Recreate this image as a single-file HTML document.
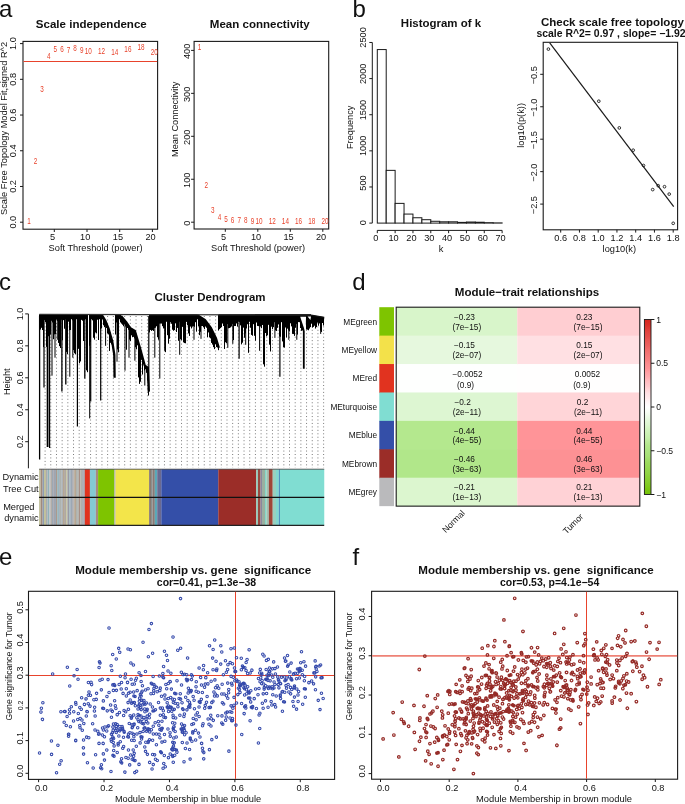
<!DOCTYPE html>
<html><head><meta charset="utf-8"><style>
html,body{margin:0;padding:0;background:#fff;width:685px;height:804px;overflow:hidden;}
svg{display:block;font-family:"Liberation Sans", sans-serif;will-change:transform;}
</style></head><body>
<svg width="685" height="804" viewBox="0 0 685 804" font-family='"Liberation Sans", sans-serif'>
<text x="-0.9" y="17.3" font-size="24" text-anchor="start" fill="#111">a</text>
<text x="352.6" y="17.3" font-size="24" text-anchor="start" fill="#111">b</text>
<text x="-1" y="290.4" font-size="24" text-anchor="start" fill="#111">c</text>
<text x="352.3" y="290.4" font-size="24" text-anchor="start" fill="#111">d</text>
<text x="-0.9" y="565" font-size="24" text-anchor="start" fill="#111">e</text>
<text x="352.4" y="565" font-size="24" text-anchor="start" fill="#111">f</text>
<text x="91.3" y="27.6" font-size="11.5" text-anchor="middle" fill="#111" font-weight="bold" textLength="110.9" lengthAdjust="spacingAndGlyphs">Scale independence</text>
<rect x="23" y="41.4" width="134.6" height="187.8" fill="none" stroke="#1a1a1a" stroke-width="1.1" />
<line x1="20" y1="222.2" x2="23" y2="222.2" stroke="#1a1a1a" stroke-width="1" />
<text transform="translate(16.4 222.2) rotate(-90)" font-size="9.2" text-anchor="middle" fill="#111">0.0</text>
<line x1="20" y1="186.48" x2="23" y2="186.48" stroke="#1a1a1a" stroke-width="1" />
<text transform="translate(16.4 186.48) rotate(-90)" font-size="9.2" text-anchor="middle" fill="#111">0.2</text>
<line x1="20" y1="150.76" x2="23" y2="150.76" stroke="#1a1a1a" stroke-width="1" />
<text transform="translate(16.4 150.76) rotate(-90)" font-size="9.2" text-anchor="middle" fill="#111">0.4</text>
<line x1="20" y1="115.04" x2="23" y2="115.04" stroke="#1a1a1a" stroke-width="1" />
<text transform="translate(16.4 115.04) rotate(-90)" font-size="9.2" text-anchor="middle" fill="#111">0.6</text>
<line x1="20" y1="79.32" x2="23" y2="79.32" stroke="#1a1a1a" stroke-width="1" />
<text transform="translate(16.4 79.32) rotate(-90)" font-size="9.2" text-anchor="middle" fill="#111">0.8</text>
<line x1="20" y1="43.6" x2="23" y2="43.6" stroke="#1a1a1a" stroke-width="1" />
<text transform="translate(16.4 43.6) rotate(-90)" font-size="9.2" text-anchor="middle" fill="#111">1.0</text>
<line x1="54.3" y1="229.2" x2="54.3" y2="232" stroke="#1a1a1a" stroke-width="1" />
<text x="52.5" y="239.6" font-size="9.2" text-anchor="middle" fill="#111">5</text>
<line x1="87" y1="229.2" x2="87" y2="232" stroke="#1a1a1a" stroke-width="1" />
<text x="85.2" y="239.6" font-size="9.2" text-anchor="middle" fill="#111">10</text>
<line x1="119.7" y1="229.2" x2="119.7" y2="232" stroke="#1a1a1a" stroke-width="1" />
<text x="117.9" y="239.6" font-size="9.2" text-anchor="middle" fill="#111">15</text>
<line x1="152.4" y1="229.2" x2="152.4" y2="232" stroke="#1a1a1a" stroke-width="1" />
<text x="150.6" y="239.6" font-size="9.2" text-anchor="middle" fill="#111">20</text>
<text x="95.6" y="251.4" font-size="9.25" text-anchor="middle" fill="#111" textLength="94" lengthAdjust="spacingAndGlyphs">Soft Threshold (power)</text>
<text transform="translate(7.3 128.4) rotate(-90)" font-size="9.25" text-anchor="middle" fill="#111" textLength="173" lengthAdjust="spacingAndGlyphs">Scale Free Topology Model Fit,signed R^2</text>
<line x1="23.5" y1="61.5" x2="157.1" y2="61.5" stroke="#e8432c" stroke-width="1.1" />
<text transform="translate(28.9 223.9) scale(0.74 1)" font-size="8.6" text-anchor="middle" fill="#e8432c">1</text>
<text transform="translate(35.5 163.7) scale(0.74 1)" font-size="8.6" text-anchor="middle" fill="#e8432c">2</text>
<text transform="translate(42.1 92.4) scale(0.74 1)" font-size="8.6" text-anchor="middle" fill="#e8432c">3</text>
<text transform="translate(48.7 58.9) scale(0.74 1)" font-size="8.6" text-anchor="middle" fill="#e8432c">4</text>
<text transform="translate(55.3 52.3) scale(0.74 1)" font-size="8.6" text-anchor="middle" fill="#e8432c">5</text>
<text transform="translate(61.9 52.3) scale(0.74 1)" font-size="8.6" text-anchor="middle" fill="#e8432c">6</text>
<text transform="translate(68.5 53.2) scale(0.74 1)" font-size="8.6" text-anchor="middle" fill="#e8432c">7</text>
<text transform="translate(75.1 51.4) scale(0.74 1)" font-size="8.6" text-anchor="middle" fill="#e8432c">8</text>
<text transform="translate(81.7 53.2) scale(0.74 1)" font-size="8.6" text-anchor="middle" fill="#e8432c">9</text>
<text transform="translate(88.3 54) scale(0.74 1)" font-size="8.6" text-anchor="middle" fill="#e8432c">10</text>
<text transform="translate(101.5 53.5) scale(0.74 1)" font-size="8.6" text-anchor="middle" fill="#e8432c">12</text>
<text transform="translate(114.7 55) scale(0.74 1)" font-size="8.6" text-anchor="middle" fill="#e8432c">14</text>
<text transform="translate(127.9 52.1) scale(0.74 1)" font-size="8.6" text-anchor="middle" fill="#e8432c">16</text>
<text transform="translate(141.1 50.1) scale(0.74 1)" font-size="8.6" text-anchor="middle" fill="#e8432c">18</text>
<text transform="translate(154.3 54.6) scale(0.74 1)" font-size="8.6" text-anchor="middle" fill="#e8432c">20</text>
<text x="259.8" y="27.6" font-size="11.5" text-anchor="middle" fill="#111" font-weight="bold" textLength="99.9" lengthAdjust="spacingAndGlyphs">Mean connectivity</text>
<rect x="194.1" y="41.4" width="134.6" height="187.6" fill="none" stroke="#1a1a1a" stroke-width="1.1" />
<line x1="191.1" y1="222.2" x2="194.1" y2="222.2" stroke="#1a1a1a" stroke-width="1" />
<text transform="translate(189.5 223.2) rotate(-90)" font-size="9.2" text-anchor="middle" fill="#111">0</text>
<line x1="191.1" y1="179.25" x2="194.1" y2="179.25" stroke="#1a1a1a" stroke-width="1" />
<text transform="translate(189.5 180.25) rotate(-90)" font-size="9.2" text-anchor="middle" fill="#111">100</text>
<line x1="191.1" y1="136.3" x2="194.1" y2="136.3" stroke="#1a1a1a" stroke-width="1" />
<text transform="translate(189.5 137.3) rotate(-90)" font-size="9.2" text-anchor="middle" fill="#111">200</text>
<line x1="191.1" y1="93.35" x2="194.1" y2="93.35" stroke="#1a1a1a" stroke-width="1" />
<text transform="translate(189.5 94.35) rotate(-90)" font-size="9.2" text-anchor="middle" fill="#111">300</text>
<line x1="191.1" y1="50.4" x2="194.1" y2="50.4" stroke="#1a1a1a" stroke-width="1" />
<text transform="translate(189.5 51.4) rotate(-90)" font-size="9.2" text-anchor="middle" fill="#111">400</text>
<line x1="225.3" y1="229" x2="225.3" y2="231.8" stroke="#1a1a1a" stroke-width="1" />
<text x="223.5" y="239.6" font-size="9.2" text-anchor="middle" fill="#111">5</text>
<line x1="257.8" y1="229" x2="257.8" y2="231.8" stroke="#1a1a1a" stroke-width="1" />
<text x="256" y="239.6" font-size="9.2" text-anchor="middle" fill="#111">10</text>
<line x1="290.3" y1="229" x2="290.3" y2="231.8" stroke="#1a1a1a" stroke-width="1" />
<text x="288.5" y="239.6" font-size="9.2" text-anchor="middle" fill="#111">15</text>
<line x1="322.8" y1="229" x2="322.8" y2="231.8" stroke="#1a1a1a" stroke-width="1" />
<text x="321" y="239.6" font-size="9.2" text-anchor="middle" fill="#111">20</text>
<text x="258.1" y="251.4" font-size="9.25" text-anchor="middle" fill="#111" textLength="94" lengthAdjust="spacingAndGlyphs">Soft Threshold (power)</text>
<text transform="translate(178.3 119.3) rotate(-90)" font-size="9.25" text-anchor="middle" fill="#111" textLength="75.4" lengthAdjust="spacingAndGlyphs">Mean Connectivity</text>
<text transform="translate(199.6 50) scale(0.74 1)" font-size="8.6" text-anchor="middle" fill="#e8432c">1</text>
<text transform="translate(206.2 187.5) scale(0.74 1)" font-size="8.6" text-anchor="middle" fill="#e8432c">2</text>
<text transform="translate(212.8 212.6) scale(0.74 1)" font-size="8.6" text-anchor="middle" fill="#e8432c">3</text>
<text transform="translate(219.4 219.5) scale(0.74 1)" font-size="8.6" text-anchor="middle" fill="#e8432c">4</text>
<text transform="translate(226 221.5) scale(0.74 1)" font-size="8.6" text-anchor="middle" fill="#e8432c">5</text>
<text transform="translate(232.6 223.1) scale(0.74 1)" font-size="8.6" text-anchor="middle" fill="#e8432c">6</text>
<text transform="translate(239.2 223.1) scale(0.74 1)" font-size="8.6" text-anchor="middle" fill="#e8432c">7</text>
<text transform="translate(245.8 223.3) scale(0.74 1)" font-size="8.6" text-anchor="middle" fill="#e8432c">8</text>
<text transform="translate(252.4 223.6) scale(0.74 1)" font-size="8.6" text-anchor="middle" fill="#e8432c">9</text>
<text transform="translate(259 223.6) scale(0.74 1)" font-size="8.6" text-anchor="middle" fill="#e8432c">10</text>
<text transform="translate(272.2 223.7) scale(0.74 1)" font-size="8.6" text-anchor="middle" fill="#e8432c">12</text>
<text transform="translate(285.4 223.7) scale(0.74 1)" font-size="8.6" text-anchor="middle" fill="#e8432c">14</text>
<text transform="translate(298.6 223.7) scale(0.74 1)" font-size="8.6" text-anchor="middle" fill="#e8432c">16</text>
<text transform="translate(311.8 223.7) scale(0.74 1)" font-size="8.6" text-anchor="middle" fill="#e8432c">18</text>
<text transform="translate(325 223.7) scale(0.74 1)" font-size="8.6" text-anchor="middle" fill="#e8432c">20</text>
<text x="441" y="26.5" font-size="11.5" text-anchor="middle" fill="#111" font-weight="bold" textLength="80.3" lengthAdjust="spacingAndGlyphs">Histogram of k</text>
<rect x="377.3" y="49.56" width="8.91" height="173.54" fill="#fff" stroke="#1a1a1a" stroke-width="1" />
<rect x="386.22" y="170.36" width="8.91" height="52.74" fill="#fff" stroke="#1a1a1a" stroke-width="1" />
<rect x="395.13" y="203.38" width="8.91" height="19.72" fill="#fff" stroke="#1a1a1a" stroke-width="1" />
<rect x="404.05" y="214.07" width="8.91" height="9.03" fill="#fff" stroke="#1a1a1a" stroke-width="1" />
<rect x="412.96" y="217.75" width="8.91" height="5.35" fill="#fff" stroke="#1a1a1a" stroke-width="1" />
<rect x="421.88" y="219.7" width="8.91" height="3.4" fill="#fff" stroke="#1a1a1a" stroke-width="1" />
<rect x="430.79" y="221.29" width="8.91" height="1.81" fill="#fff" stroke="#1a1a1a" stroke-width="1" />
<rect x="439.7" y="221.8" width="8.91" height="1.3" fill="#fff" stroke="#1a1a1a" stroke-width="1" />
<rect x="448.62" y="221.8" width="8.91" height="1.3" fill="#fff" stroke="#1a1a1a" stroke-width="1" />
<rect x="457.54" y="222.38" width="8.91" height="0.72" fill="#fff" stroke="#1a1a1a" stroke-width="1" />
<rect x="466.45" y="222.02" width="8.91" height="1.08" fill="#fff" stroke="#1a1a1a" stroke-width="1" />
<rect x="475.37" y="222.23" width="8.91" height="0.87" fill="#fff" stroke="#1a1a1a" stroke-width="1" />
<rect x="484.28" y="222.67" width="8.91" height="0.43" fill="#fff" stroke="#1a1a1a" stroke-width="1" />
<rect x="493.19" y="222.88" width="8.91" height="0.22" fill="#fff" stroke="#1a1a1a" stroke-width="1" />
<line x1="372.3" y1="223.1" x2="372.3" y2="42.47" stroke="#1a1a1a" stroke-width="1" />
<line x1="369.3" y1="223.1" x2="372.3" y2="223.1" stroke="#1a1a1a" stroke-width="1" />
<text transform="translate(365.9 222.8) rotate(-90)" font-size="9.2" text-anchor="middle" fill="#111">0</text>
<line x1="369.3" y1="186.97" x2="372.3" y2="186.97" stroke="#1a1a1a" stroke-width="1" />
<text transform="translate(365.9 182.97) rotate(-90)" font-size="9.2" text-anchor="middle" fill="#111">500</text>
<line x1="369.3" y1="150.85" x2="372.3" y2="150.85" stroke="#1a1a1a" stroke-width="1" />
<text transform="translate(365.9 145.85) rotate(-90)" font-size="9.2" text-anchor="middle" fill="#111">1000</text>
<line x1="369.3" y1="114.73" x2="372.3" y2="114.73" stroke="#1a1a1a" stroke-width="1" />
<text transform="translate(365.9 110.03) rotate(-90)" font-size="9.2" text-anchor="middle" fill="#111">1500</text>
<line x1="369.3" y1="78.6" x2="372.3" y2="78.6" stroke="#1a1a1a" stroke-width="1" />
<text transform="translate(365.9 73.8) rotate(-90)" font-size="9.2" text-anchor="middle" fill="#111">2000</text>
<line x1="369.3" y1="42.47" x2="372.3" y2="42.47" stroke="#1a1a1a" stroke-width="1" />
<text transform="translate(365.9 37.47) rotate(-90)" font-size="9.2" text-anchor="middle" fill="#111">2500</text>
<line x1="377.3" y1="230.4" x2="502.11" y2="230.4" stroke="#1a1a1a" stroke-width="1" />
<line x1="377.3" y1="230.4" x2="377.3" y2="233.2" stroke="#1a1a1a" stroke-width="1" />
<text x="375.8" y="240.8" font-size="9.2" text-anchor="middle" fill="#111">0</text>
<line x1="395.13" y1="230.4" x2="395.13" y2="233.2" stroke="#1a1a1a" stroke-width="1" />
<text x="393.63" y="240.8" font-size="9.2" text-anchor="middle" fill="#111">10</text>
<line x1="412.96" y1="230.4" x2="412.96" y2="233.2" stroke="#1a1a1a" stroke-width="1" />
<text x="411.46" y="240.8" font-size="9.2" text-anchor="middle" fill="#111">20</text>
<line x1="430.79" y1="230.4" x2="430.79" y2="233.2" stroke="#1a1a1a" stroke-width="1" />
<text x="429.29" y="240.8" font-size="9.2" text-anchor="middle" fill="#111">30</text>
<line x1="448.62" y1="230.4" x2="448.62" y2="233.2" stroke="#1a1a1a" stroke-width="1" />
<text x="447.12" y="240.8" font-size="9.2" text-anchor="middle" fill="#111">40</text>
<line x1="466.45" y1="230.4" x2="466.45" y2="233.2" stroke="#1a1a1a" stroke-width="1" />
<text x="464.95" y="240.8" font-size="9.2" text-anchor="middle" fill="#111">50</text>
<line x1="484.28" y1="230.4" x2="484.28" y2="233.2" stroke="#1a1a1a" stroke-width="1" />
<text x="482.78" y="240.8" font-size="9.2" text-anchor="middle" fill="#111">60</text>
<line x1="502.11" y1="230.4" x2="502.11" y2="233.2" stroke="#1a1a1a" stroke-width="1" />
<text x="500.61" y="240.8" font-size="9.2" text-anchor="middle" fill="#111">70</text>
<text x="441" y="252.4" font-size="9.25" text-anchor="middle" fill="#111">k</text>
<text transform="translate(353.3 127.3) rotate(-90)" font-size="9.25" text-anchor="middle" fill="#111" textLength="43.5" lengthAdjust="spacingAndGlyphs">Frequency</text>
<text x="612.4" y="26.3" font-size="11.5" text-anchor="middle" fill="#111" font-weight="bold" textLength="143" lengthAdjust="spacingAndGlyphs">Check scale free topology</text>
<text x="536.4" y="36.6" font-size="10.4" text-anchor="start" fill="#111" font-weight="bold" textLength="149.2" lengthAdjust="spacingAndGlyphs">scale R^2= 0.97 , slope= −1.92</text>
<rect x="543.2" y="42.3" width="134.4" height="187.5" fill="none" stroke="#1a1a1a" stroke-width="1.1" />
<line x1="540.2" y1="74.3" x2="543.2" y2="74.3" stroke="#1a1a1a" stroke-width="1" />
<text transform="translate(537 75.3) rotate(-90)" font-size="9.2" text-anchor="middle" fill="#111">−0.5</text>
<line x1="540.2" y1="106.75" x2="543.2" y2="106.75" stroke="#1a1a1a" stroke-width="1" />
<text transform="translate(537 107.75) rotate(-90)" font-size="9.2" text-anchor="middle" fill="#111">−1.0</text>
<line x1="540.2" y1="139.2" x2="543.2" y2="139.2" stroke="#1a1a1a" stroke-width="1" />
<text transform="translate(537 140.2) rotate(-90)" font-size="9.2" text-anchor="middle" fill="#111">−1.5</text>
<line x1="540.2" y1="171.65" x2="543.2" y2="171.65" stroke="#1a1a1a" stroke-width="1" />
<text transform="translate(537 172.65) rotate(-90)" font-size="9.2" text-anchor="middle" fill="#111">−2.0</text>
<line x1="540.2" y1="204.1" x2="543.2" y2="204.1" stroke="#1a1a1a" stroke-width="1" />
<text transform="translate(537 205.1) rotate(-90)" font-size="9.2" text-anchor="middle" fill="#111">−2.5</text>
<line x1="560.7" y1="229.8" x2="560.7" y2="232.6" stroke="#1a1a1a" stroke-width="1" />
<text x="560.7" y="240.6" font-size="9.2" text-anchor="middle" fill="#111">0.6</text>
<line x1="579.45" y1="229.8" x2="579.45" y2="232.6" stroke="#1a1a1a" stroke-width="1" />
<text x="579.45" y="240.6" font-size="9.2" text-anchor="middle" fill="#111">0.8</text>
<line x1="598.2" y1="229.8" x2="598.2" y2="232.6" stroke="#1a1a1a" stroke-width="1" />
<text x="598.2" y="240.6" font-size="9.2" text-anchor="middle" fill="#111">1.0</text>
<line x1="616.95" y1="229.8" x2="616.95" y2="232.6" stroke="#1a1a1a" stroke-width="1" />
<text x="616.95" y="240.6" font-size="9.2" text-anchor="middle" fill="#111">1.2</text>
<line x1="635.7" y1="229.8" x2="635.7" y2="232.6" stroke="#1a1a1a" stroke-width="1" />
<text x="635.7" y="240.6" font-size="9.2" text-anchor="middle" fill="#111">1.4</text>
<line x1="654.45" y1="229.8" x2="654.45" y2="232.6" stroke="#1a1a1a" stroke-width="1" />
<text x="654.45" y="240.6" font-size="9.2" text-anchor="middle" fill="#111">1.6</text>
<line x1="673.2" y1="229.8" x2="673.2" y2="232.6" stroke="#1a1a1a" stroke-width="1" />
<text x="673.2" y="240.6" font-size="9.2" text-anchor="middle" fill="#111">1.8</text>
<text x="619.3" y="252.4" font-size="9.25" text-anchor="middle" fill="#111">log10(k)</text>
<text transform="translate(524.3 125.4) rotate(-90)" font-size="9.25" text-anchor="middle" fill="#111" textLength="44.8" lengthAdjust="spacingAndGlyphs">log10(p(k))</text>
<line x1="549.7" y1="42.8" x2="673.7" y2="206.7" stroke="#1a1a1a" stroke-width="1.2" />
<circle cx="548.4" cy="49.1" r="1.35" fill="none" stroke="#1a1a1a" stroke-width="0.9"/>
<circle cx="598.8" cy="101.2" r="1.35" fill="none" stroke="#1a1a1a" stroke-width="0.9"/>
<circle cx="619.3" cy="127.9" r="1.35" fill="none" stroke="#1a1a1a" stroke-width="0.9"/>
<circle cx="633.2" cy="150.2" r="1.35" fill="none" stroke="#1a1a1a" stroke-width="0.9"/>
<circle cx="643.5" cy="165.5" r="1.35" fill="none" stroke="#1a1a1a" stroke-width="0.9"/>
<circle cx="652.7" cy="189.6" r="1.35" fill="none" stroke="#1a1a1a" stroke-width="0.9"/>
<circle cx="658.2" cy="185.7" r="1.35" fill="none" stroke="#1a1a1a" stroke-width="0.9"/>
<circle cx="664.5" cy="186.7" r="1.35" fill="none" stroke="#1a1a1a" stroke-width="0.9"/>
<circle cx="669.2" cy="194.1" r="1.35" fill="none" stroke="#1a1a1a" stroke-width="0.9"/>
<circle cx="673.2" cy="223.3" r="1.35" fill="none" stroke="#1a1a1a" stroke-width="0.9"/>
<text x="210" y="300.9" font-size="11.5" text-anchor="middle" fill="#111" font-weight="bold" textLength="111" lengthAdjust="spacingAndGlyphs">Cluster Dendrogram</text>
<line x1="28.4" y1="313.9" x2="28.4" y2="468.3" stroke="#1a1a1a" stroke-width="1" />
<line x1="25.2" y1="313.9" x2="28.4" y2="313.9" stroke="#1a1a1a" stroke-width="1" />
<text transform="translate(22.8 313.9) rotate(-90)" font-size="9.2" text-anchor="middle" fill="#111">1.0</text>
<line x1="25.2" y1="345.85" x2="28.4" y2="345.85" stroke="#1a1a1a" stroke-width="1" />
<text transform="translate(22.8 345.85) rotate(-90)" font-size="9.2" text-anchor="middle" fill="#111">0.8</text>
<line x1="25.2" y1="377.8" x2="28.4" y2="377.8" stroke="#1a1a1a" stroke-width="1" />
<text transform="translate(22.8 377.8) rotate(-90)" font-size="9.2" text-anchor="middle" fill="#111">0.6</text>
<line x1="25.2" y1="409.75" x2="28.4" y2="409.75" stroke="#1a1a1a" stroke-width="1" />
<text transform="translate(22.8 409.75) rotate(-90)" font-size="9.2" text-anchor="middle" fill="#111">0.4</text>
<line x1="25.2" y1="441.7" x2="28.4" y2="441.7" stroke="#1a1a1a" stroke-width="1" />
<text transform="translate(22.8 441.7) rotate(-90)" font-size="9.2" text-anchor="middle" fill="#111">0.2</text>
<text transform="translate(9.8 381.7) rotate(-90)" font-size="9.25" text-anchor="middle" fill="#111">Height</text>
<path d="M45.1 316V468M50.78 316V468M56.47 316V468M62.15 316V468M67.84 316V468M73.52 316V468M79.2 316V468M84.89 316V468M90.57 316V468M96.26 316V468M101.94 316V468M107.62 316V468M113.31 316V468M118.99 316V468M124.68 316V468M130.36 316V468M136.04 316V468M141.73 316V468M147.41 316V468M153.1 316V468M158.78 316V468M164.46 316V468M170.15 316V468M175.83 316V468M181.52 316V468M187.2 316V468M192.88 316V468M198.57 316V468M204.25 316V468M209.94 316V468M215.62 316V468M221.3 316V468M226.99 316V468M232.67 316V468M238.36 316V468M244.04 316V468M249.72 316V468M255.41 316V468M261.09 316V468M266.78 316V468M272.46 316V468M278.14 316V468M283.83 316V468M289.51 316V468M295.2 316V468M300.88 316V468M306.56 316V468M312.25 316V468M317.93 316V468M323.62 316V468" stroke="#7a7a7a" stroke-width="1" stroke-dasharray="1 2.45" fill="none"/>
<rect x="39.4" y="314.2" width="48.6" height="5" fill="#000" stroke="none" stroke-width="1" />
<rect x="89.6" y="314.2" width="12.3" height="5" fill="#000" stroke="none" stroke-width="1" />
<rect x="115" y="314.2" width="6" height="5" fill="#000" stroke="none" stroke-width="1" />
<rect x="149.8" y="314.2" width="47.2" height="5" fill="#000" stroke="none" stroke-width="1" />
<rect x="218.8" y="314.2" width="105.4" height="5" fill="#000" stroke="none" stroke-width="1" />
<path d="M39.5 314.7V350.2M40.5 314.7V329.57M41.5 314.7V327.82M42.5 314.7V330.04M43.5 314.7V347.12M44.5 314.7V319.96M45.5 314.7V322.36M46.5 314.7V346.85M47.5 314.7V341.2M48.5 314.7V336.24M49.5 314.7V335.77M50.5 314.7V334.61M51.5 314.7V320.77M52.5 314.7V322.46M53.5 314.7V339.19M54.5 314.7V334.37M55.5 314.7V334.14M56.5 314.7V319.46M57.5 314.7V320.99M58.5 314.7V342.9M59.5 314.7V346.13M60.5 314.7V348.04M61.5 314.7V319.73M62.5 314.7V340.07M63.5 314.7V320.15M64.5 314.7V328.72M65.5 314.7V318.42M66.5 314.7V351.91M67.5 314.7V354.02M68.5 314.7V321.69M69.5 314.7V330.15M70.5 314.7V330.04M71.5 314.7V318.99M72.5 314.7V320.3M73.5 314.7V350.04M74.5 314.7V353.28M75.5 314.7V354.4M76.5 314.7V319.04M77.5 314.7V346.88M78.5 314.7V348.84M79.5 314.7V363.27M80.5 314.7V361.33M81.5 314.7V319.84M82.5 314.7V320.7M83.5 314.7V341.03M84.5 314.7V320.02M85.5 314.7V317.98M86.5 314.7V370.37M87.5 314.7V372.19M89.5 314.7V345.78M90.5 314.7V342.15M91.5 314.7V317.87M92.5 314.7V320.36M93.5 314.7V337.75M94.5 314.7V339.62M95.5 314.7V332.56M96.5 314.7V333.16M97.5 314.7V319.66M98.5 314.7V340.03M99.5 314.7V317.92M100.5 314.7V329.01M101.5 314.7V328.43M101.5 315V318.92M102.5 315.97V319.51M103.5 317.58V325.28M104.5 319.19V327.16M105.5 321.2V325.69M106.5 323.6V327.96M107.5 326V333.33M108.5 328.4V334.45M109.5 331.84V350.98M110.5 335.29V342.84M111.5 338.73V344.42M112.5 343.33V348.17M113.5 349.65V355.25M114.5 370.03V375.71M115.5 314.7V334.55M116.5 314.7V322.49M117.5 314.7V349.38M118.5 314.7V352.31M119.5 314.7V318.89M120.5 314.7V322.4M121.5 316.6V323.65M122.5 317.8V324.75M123.5 319V326.25M124.5 320.2V324.41M125.5 321.4V326.52M126.5 322.75V349.73M127.5 324.25V327.99M128.5 325.75V329.79M129.5 327.25V339.61M130.5 328.31V341.13M131.5 328.92V335.32M132.5 329.53V337.2M133.5 330.14V336.9M134.5 330.76V338.44M135.5 333.02V346.99M136.5 336.38V349.33M137.5 339.74V345.3M138.5 343.1V377.42M139.5 346.46V383.9M140.5 349.99V381.76M141.5 353.64V359.88M142.5 357.3V374.53M143.5 360.95V364.24M144.5 364.6V370.39M145.5 366.17V369.24M146.5 366.83V372.82M147.5 367.5V380.61M148.5 384.43V395.58M149.5 314.7V332.48M150.5 314.7V329.96M151.5 314.7V330.9M152.5 314.7V330.03M153.5 314.7V330.97M154.5 314.7V328.03M155.5 314.7V327.72M156.5 314.7V326.28M157.5 314.7V337.24M158.5 314.7V339.74M159.5 314.7V323.61M160.5 314.7V323.59M161.5 314.7V323.58M162.5 314.7V326.2M163.5 314.7V328.44M164.5 314.7V328.45M165.5 314.7V352.14M166.5 314.7V321.79M167.5 314.7V335.16M168.5 314.7V343.66M169.5 314.7V338.71M170.5 314.7V322.38M171.5 314.7V323.79M172.5 314.7V329.68M173.5 314.7V330.78M174.5 314.7V330.11M175.5 314.7V323.07M176.5 314.7V331.97M177.5 314.7V327.95M178.5 314.7V340.84M179.5 314.7V321.76M180.5 314.7V339.27M181.5 314.7V340.05M182.5 314.7V326.89M183.5 314.7V342.38M184.5 314.7V343.07M185.5 314.7V343.29M186.5 314.7V321.9M187.5 314.7V325.29M188.5 314.7V333.43M189.5 314.7V335.93M190.5 314.7V326.59M191.5 314.7V328.45M192.5 314.7V326.56M193.5 314.7V326.09M194.5 314.7V326.78M195.5 314.7V322.21M196.5 314.7V331.65M197.5 315.32V319.34M198.5 315.95V326.25M199.5 316.58V335.14M200.5 317.22V331.81M201.5 317.85V326.04M202.5 318.48V326.03M203.5 319.11V327.3M204.5 319.75V329.09M205.5 320.8V326.57M206.5 322.13V327.77M207.5 323.47V337.37M208.5 324.8V332.41M209.5 326.13V337.32M210.5 327.47V338.37M211.5 329.21V342.91M212.5 331.23V344.58M213.5 333.25V347.16M214.5 335.27V349.12M215.5 337.29V344.09M216.5 340.21V347M217.5 343.51V347.23M218.5 346.81V350.19M218.5 314.7V330.59M219.5 314.7V329.18M220.5 314.7V328.17M221.5 314.7V327.11M222.5 314.7V323.53M223.5 314.7V326.03M224.5 314.7V348.95M225.5 314.7V342.28M226.5 314.7V343.24M227.5 314.7V324.06M228.5 314.7V328.29M229.5 314.7V328.02M230.5 314.7V327.46M231.5 314.7V326.47M232.5 314.7V323.83M233.5 314.7V340.03M234.5 314.7V326.05M235.5 314.7V326M236.5 314.7V323.44M237.5 314.7V326.61M238.5 314.7V321.75M239.5 314.7V322.12M240.5 314.7V325.38M241.5 314.7V344.38M242.5 314.7V342.71M243.5 314.7V327.65M244.5 314.7V337.74M245.5 314.7V333.48M246.5 314.7V328.48M247.5 314.7V324.26M248.5 314.7V352.8M249.5 314.7V321.81M250.5 314.7V327.78M251.5 314.7V334.91M252.5 314.7V335.72M253.5 314.7V324.2M254.5 314.7V335.8M255.5 314.7V340.68M256.5 314.7V322.52M257.5 314.7V325.95M258.5 314.7V326.14M259.5 314.7V325.92M260.5 314.7V326.56M261.5 314.7V328.19M262.5 314.7V324.97M263.5 314.7V364.35M264.5 314.7V366.65M265.5 314.7V333M266.5 314.7V336.27M267.5 314.7V335.37M268.5 314.7V324.85M269.5 314.7V344.71M270.5 314.7V351.49M271.5 314.7V326.73M272.5 314.7V329.1M273.5 314.7V327.18M274.5 314.7V322.16M275.5 314.7V330.45M276.5 314.7V331.01M277.5 314.7V327.82M278.5 314.7V324.45M279.5 314.7V336.44M280.5 314.7V336.8M281.5 314.7V322.2M282.5 314.7V341.41M283.5 314.7V347.03M284.5 314.7V347.63M285.5 314.7V327.53M286.5 314.7V337.61M287.5 314.7V328.66M288.5 314.7V330.41M289.5 314.7V331.38M290.5 314.7V323.31M291.5 314.7V326.38M292.5 314.7V333.87M293.5 314.7V334.08M294.5 314.7V335.86M295.5 314.7V327.77M296.5 314.7V323.93M297.5 314.7V334.6M298.5 314.7V322.08M299.5 314.7V322.22M300.5 314.7V328.04M301.5 314.7V330.84M302.5 314.7V330.48M303.5 314.7V324.29M304.5 314.7V325.79M305.5 314.7V324.54M306.5 314.7V329.56M307.5 314.7V329.71M308.5 314.7V330.27M309.5 314.7V328.56M310.5 314.7V327.13M311.5 314.7V323.67M312.5 314.7V327.61M313.5 314.7V326.91M314.5 314.7V325.71M315.5 314.7V328.55M316.5 314.7V327.16M317.5 314.7V322.7M318.5 314.7V325.71M319.5 314.7V323.43M320.5 314.7V330.5M321.5 314.7V331.94M322.5 314.7V323.01M323.5 314.7V325.5M52 316V375.7M55 316V357.7M57.3 316V339.8M69.8 316V376.7M72.8 316V357.7M79.8 316V361.7M89.7 316V418.4M105.6 321.44V345.8M117 316V361.7M125 320.8V370.7M129 326.5V357.7M134.9 331V360.7M144.8 365.7V385.6M154.8 316V357.7M159.8 316V378.6M164.7 316V350.8M179.7 316V354.8M194 316V339.8M201 317.53V338.8M227.8 316V347.8M232.8 316V343.8M245.7 316V344.8M259.6 316V350.8M274.9 316V337.9M288.8 316V339.8M296.8 316V339.8M320.7 316V333.9" stroke="#000" stroke-width="1" fill="none"/>
<path d="M44 316V387.6M49.6 316V448M77.4 316V426.4M90.7 316V401.5M100.7 316V400.5M148.8 316V391.6M239.1 316V358.7M279.9 316V376.7" stroke="#000" stroke-width="1.2" fill="none"/>
<path d="M39.6 316V459.5M61.9 316V391.6M65.8 316V384.6M84.8 316V378.6" stroke="#000" stroke-width="1.3" fill="none"/>
<path d="M47.6 316V447M303.8 316V368.7" stroke="#000" stroke-width="1.8" fill="none"/>
<polygon points="300.2,316.8 306,316.8 305.6,333" fill="#fff"/>
<polygon points="307.6,316.4 311,316.4 310.4,320" fill="#fff"/>
<polygon points="311,313 325,313 325,317.2 311,315" fill="#fff"/>
<line x1="311" y1="315.1" x2="324.2" y2="317.3" stroke="#111" stroke-width="1.3" />
<polyline points="101.9,315 105,320 108.5,328.4 112.1,340.8 114.3,354.7 114.6,377.7" stroke="#000" stroke-width="2.3" fill="none" stroke-linejoin="round"/>
<polyline points="121,316 126,322 130,328 134.9,331 139.9,347.8 144.8,365.7 147.8,367.7 148.8,391.6" stroke="#000" stroke-width="2.3" fill="none" stroke-linejoin="round"/>
<polyline points="197,315 204.9,320 210.9,328 215.8,337.9 218.8,347.8" stroke="#000" stroke-width="2.3" fill="none" stroke-linejoin="round"/>
<line x1="39.4" y1="314.4" x2="311.2" y2="314.9" stroke="#333" stroke-width="1.2" />
<rect x="39.1" y="469" width="1.58" height="56.3" fill="#c0c09a" stroke="none" stroke-width="1" />
<rect x="40.63" y="469" width="2.01" height="56.3" fill="#a08a7c" stroke="none" stroke-width="1" />
<rect x="42.59" y="469" width="1.52" height="56.3" fill="#8e9eb2" stroke="none" stroke-width="1" />
<rect x="44.05" y="469" width="2.09" height="56.3" fill="#c0c09a" stroke="none" stroke-width="1" />
<rect x="46.1" y="469" width="0.81" height="56.3" fill="#9a9aa4" stroke="none" stroke-width="1" />
<rect x="46.86" y="469" width="0.83" height="56.3" fill="#aeb2ae" stroke="none" stroke-width="1" />
<rect x="47.63" y="469" width="1.79" height="56.3" fill="#90b2ba" stroke="none" stroke-width="1" />
<rect x="49.38" y="469" width="1.43" height="56.3" fill="#b8b8b8" stroke="none" stroke-width="1" />
<rect x="50.76" y="469" width="1.17" height="56.3" fill="#b0a8a0" stroke="none" stroke-width="1" />
<rect x="51.87" y="469" width="1.49" height="56.3" fill="#9ca8b4" stroke="none" stroke-width="1" />
<rect x="53.31" y="469" width="1.59" height="56.3" fill="#9a9aa4" stroke="none" stroke-width="1" />
<rect x="54.85" y="469" width="1.35" height="56.3" fill="#9ca8b4" stroke="none" stroke-width="1" />
<rect x="56.16" y="469" width="1.18" height="56.3" fill="#a08a7c" stroke="none" stroke-width="1" />
<rect x="57.28" y="469" width="1.63" height="56.3" fill="#90b2ba" stroke="none" stroke-width="1" />
<rect x="58.86" y="469" width="0.99" height="56.3" fill="#9ca8b4" stroke="none" stroke-width="1" />
<rect x="59.8" y="469" width="1.89" height="56.3" fill="#aeb2ae" stroke="none" stroke-width="1" />
<rect x="61.63" y="469" width="1.21" height="56.3" fill="#9ca8b4" stroke="none" stroke-width="1" />
<rect x="62.79" y="469" width="1.33" height="56.3" fill="#b6a692" stroke="none" stroke-width="1" />
<rect x="64.07" y="469" width="2.21" height="56.3" fill="#b0a8a0" stroke="none" stroke-width="1" />
<rect x="66.24" y="469" width="1.24" height="56.3" fill="#c0c09a" stroke="none" stroke-width="1" />
<rect x="67.43" y="469" width="2.02" height="56.3" fill="#9a9aa4" stroke="none" stroke-width="1" />
<rect x="69.39" y="469" width="0.89" height="56.3" fill="#90b2ba" stroke="none" stroke-width="1" />
<rect x="70.23" y="469" width="1.93" height="56.3" fill="#9ca8b4" stroke="none" stroke-width="1" />
<rect x="72.11" y="469" width="0.78" height="56.3" fill="#9a9aa4" stroke="none" stroke-width="1" />
<rect x="72.85" y="469" width="1.36" height="56.3" fill="#b8b8b8" stroke="none" stroke-width="1" />
<rect x="74.16" y="469" width="1.87" height="56.3" fill="#b6a692" stroke="none" stroke-width="1" />
<rect x="75.98" y="469" width="1.19" height="56.3" fill="#aeb2ae" stroke="none" stroke-width="1" />
<rect x="77.12" y="469" width="1.73" height="56.3" fill="#aeb2ae" stroke="none" stroke-width="1" />
<rect x="78.8" y="469" width="1.63" height="56.3" fill="#a88e84" stroke="none" stroke-width="1" />
<rect x="80.38" y="469" width="1.97" height="56.3" fill="#aeb2ae" stroke="none" stroke-width="1" />
<rect x="82.29" y="469" width="1.43" height="56.3" fill="#9a9aa4" stroke="none" stroke-width="1" />
<rect x="83.68" y="469" width="1.17" height="56.3" fill="#9ca8b4" stroke="none" stroke-width="1" />
<rect x="84.8" y="469" width="5.15" height="56.3" fill="#e1331f" stroke="none" stroke-width="1" />
<rect x="89.9" y="469" width="5.95" height="56.3" fill="#84cad4" stroke="none" stroke-width="1" />
<rect x="95.8" y="469" width="2.35" height="56.3" fill="#a88a80" stroke="none" stroke-width="1" />
<rect x="98.1" y="469" width="16.25" height="56.3" fill="#7ec400" stroke="none" stroke-width="1" />
<rect x="114.3" y="469" width="1.35" height="56.3" fill="#b0b0a0" stroke="none" stroke-width="1" />
<rect x="115.6" y="469" width="33.55" height="56.3" fill="#f3e54a" stroke="none" stroke-width="1" />
<rect x="149.1" y="469" width="1.95" height="56.3" fill="#8a7a70" stroke="none" stroke-width="1" />
<rect x="151" y="469" width="1.55" height="56.3" fill="#8a9090" stroke="none" stroke-width="1" />
<rect x="152.5" y="469" width="2.35" height="56.3" fill="#8a7a75" stroke="none" stroke-width="1" />
<rect x="154.8" y="469" width="2.45" height="56.3" fill="#5aa8b8" stroke="none" stroke-width="1" />
<rect x="157.2" y="469" width="4.15" height="56.3" fill="#6a6a90" stroke="none" stroke-width="1" />
<rect x="161.3" y="469" width="57.05" height="56.3" fill="#344fa8" stroke="none" stroke-width="1" />
<rect x="218.3" y="469" width="37.85" height="56.3" fill="#9b2d28" stroke="none" stroke-width="1" />
<rect x="256.1" y="469" width="1.95" height="56.3" fill="#9ac8b8" stroke="none" stroke-width="1" />
<rect x="258" y="469" width="2.55" height="56.3" fill="#9a4a40" stroke="none" stroke-width="1" />
<rect x="260.5" y="469" width="1.55" height="56.3" fill="#8888a0" stroke="none" stroke-width="1" />
<rect x="262" y="469" width="3.05" height="56.3" fill="#9ab0a0" stroke="none" stroke-width="1" />
<rect x="265" y="469" width="1.55" height="56.3" fill="#88d8c8" stroke="none" stroke-width="1" />
<rect x="266.5" y="469" width="2.35" height="56.3" fill="#a0c0b0" stroke="none" stroke-width="1" />
<rect x="268.8" y="469" width="3.95" height="56.3" fill="#a04538" stroke="none" stroke-width="1" />
<rect x="272.7" y="469" width="3.35" height="56.3" fill="#98d0c0" stroke="none" stroke-width="1" />
<rect x="276" y="469" width="2.85" height="56.3" fill="#80d8d0" stroke="none" stroke-width="1" />
<rect x="278.8" y="469" width="1.25" height="56.3" fill="#5090c0" stroke="none" stroke-width="1" />
<rect x="280" y="469" width="44.25" height="56.3" fill="#80ddd2" stroke="none" stroke-width="1" />
<line x1="39.1" y1="469.2" x2="324.2" y2="469.2" stroke="#555" stroke-width="0.9" />
<line x1="39.1" y1="497.4" x2="324.2" y2="497.4" stroke="#111" stroke-width="1.3" />
<line x1="39.1" y1="525.4" x2="324.2" y2="525.4" stroke="#222" stroke-width="1.1" />
<text x="38.6" y="480.3" font-size="9.25" text-anchor="end" fill="#111">Dynamic</text>
<text x="38.6" y="491.5" font-size="9.25" text-anchor="end" fill="#111">Tree Cut</text>
<text x="34.5" y="510" font-size="9.25" text-anchor="end" fill="#111">Merged</text>
<text x="38.6" y="521" font-size="9.25" text-anchor="end" fill="#111">dynamic</text>
<text x="527" y="295.9" font-size="11.5" text-anchor="middle" fill="#111" font-weight="bold" textLength="144.4" lengthAdjust="spacingAndGlyphs">Module−trait relationships</text>
<rect x="379.3" y="307.2" width="14.7" height="29.02" fill="#7ec400" stroke="none" stroke-width="1" />
<rect x="396.2" y="307.2" width="121.1" height="29.02" fill="#d8f5ca" stroke="none" stroke-width="1" />
<rect x="517.3" y="307.2" width="122.5" height="29.02" fill="#ffced2" stroke="none" stroke-width="1" />
<text x="377" y="324.61" font-size="8.3" text-anchor="end" fill="#111">MEgreen</text>
<text x="464.4" y="319.9" font-size="8.3" text-anchor="middle" fill="#111">−0.23</text>
<text x="466.8" y="329.8" font-size="8.3" text-anchor="middle" fill="#111">(7e−15)</text>
<text x="584.3" y="319.9" font-size="8.3" text-anchor="middle" fill="#111">0.23</text>
<text x="588" y="329.8" font-size="8.3" text-anchor="middle" fill="#111">(7e−15)</text>
<rect x="379.3" y="335.62" width="14.7" height="29.02" fill="#f3e14a" stroke="none" stroke-width="1" />
<rect x="396.2" y="335.62" width="121.1" height="29.02" fill="#e6f8de" stroke="none" stroke-width="1" />
<rect x="517.3" y="335.62" width="122.5" height="29.02" fill="#ffe0e3" stroke="none" stroke-width="1" />
<text x="377" y="353.03" font-size="8.3" text-anchor="end" fill="#111">MEyellow</text>
<text x="464.4" y="348.32" font-size="8.3" text-anchor="middle" fill="#111">−0.15</text>
<text x="466.8" y="358.22" font-size="8.3" text-anchor="middle" fill="#111">(2e−07)</text>
<text x="584.3" y="348.32" font-size="8.3" text-anchor="middle" fill="#111">0.15</text>
<text x="588" y="358.22" font-size="8.3" text-anchor="middle" fill="#111">(2e−07)</text>
<rect x="379.3" y="364.04" width="14.7" height="29.02" fill="#e1331f" stroke="none" stroke-width="1" />
<rect x="396.2" y="364.04" width="121.1" height="29.02" fill="#fefffe" stroke="none" stroke-width="1" />
<rect x="517.3" y="364.04" width="122.5" height="29.02" fill="#fffefe" stroke="none" stroke-width="1" />
<text x="377" y="381.45" font-size="8.3" text-anchor="end" fill="#111">MEred</text>
<text x="467.5" y="376.94" font-size="8.3" text-anchor="middle" fill="#111">−0.0052</text>
<text x="465.6" y="388.34" font-size="8.3" text-anchor="middle" fill="#111">(0.9)</text>
<text x="587.5" y="376.94" font-size="8.3" text-anchor="middle" fill="#111">0.0052</text>
<text x="581.9" y="388.34" font-size="8.3" text-anchor="middle" fill="#111">(0.9)</text>
<rect x="379.3" y="392.46" width="14.7" height="29.02" fill="#80ddd2" stroke="none" stroke-width="1" />
<rect x="396.2" y="392.46" width="121.1" height="29.02" fill="#ddf6d2" stroke="none" stroke-width="1" />
<rect x="517.3" y="392.46" width="122.5" height="29.02" fill="#ffd5d8" stroke="none" stroke-width="1" />
<text x="377" y="409.87" font-size="8.3" text-anchor="end" fill="#111">MEturquoise</text>
<text x="462.6" y="405.16" font-size="8.3" text-anchor="middle" fill="#111">−0.2</text>
<text x="466.8" y="415.06" font-size="8.3" text-anchor="middle" fill="#111">(2e−11)</text>
<text x="582.6" y="405.16" font-size="8.3" text-anchor="middle" fill="#111">0.2</text>
<text x="588" y="415.06" font-size="8.3" text-anchor="middle" fill="#111">(2e−11)</text>
<rect x="379.3" y="420.88" width="14.7" height="29.02" fill="#344fa8" stroke="none" stroke-width="1" />
<rect x="396.2" y="420.88" width="121.1" height="29.02" fill="#b4e88e" stroke="none" stroke-width="1" />
<rect x="517.3" y="420.88" width="122.5" height="29.02" fill="#ff9498" stroke="none" stroke-width="1" />
<text x="377" y="438.29" font-size="8.3" text-anchor="end" fill="#111">MEblue</text>
<text x="464.4" y="433.58" font-size="8.3" text-anchor="middle" fill="#111">−0.44</text>
<text x="466.8" y="443.48" font-size="8.3" text-anchor="middle" fill="#111">(4e−55)</text>
<text x="584.3" y="433.58" font-size="8.3" text-anchor="middle" fill="#111">0.44</text>
<text x="588" y="443.48" font-size="8.3" text-anchor="middle" fill="#111">(4e−55)</text>
<rect x="379.3" y="449.3" width="14.7" height="29.02" fill="#9b2d28" stroke="none" stroke-width="1" />
<rect x="396.2" y="449.3" width="121.1" height="29.02" fill="#b1e78a" stroke="none" stroke-width="1" />
<rect x="517.3" y="449.3" width="122.5" height="29.02" fill="#fd9194" stroke="none" stroke-width="1" />
<text x="377" y="466.71" font-size="8.3" text-anchor="end" fill="#111">MEbrown</text>
<text x="464.4" y="462" font-size="8.3" text-anchor="middle" fill="#111">−0.46</text>
<text x="466.8" y="471.9" font-size="8.3" text-anchor="middle" fill="#111">(3e−63)</text>
<text x="584.3" y="462" font-size="8.3" text-anchor="middle" fill="#111">0.46</text>
<text x="588" y="471.9" font-size="8.3" text-anchor="middle" fill="#111">(3e−63)</text>
<rect x="379.3" y="477.72" width="14.7" height="28.42" fill="#bababc" stroke="none" stroke-width="1" />
<rect x="396.2" y="477.72" width="121.1" height="28.42" fill="#dcf6cf" stroke="none" stroke-width="1" />
<rect x="517.3" y="477.72" width="122.5" height="28.42" fill="#ffd2d6" stroke="none" stroke-width="1" />
<text x="377" y="495.13" font-size="8.3" text-anchor="end" fill="#111">MEgrey</text>
<text x="464.4" y="490.42" font-size="8.3" text-anchor="middle" fill="#111">−0.21</text>
<text x="466.8" y="500.32" font-size="8.3" text-anchor="middle" fill="#111">(1e−13)</text>
<text x="584.3" y="490.42" font-size="8.3" text-anchor="middle" fill="#111">0.21</text>
<text x="588" y="500.32" font-size="8.3" text-anchor="middle" fill="#111">(1e−13)</text>
<rect x="396.2" y="307.2" width="243.6" height="198.94" fill="none" stroke="#1a1a1a" stroke-width="1.1" />
<text transform="translate(465.4 513.7) rotate(-45)" font-size="8.6" text-anchor="end" fill="#111">Normal</text>
<text transform="translate(583.8 517.2) rotate(-45)" font-size="8.6" text-anchor="end" fill="#111">Tumor</text>
<defs><linearGradient id="lg" x1="0" y1="0" x2="0" y2="1"><stop offset="0" stop-color="#d6261e"/><stop offset="0.03" stop-color="#da3029"/><stop offset="0.05" stop-color="#dd3a34"/><stop offset="0.07" stop-color="#e1443f"/><stop offset="0.1" stop-color="#e44e4a"/><stop offset="0.12" stop-color="#e85855"/><stop offset="0.15" stop-color="#ec6260"/><stop offset="0.17" stop-color="#ef6c6b"/><stop offset="0.2" stop-color="#f37676"/><stop offset="0.23" stop-color="#f68081"/><stop offset="0.25" stop-color="#fa8a8c"/><stop offset="0.28" stop-color="#fe9296"/><stop offset="0.3" stop-color="#ff9fa3"/><stop offset="0.33" stop-color="#ffadb1"/><stop offset="0.35" stop-color="#ffbbbf"/><stop offset="0.38" stop-color="#ffc8cc"/><stop offset="0.4" stop-color="#ffd5d8"/><stop offset="0.42" stop-color="#ffe0e3"/><stop offset="0.45" stop-color="#ffeaec"/><stop offset="0.47" stop-color="#fff5f6"/><stop offset="0.5" stop-color="#ffffff"/><stop offset="0.53" stop-color="#f7fdf4"/><stop offset="0.55" stop-color="#eefae9"/><stop offset="0.57" stop-color="#e6f8de"/><stop offset="0.6" stop-color="#ddf6d1"/><stop offset="0.62" stop-color="#d5f4c4"/><stop offset="0.65" stop-color="#ccf1b6"/><stop offset="0.68" stop-color="#c3eea8"/><stop offset="0.7" stop-color="#bbea99"/><stop offset="0.72" stop-color="#b3e78c"/><stop offset="0.75" stop-color="#ace482"/><stop offset="0.78" stop-color="#a7e176"/><stop offset="0.8" stop-color="#a1dd6a"/><stop offset="0.82" stop-color="#9cda5d"/><stop offset="0.85" stop-color="#96d751"/><stop offset="0.88" stop-color="#91d445"/><stop offset="0.9" stop-color="#8cd039"/><stop offset="0.93" stop-color="#86cd2d"/><stop offset="0.95" stop-color="#81ca20"/><stop offset="0.97" stop-color="#7bc614"/><stop offset="1" stop-color="#76c308"/></linearGradient></defs>
<rect x="644.4" y="319.5" width="6.6" height="175" fill="url(#lg)" stroke="#1a1a1a" stroke-width="0.9" />
<line x1="651" y1="319.5" x2="654.4" y2="319.5" stroke="#1a1a1a" stroke-width="1" />
<text x="656.2" y="322.6" font-size="8.6" text-anchor="start" fill="#111">1</text>
<line x1="651" y1="363.25" x2="654.4" y2="363.25" stroke="#1a1a1a" stroke-width="1" />
<text x="656.2" y="366.35" font-size="8.6" text-anchor="start" fill="#111">0.5</text>
<line x1="651" y1="407" x2="654.4" y2="407" stroke="#1a1a1a" stroke-width="1" />
<text x="656.2" y="410.1" font-size="8.6" text-anchor="start" fill="#111">0</text>
<line x1="651" y1="450.75" x2="654.4" y2="450.75" stroke="#1a1a1a" stroke-width="1" />
<text x="656.2" y="453.85" font-size="8.6" text-anchor="start" fill="#111">−0.5</text>
<line x1="651" y1="494.5" x2="654.4" y2="494.5" stroke="#1a1a1a" stroke-width="1" />
<text x="656.2" y="497.6" font-size="8.6" text-anchor="start" fill="#111">−1</text>
<text x="193.2" y="573.5" font-size="11.5" text-anchor="middle" fill="#111" font-weight="bold" textLength="236" lengthAdjust="spacingAndGlyphs" xml:space="preserve">Module membership vs. gene  significance</text>
<text x="206.5" y="585.7" font-size="10.45" text-anchor="middle" fill="#111" font-weight="bold" textLength="99.4" lengthAdjust="spacingAndGlyphs">cor=0.41, p=1.3e−38</text>
<rect x="28.5" y="591.3" width="306.1" height="188.1" fill="none" stroke="#1a1a1a" stroke-width="1.1" />
<line x1="29" y1="675.5" x2="334.1" y2="675.5" stroke="#e8432c" stroke-width="1" />
<line x1="235.5" y1="591.8" x2="235.5" y2="778.9" stroke="#e8432c" stroke-width="1" />
<path d="M140.78 700.24a1.25 1.25 0 1 0 2.5 0a1.25 1.25 0 1 0 -2.5 0M238.22 689.44a1.25 1.25 0 1 0 2.5 0a1.25 1.25 0 1 0 -2.5 0M128.46 764.89a1.25 1.25 0 1 0 2.5 0a1.25 1.25 0 1 0 -2.5 0M271.27 668.85a1.25 1.25 0 1 0 2.5 0a1.25 1.25 0 1 0 -2.5 0M171.83 715.34a1.25 1.25 0 1 0 2.5 0a1.25 1.25 0 1 0 -2.5 0M245.46 693.74a1.25 1.25 0 1 0 2.5 0a1.25 1.25 0 1 0 -2.5 0M261.53 654.34a1.25 1.25 0 1 0 2.5 0a1.25 1.25 0 1 0 -2.5 0M127.21 733.92a1.25 1.25 0 1 0 2.5 0a1.25 1.25 0 1 0 -2.5 0M111.1 711.37a1.25 1.25 0 1 0 2.5 0a1.25 1.25 0 1 0 -2.5 0M233.01 647.95a1.25 1.25 0 1 0 2.5 0a1.25 1.25 0 1 0 -2.5 0M186.9 692.98a1.25 1.25 0 1 0 2.5 0a1.25 1.25 0 1 0 -2.5 0M152.09 734.08a1.25 1.25 0 1 0 2.5 0a1.25 1.25 0 1 0 -2.5 0M122.32 746.47a1.25 1.25 0 1 0 2.5 0a1.25 1.25 0 1 0 -2.5 0M233.21 667.93a1.25 1.25 0 1 0 2.5 0a1.25 1.25 0 1 0 -2.5 0M296.73 695.02a1.25 1.25 0 1 0 2.5 0a1.25 1.25 0 1 0 -2.5 0M206.6 683.87a1.25 1.25 0 1 0 2.5 0a1.25 1.25 0 1 0 -2.5 0M224.2 660.69a1.25 1.25 0 1 0 2.5 0a1.25 1.25 0 1 0 -2.5 0M115.91 724.46a1.25 1.25 0 1 0 2.5 0a1.25 1.25 0 1 0 -2.5 0M133.8 696.54a1.25 1.25 0 1 0 2.5 0a1.25 1.25 0 1 0 -2.5 0M181.86 709.45a1.25 1.25 0 1 0 2.5 0a1.25 1.25 0 1 0 -2.5 0M226.65 664.68a1.25 1.25 0 1 0 2.5 0a1.25 1.25 0 1 0 -2.5 0M188.25 702.26a1.25 1.25 0 1 0 2.5 0a1.25 1.25 0 1 0 -2.5 0M212.02 720.36a1.25 1.25 0 1 0 2.5 0a1.25 1.25 0 1 0 -2.5 0M122.85 710.53a1.25 1.25 0 1 0 2.5 0a1.25 1.25 0 1 0 -2.5 0M110.2 717.17a1.25 1.25 0 1 0 2.5 0a1.25 1.25 0 1 0 -2.5 0M292.96 687.25a1.25 1.25 0 1 0 2.5 0a1.25 1.25 0 1 0 -2.5 0M247.18 692.08a1.25 1.25 0 1 0 2.5 0a1.25 1.25 0 1 0 -2.5 0M170.52 749.34a1.25 1.25 0 1 0 2.5 0a1.25 1.25 0 1 0 -2.5 0M280.79 692.05a1.25 1.25 0 1 0 2.5 0a1.25 1.25 0 1 0 -2.5 0M300.98 670.27a1.25 1.25 0 1 0 2.5 0a1.25 1.25 0 1 0 -2.5 0M248.83 720.75a1.25 1.25 0 1 0 2.5 0a1.25 1.25 0 1 0 -2.5 0M265.36 679.27a1.25 1.25 0 1 0 2.5 0a1.25 1.25 0 1 0 -2.5 0M295.26 678.76a1.25 1.25 0 1 0 2.5 0a1.25 1.25 0 1 0 -2.5 0M74.47 740.17a1.25 1.25 0 1 0 2.5 0a1.25 1.25 0 1 0 -2.5 0M129.85 679.3a1.25 1.25 0 1 0 2.5 0a1.25 1.25 0 1 0 -2.5 0M314.98 669.07a1.25 1.25 0 1 0 2.5 0a1.25 1.25 0 1 0 -2.5 0M180.92 729.17a1.25 1.25 0 1 0 2.5 0a1.25 1.25 0 1 0 -2.5 0M93.89 716.08a1.25 1.25 0 1 0 2.5 0a1.25 1.25 0 1 0 -2.5 0M273.7 668.61a1.25 1.25 0 1 0 2.5 0a1.25 1.25 0 1 0 -2.5 0M282.34 701.82a1.25 1.25 0 1 0 2.5 0a1.25 1.25 0 1 0 -2.5 0M216 695.89a1.25 1.25 0 1 0 2.5 0a1.25 1.25 0 1 0 -2.5 0M277.02 684.6a1.25 1.25 0 1 0 2.5 0a1.25 1.25 0 1 0 -2.5 0M63.19 711.44a1.25 1.25 0 1 0 2.5 0a1.25 1.25 0 1 0 -2.5 0M115.02 659.04a1.25 1.25 0 1 0 2.5 0a1.25 1.25 0 1 0 -2.5 0M183.25 730.41a1.25 1.25 0 1 0 2.5 0a1.25 1.25 0 1 0 -2.5 0M173.53 723.19a1.25 1.25 0 1 0 2.5 0a1.25 1.25 0 1 0 -2.5 0M231.28 720.62a1.25 1.25 0 1 0 2.5 0a1.25 1.25 0 1 0 -2.5 0M65.84 716.57a1.25 1.25 0 1 0 2.5 0a1.25 1.25 0 1 0 -2.5 0M131.56 702.49a1.25 1.25 0 1 0 2.5 0a1.25 1.25 0 1 0 -2.5 0M227.63 751.14a1.25 1.25 0 1 0 2.5 0a1.25 1.25 0 1 0 -2.5 0M197.85 668.06a1.25 1.25 0 1 0 2.5 0a1.25 1.25 0 1 0 -2.5 0M283.3 657.91a1.25 1.25 0 1 0 2.5 0a1.25 1.25 0 1 0 -2.5 0M258.49 728.49a1.25 1.25 0 1 0 2.5 0a1.25 1.25 0 1 0 -2.5 0M304.05 697.22a1.25 1.25 0 1 0 2.5 0a1.25 1.25 0 1 0 -2.5 0M148.94 703.96a1.25 1.25 0 1 0 2.5 0a1.25 1.25 0 1 0 -2.5 0M181.36 708.66a1.25 1.25 0 1 0 2.5 0a1.25 1.25 0 1 0 -2.5 0M191.09 676a1.25 1.25 0 1 0 2.5 0a1.25 1.25 0 1 0 -2.5 0M102.15 729.96a1.25 1.25 0 1 0 2.5 0a1.25 1.25 0 1 0 -2.5 0M161.61 676.94a1.25 1.25 0 1 0 2.5 0a1.25 1.25 0 1 0 -2.5 0M255.18 708.51a1.25 1.25 0 1 0 2.5 0a1.25 1.25 0 1 0 -2.5 0M259.48 677.66a1.25 1.25 0 1 0 2.5 0a1.25 1.25 0 1 0 -2.5 0M97.38 734.3a1.25 1.25 0 1 0 2.5 0a1.25 1.25 0 1 0 -2.5 0M271.36 688.78a1.25 1.25 0 1 0 2.5 0a1.25 1.25 0 1 0 -2.5 0M133.53 772.6a1.25 1.25 0 1 0 2.5 0a1.25 1.25 0 1 0 -2.5 0M146.34 729.99a1.25 1.25 0 1 0 2.5 0a1.25 1.25 0 1 0 -2.5 0M272.43 661.88a1.25 1.25 0 1 0 2.5 0a1.25 1.25 0 1 0 -2.5 0M173.91 731.55a1.25 1.25 0 1 0 2.5 0a1.25 1.25 0 1 0 -2.5 0M101.3 727.99a1.25 1.25 0 1 0 2.5 0a1.25 1.25 0 1 0 -2.5 0M138.02 715.55a1.25 1.25 0 1 0 2.5 0a1.25 1.25 0 1 0 -2.5 0M155.15 744.65a1.25 1.25 0 1 0 2.5 0a1.25 1.25 0 1 0 -2.5 0M176.52 703.84a1.25 1.25 0 1 0 2.5 0a1.25 1.25 0 1 0 -2.5 0M197.09 692.22a1.25 1.25 0 1 0 2.5 0a1.25 1.25 0 1 0 -2.5 0M131.19 727.06a1.25 1.25 0 1 0 2.5 0a1.25 1.25 0 1 0 -2.5 0M257.86 715.08a1.25 1.25 0 1 0 2.5 0a1.25 1.25 0 1 0 -2.5 0M202.3 665.46a1.25 1.25 0 1 0 2.5 0a1.25 1.25 0 1 0 -2.5 0M145.95 716.13a1.25 1.25 0 1 0 2.5 0a1.25 1.25 0 1 0 -2.5 0M148 717.83a1.25 1.25 0 1 0 2.5 0a1.25 1.25 0 1 0 -2.5 0M118.58 726.5a1.25 1.25 0 1 0 2.5 0a1.25 1.25 0 1 0 -2.5 0M247.35 697.96a1.25 1.25 0 1 0 2.5 0a1.25 1.25 0 1 0 -2.5 0M162.52 763.49a1.25 1.25 0 1 0 2.5 0a1.25 1.25 0 1 0 -2.5 0M144.78 719.23a1.25 1.25 0 1 0 2.5 0a1.25 1.25 0 1 0 -2.5 0M258.82 681.69a1.25 1.25 0 1 0 2.5 0a1.25 1.25 0 1 0 -2.5 0M234.41 671.46a1.25 1.25 0 1 0 2.5 0a1.25 1.25 0 1 0 -2.5 0M235.27 657.65a1.25 1.25 0 1 0 2.5 0a1.25 1.25 0 1 0 -2.5 0M119.05 741.66a1.25 1.25 0 1 0 2.5 0a1.25 1.25 0 1 0 -2.5 0M162.3 666.59a1.25 1.25 0 1 0 2.5 0a1.25 1.25 0 1 0 -2.5 0M285.61 678.02a1.25 1.25 0 1 0 2.5 0a1.25 1.25 0 1 0 -2.5 0M220.9 684.33a1.25 1.25 0 1 0 2.5 0a1.25 1.25 0 1 0 -2.5 0M112.45 750.4a1.25 1.25 0 1 0 2.5 0a1.25 1.25 0 1 0 -2.5 0M136.76 709.02a1.25 1.25 0 1 0 2.5 0a1.25 1.25 0 1 0 -2.5 0M197.22 733.1a1.25 1.25 0 1 0 2.5 0a1.25 1.25 0 1 0 -2.5 0M297.55 669.48a1.25 1.25 0 1 0 2.5 0a1.25 1.25 0 1 0 -2.5 0M146.14 754.37a1.25 1.25 0 1 0 2.5 0a1.25 1.25 0 1 0 -2.5 0M170.48 711.28a1.25 1.25 0 1 0 2.5 0a1.25 1.25 0 1 0 -2.5 0M115.03 732.54a1.25 1.25 0 1 0 2.5 0a1.25 1.25 0 1 0 -2.5 0M257.18 678.41a1.25 1.25 0 1 0 2.5 0a1.25 1.25 0 1 0 -2.5 0M180.76 702.84a1.25 1.25 0 1 0 2.5 0a1.25 1.25 0 1 0 -2.5 0M283.4 677.08a1.25 1.25 0 1 0 2.5 0a1.25 1.25 0 1 0 -2.5 0M132.38 734.33a1.25 1.25 0 1 0 2.5 0a1.25 1.25 0 1 0 -2.5 0M89.14 695.22a1.25 1.25 0 1 0 2.5 0a1.25 1.25 0 1 0 -2.5 0M126.8 702.6a1.25 1.25 0 1 0 2.5 0a1.25 1.25 0 1 0 -2.5 0M228.85 711.77a1.25 1.25 0 1 0 2.5 0a1.25 1.25 0 1 0 -2.5 0M84.87 698.71a1.25 1.25 0 1 0 2.5 0a1.25 1.25 0 1 0 -2.5 0M50.18 741.01a1.25 1.25 0 1 0 2.5 0a1.25 1.25 0 1 0 -2.5 0M171.43 709.27a1.25 1.25 0 1 0 2.5 0a1.25 1.25 0 1 0 -2.5 0M137.59 721.47a1.25 1.25 0 1 0 2.5 0a1.25 1.25 0 1 0 -2.5 0M82.54 723.5a1.25 1.25 0 1 0 2.5 0a1.25 1.25 0 1 0 -2.5 0M229.81 676.35a1.25 1.25 0 1 0 2.5 0a1.25 1.25 0 1 0 -2.5 0M180.09 672.26a1.25 1.25 0 1 0 2.5 0a1.25 1.25 0 1 0 -2.5 0M182.77 761.75a1.25 1.25 0 1 0 2.5 0a1.25 1.25 0 1 0 -2.5 0M120.29 682.49a1.25 1.25 0 1 0 2.5 0a1.25 1.25 0 1 0 -2.5 0M142.67 700.51a1.25 1.25 0 1 0 2.5 0a1.25 1.25 0 1 0 -2.5 0M320.19 693.32a1.25 1.25 0 1 0 2.5 0a1.25 1.25 0 1 0 -2.5 0M179.34 699.14a1.25 1.25 0 1 0 2.5 0a1.25 1.25 0 1 0 -2.5 0M121.21 728.27a1.25 1.25 0 1 0 2.5 0a1.25 1.25 0 1 0 -2.5 0M190.67 741.21a1.25 1.25 0 1 0 2.5 0a1.25 1.25 0 1 0 -2.5 0M139.88 681.53a1.25 1.25 0 1 0 2.5 0a1.25 1.25 0 1 0 -2.5 0M226.33 669.43a1.25 1.25 0 1 0 2.5 0a1.25 1.25 0 1 0 -2.5 0M157.26 702.43a1.25 1.25 0 1 0 2.5 0a1.25 1.25 0 1 0 -2.5 0M286.27 655.51a1.25 1.25 0 1 0 2.5 0a1.25 1.25 0 1 0 -2.5 0M260.86 680.42a1.25 1.25 0 1 0 2.5 0a1.25 1.25 0 1 0 -2.5 0M120.84 726.5a1.25 1.25 0 1 0 2.5 0a1.25 1.25 0 1 0 -2.5 0M231.23 663.7a1.25 1.25 0 1 0 2.5 0a1.25 1.25 0 1 0 -2.5 0M231.63 708.29a1.25 1.25 0 1 0 2.5 0a1.25 1.25 0 1 0 -2.5 0M180.28 684.96a1.25 1.25 0 1 0 2.5 0a1.25 1.25 0 1 0 -2.5 0M185.47 674.67a1.25 1.25 0 1 0 2.5 0a1.25 1.25 0 1 0 -2.5 0M173.86 703.23a1.25 1.25 0 1 0 2.5 0a1.25 1.25 0 1 0 -2.5 0M152.84 710.81a1.25 1.25 0 1 0 2.5 0a1.25 1.25 0 1 0 -2.5 0M226.47 683.1a1.25 1.25 0 1 0 2.5 0a1.25 1.25 0 1 0 -2.5 0M85.99 711.7a1.25 1.25 0 1 0 2.5 0a1.25 1.25 0 1 0 -2.5 0M179.88 729.12a1.25 1.25 0 1 0 2.5 0a1.25 1.25 0 1 0 -2.5 0M257.16 742.91a1.25 1.25 0 1 0 2.5 0a1.25 1.25 0 1 0 -2.5 0M97.83 733.77a1.25 1.25 0 1 0 2.5 0a1.25 1.25 0 1 0 -2.5 0M188.3 749.4a1.25 1.25 0 1 0 2.5 0a1.25 1.25 0 1 0 -2.5 0M168.77 681.56a1.25 1.25 0 1 0 2.5 0a1.25 1.25 0 1 0 -2.5 0M122.73 731.21a1.25 1.25 0 1 0 2.5 0a1.25 1.25 0 1 0 -2.5 0M151.19 706.95a1.25 1.25 0 1 0 2.5 0a1.25 1.25 0 1 0 -2.5 0M314.43 666.89a1.25 1.25 0 1 0 2.5 0a1.25 1.25 0 1 0 -2.5 0M242.01 667.27a1.25 1.25 0 1 0 2.5 0a1.25 1.25 0 1 0 -2.5 0M174.99 736.91a1.25 1.25 0 1 0 2.5 0a1.25 1.25 0 1 0 -2.5 0M208.26 645.7a1.25 1.25 0 1 0 2.5 0a1.25 1.25 0 1 0 -2.5 0M153.69 686.1a1.25 1.25 0 1 0 2.5 0a1.25 1.25 0 1 0 -2.5 0M267.92 671.61a1.25 1.25 0 1 0 2.5 0a1.25 1.25 0 1 0 -2.5 0M230.52 712.27a1.25 1.25 0 1 0 2.5 0a1.25 1.25 0 1 0 -2.5 0M179.37 648.21a1.25 1.25 0 1 0 2.5 0a1.25 1.25 0 1 0 -2.5 0M232.04 677.19a1.25 1.25 0 1 0 2.5 0a1.25 1.25 0 1 0 -2.5 0M183.29 674.18a1.25 1.25 0 1 0 2.5 0a1.25 1.25 0 1 0 -2.5 0M103.69 727a1.25 1.25 0 1 0 2.5 0a1.25 1.25 0 1 0 -2.5 0M247.86 649.67a1.25 1.25 0 1 0 2.5 0a1.25 1.25 0 1 0 -2.5 0M267.08 659.35a1.25 1.25 0 1 0 2.5 0a1.25 1.25 0 1 0 -2.5 0M136.84 719.82a1.25 1.25 0 1 0 2.5 0a1.25 1.25 0 1 0 -2.5 0M211.87 649.58a1.25 1.25 0 1 0 2.5 0a1.25 1.25 0 1 0 -2.5 0M143.53 747.02a1.25 1.25 0 1 0 2.5 0a1.25 1.25 0 1 0 -2.5 0M276.23 667.07a1.25 1.25 0 1 0 2.5 0a1.25 1.25 0 1 0 -2.5 0M246.33 673.56a1.25 1.25 0 1 0 2.5 0a1.25 1.25 0 1 0 -2.5 0M152.23 693.4a1.25 1.25 0 1 0 2.5 0a1.25 1.25 0 1 0 -2.5 0M248.56 698.12a1.25 1.25 0 1 0 2.5 0a1.25 1.25 0 1 0 -2.5 0M266.44 687.1a1.25 1.25 0 1 0 2.5 0a1.25 1.25 0 1 0 -2.5 0M185.18 679.36a1.25 1.25 0 1 0 2.5 0a1.25 1.25 0 1 0 -2.5 0M150.04 683.29a1.25 1.25 0 1 0 2.5 0a1.25 1.25 0 1 0 -2.5 0M243.34 688.71a1.25 1.25 0 1 0 2.5 0a1.25 1.25 0 1 0 -2.5 0M111.64 726.9a1.25 1.25 0 1 0 2.5 0a1.25 1.25 0 1 0 -2.5 0M101.12 735.07a1.25 1.25 0 1 0 2.5 0a1.25 1.25 0 1 0 -2.5 0M161.6 673.55a1.25 1.25 0 1 0 2.5 0a1.25 1.25 0 1 0 -2.5 0M65.02 725.58a1.25 1.25 0 1 0 2.5 0a1.25 1.25 0 1 0 -2.5 0M166.72 729.01a1.25 1.25 0 1 0 2.5 0a1.25 1.25 0 1 0 -2.5 0M164.02 766.82a1.25 1.25 0 1 0 2.5 0a1.25 1.25 0 1 0 -2.5 0M144.25 751.37a1.25 1.25 0 1 0 2.5 0a1.25 1.25 0 1 0 -2.5 0M301.42 704.16a1.25 1.25 0 1 0 2.5 0a1.25 1.25 0 1 0 -2.5 0M194.9 719.75a1.25 1.25 0 1 0 2.5 0a1.25 1.25 0 1 0 -2.5 0M268.38 687.12a1.25 1.25 0 1 0 2.5 0a1.25 1.25 0 1 0 -2.5 0M172.98 742.8a1.25 1.25 0 1 0 2.5 0a1.25 1.25 0 1 0 -2.5 0M138.76 732.61a1.25 1.25 0 1 0 2.5 0a1.25 1.25 0 1 0 -2.5 0M183.17 713.94a1.25 1.25 0 1 0 2.5 0a1.25 1.25 0 1 0 -2.5 0M161.84 768.18a1.25 1.25 0 1 0 2.5 0a1.25 1.25 0 1 0 -2.5 0M102.09 700.89a1.25 1.25 0 1 0 2.5 0a1.25 1.25 0 1 0 -2.5 0M318.77 709.6a1.25 1.25 0 1 0 2.5 0a1.25 1.25 0 1 0 -2.5 0M129.61 663a1.25 1.25 0 1 0 2.5 0a1.25 1.25 0 1 0 -2.5 0M148.4 762.38a1.25 1.25 0 1 0 2.5 0a1.25 1.25 0 1 0 -2.5 0M162.08 714.83a1.25 1.25 0 1 0 2.5 0a1.25 1.25 0 1 0 -2.5 0M122.98 732.19a1.25 1.25 0 1 0 2.5 0a1.25 1.25 0 1 0 -2.5 0M85.65 711.52a1.25 1.25 0 1 0 2.5 0a1.25 1.25 0 1 0 -2.5 0M138.89 742.89a1.25 1.25 0 1 0 2.5 0a1.25 1.25 0 1 0 -2.5 0M138.03 704.56a1.25 1.25 0 1 0 2.5 0a1.25 1.25 0 1 0 -2.5 0M152.02 764.6a1.25 1.25 0 1 0 2.5 0a1.25 1.25 0 1 0 -2.5 0M296.22 669.05a1.25 1.25 0 1 0 2.5 0a1.25 1.25 0 1 0 -2.5 0M116.61 730.23a1.25 1.25 0 1 0 2.5 0a1.25 1.25 0 1 0 -2.5 0M106 710.87a1.25 1.25 0 1 0 2.5 0a1.25 1.25 0 1 0 -2.5 0M185.83 680.79a1.25 1.25 0 1 0 2.5 0a1.25 1.25 0 1 0 -2.5 0M159.38 751.87a1.25 1.25 0 1 0 2.5 0a1.25 1.25 0 1 0 -2.5 0M285.27 688.14a1.25 1.25 0 1 0 2.5 0a1.25 1.25 0 1 0 -2.5 0M295.53 689.02a1.25 1.25 0 1 0 2.5 0a1.25 1.25 0 1 0 -2.5 0M207.78 707.62a1.25 1.25 0 1 0 2.5 0a1.25 1.25 0 1 0 -2.5 0M41.16 719.37a1.25 1.25 0 1 0 2.5 0a1.25 1.25 0 1 0 -2.5 0M41.61 702.68a1.25 1.25 0 1 0 2.5 0a1.25 1.25 0 1 0 -2.5 0M136.82 714.41a1.25 1.25 0 1 0 2.5 0a1.25 1.25 0 1 0 -2.5 0M157.14 721.53a1.25 1.25 0 1 0 2.5 0a1.25 1.25 0 1 0 -2.5 0M235.89 681.4a1.25 1.25 0 1 0 2.5 0a1.25 1.25 0 1 0 -2.5 0M222.12 674.66a1.25 1.25 0 1 0 2.5 0a1.25 1.25 0 1 0 -2.5 0M304.33 666.13a1.25 1.25 0 1 0 2.5 0a1.25 1.25 0 1 0 -2.5 0M300.24 651.68a1.25 1.25 0 1 0 2.5 0a1.25 1.25 0 1 0 -2.5 0M240.34 703.59a1.25 1.25 0 1 0 2.5 0a1.25 1.25 0 1 0 -2.5 0M166.67 707.91a1.25 1.25 0 1 0 2.5 0a1.25 1.25 0 1 0 -2.5 0M86.2 762.69a1.25 1.25 0 1 0 2.5 0a1.25 1.25 0 1 0 -2.5 0M111.97 742.38a1.25 1.25 0 1 0 2.5 0a1.25 1.25 0 1 0 -2.5 0M235.36 679.9a1.25 1.25 0 1 0 2.5 0a1.25 1.25 0 1 0 -2.5 0M206.38 672.74a1.25 1.25 0 1 0 2.5 0a1.25 1.25 0 1 0 -2.5 0M171.92 728.41a1.25 1.25 0 1 0 2.5 0a1.25 1.25 0 1 0 -2.5 0M173.17 699.52a1.25 1.25 0 1 0 2.5 0a1.25 1.25 0 1 0 -2.5 0M211.72 701.19a1.25 1.25 0 1 0 2.5 0a1.25 1.25 0 1 0 -2.5 0M134.08 705.82a1.25 1.25 0 1 0 2.5 0a1.25 1.25 0 1 0 -2.5 0M169.11 707.68a1.25 1.25 0 1 0 2.5 0a1.25 1.25 0 1 0 -2.5 0M229.83 705.87a1.25 1.25 0 1 0 2.5 0a1.25 1.25 0 1 0 -2.5 0M234.71 725.1a1.25 1.25 0 1 0 2.5 0a1.25 1.25 0 1 0 -2.5 0M93.15 710.91a1.25 1.25 0 1 0 2.5 0a1.25 1.25 0 1 0 -2.5 0M145.11 721.58a1.25 1.25 0 1 0 2.5 0a1.25 1.25 0 1 0 -2.5 0M147.12 656.66a1.25 1.25 0 1 0 2.5 0a1.25 1.25 0 1 0 -2.5 0M210.5 702.48a1.25 1.25 0 1 0 2.5 0a1.25 1.25 0 1 0 -2.5 0M140.13 692.78a1.25 1.25 0 1 0 2.5 0a1.25 1.25 0 1 0 -2.5 0M250.89 707.65a1.25 1.25 0 1 0 2.5 0a1.25 1.25 0 1 0 -2.5 0M120.38 762.87a1.25 1.25 0 1 0 2.5 0a1.25 1.25 0 1 0 -2.5 0M188.75 704.4a1.25 1.25 0 1 0 2.5 0a1.25 1.25 0 1 0 -2.5 0M51.42 673.99a1.25 1.25 0 1 0 2.5 0a1.25 1.25 0 1 0 -2.5 0M39.68 712.02a1.25 1.25 0 1 0 2.5 0a1.25 1.25 0 1 0 -2.5 0M118.5 730.87a1.25 1.25 0 1 0 2.5 0a1.25 1.25 0 1 0 -2.5 0M165.94 702.74a1.25 1.25 0 1 0 2.5 0a1.25 1.25 0 1 0 -2.5 0M133.15 702.6a1.25 1.25 0 1 0 2.5 0a1.25 1.25 0 1 0 -2.5 0M293.77 673.18a1.25 1.25 0 1 0 2.5 0a1.25 1.25 0 1 0 -2.5 0M289.79 679.14a1.25 1.25 0 1 0 2.5 0a1.25 1.25 0 1 0 -2.5 0M198.72 737.06a1.25 1.25 0 1 0 2.5 0a1.25 1.25 0 1 0 -2.5 0M129.37 754.91a1.25 1.25 0 1 0 2.5 0a1.25 1.25 0 1 0 -2.5 0M87.51 737.77a1.25 1.25 0 1 0 2.5 0a1.25 1.25 0 1 0 -2.5 0M107.26 725.69a1.25 1.25 0 1 0 2.5 0a1.25 1.25 0 1 0 -2.5 0M200.36 743.43a1.25 1.25 0 1 0 2.5 0a1.25 1.25 0 1 0 -2.5 0M72.81 675.66a1.25 1.25 0 1 0 2.5 0a1.25 1.25 0 1 0 -2.5 0M130.34 703.34a1.25 1.25 0 1 0 2.5 0a1.25 1.25 0 1 0 -2.5 0M126.51 736.83a1.25 1.25 0 1 0 2.5 0a1.25 1.25 0 1 0 -2.5 0M92.61 699.65a1.25 1.25 0 1 0 2.5 0a1.25 1.25 0 1 0 -2.5 0M126.79 649.04a1.25 1.25 0 1 0 2.5 0a1.25 1.25 0 1 0 -2.5 0M154.22 709.84a1.25 1.25 0 1 0 2.5 0a1.25 1.25 0 1 0 -2.5 0M220.53 694a1.25 1.25 0 1 0 2.5 0a1.25 1.25 0 1 0 -2.5 0M319.37 664.97a1.25 1.25 0 1 0 2.5 0a1.25 1.25 0 1 0 -2.5 0M293.22 697.1a1.25 1.25 0 1 0 2.5 0a1.25 1.25 0 1 0 -2.5 0M139.77 736.71a1.25 1.25 0 1 0 2.5 0a1.25 1.25 0 1 0 -2.5 0M147.32 741.18a1.25 1.25 0 1 0 2.5 0a1.25 1.25 0 1 0 -2.5 0M95 699.38a1.25 1.25 0 1 0 2.5 0a1.25 1.25 0 1 0 -2.5 0M109.73 771.51a1.25 1.25 0 1 0 2.5 0a1.25 1.25 0 1 0 -2.5 0M192.82 700.22a1.25 1.25 0 1 0 2.5 0a1.25 1.25 0 1 0 -2.5 0M183.24 725.54a1.25 1.25 0 1 0 2.5 0a1.25 1.25 0 1 0 -2.5 0M247.68 692.81a1.25 1.25 0 1 0 2.5 0a1.25 1.25 0 1 0 -2.5 0M172.32 729.94a1.25 1.25 0 1 0 2.5 0a1.25 1.25 0 1 0 -2.5 0M76.79 679.27a1.25 1.25 0 1 0 2.5 0a1.25 1.25 0 1 0 -2.5 0M271.52 694.74a1.25 1.25 0 1 0 2.5 0a1.25 1.25 0 1 0 -2.5 0M132.42 756.25a1.25 1.25 0 1 0 2.5 0a1.25 1.25 0 1 0 -2.5 0M242.92 683.57a1.25 1.25 0 1 0 2.5 0a1.25 1.25 0 1 0 -2.5 0M155.15 734.03a1.25 1.25 0 1 0 2.5 0a1.25 1.25 0 1 0 -2.5 0M217.52 688.32a1.25 1.25 0 1 0 2.5 0a1.25 1.25 0 1 0 -2.5 0M245.23 689.73a1.25 1.25 0 1 0 2.5 0a1.25 1.25 0 1 0 -2.5 0M62.92 722.24a1.25 1.25 0 1 0 2.5 0a1.25 1.25 0 1 0 -2.5 0M260.51 683.62a1.25 1.25 0 1 0 2.5 0a1.25 1.25 0 1 0 -2.5 0M188.87 759.1a1.25 1.25 0 1 0 2.5 0a1.25 1.25 0 1 0 -2.5 0M220.53 652.02a1.25 1.25 0 1 0 2.5 0a1.25 1.25 0 1 0 -2.5 0M230.43 720.81a1.25 1.25 0 1 0 2.5 0a1.25 1.25 0 1 0 -2.5 0M267.4 675.52a1.25 1.25 0 1 0 2.5 0a1.25 1.25 0 1 0 -2.5 0M264.29 700.86a1.25 1.25 0 1 0 2.5 0a1.25 1.25 0 1 0 -2.5 0M78.52 725.59a1.25 1.25 0 1 0 2.5 0a1.25 1.25 0 1 0 -2.5 0M247.33 692.77a1.25 1.25 0 1 0 2.5 0a1.25 1.25 0 1 0 -2.5 0M100.98 679.33a1.25 1.25 0 1 0 2.5 0a1.25 1.25 0 1 0 -2.5 0M194.65 714.97a1.25 1.25 0 1 0 2.5 0a1.25 1.25 0 1 0 -2.5 0M91.9 767.95a1.25 1.25 0 1 0 2.5 0a1.25 1.25 0 1 0 -2.5 0M210.58 739.64a1.25 1.25 0 1 0 2.5 0a1.25 1.25 0 1 0 -2.5 0M301.07 674.79a1.25 1.25 0 1 0 2.5 0a1.25 1.25 0 1 0 -2.5 0M139.08 694.64a1.25 1.25 0 1 0 2.5 0a1.25 1.25 0 1 0 -2.5 0M98.71 662.91a1.25 1.25 0 1 0 2.5 0a1.25 1.25 0 1 0 -2.5 0M229.7 648.71a1.25 1.25 0 1 0 2.5 0a1.25 1.25 0 1 0 -2.5 0M154.2 759.31a1.25 1.25 0 1 0 2.5 0a1.25 1.25 0 1 0 -2.5 0M69.13 726.78a1.25 1.25 0 1 0 2.5 0a1.25 1.25 0 1 0 -2.5 0M173.93 749.47a1.25 1.25 0 1 0 2.5 0a1.25 1.25 0 1 0 -2.5 0M159.08 708.12a1.25 1.25 0 1 0 2.5 0a1.25 1.25 0 1 0 -2.5 0M84.73 699.05a1.25 1.25 0 1 0 2.5 0a1.25 1.25 0 1 0 -2.5 0M132.65 695.91a1.25 1.25 0 1 0 2.5 0a1.25 1.25 0 1 0 -2.5 0M128.95 699.99a1.25 1.25 0 1 0 2.5 0a1.25 1.25 0 1 0 -2.5 0M93.76 729.98a1.25 1.25 0 1 0 2.5 0a1.25 1.25 0 1 0 -2.5 0M216.51 715.75a1.25 1.25 0 1 0 2.5 0a1.25 1.25 0 1 0 -2.5 0M214.8 661.31a1.25 1.25 0 1 0 2.5 0a1.25 1.25 0 1 0 -2.5 0M221.12 702.72a1.25 1.25 0 1 0 2.5 0a1.25 1.25 0 1 0 -2.5 0M132.95 753.36a1.25 1.25 0 1 0 2.5 0a1.25 1.25 0 1 0 -2.5 0M167.28 711.43a1.25 1.25 0 1 0 2.5 0a1.25 1.25 0 1 0 -2.5 0M87.73 692.03a1.25 1.25 0 1 0 2.5 0a1.25 1.25 0 1 0 -2.5 0M163.55 695.11a1.25 1.25 0 1 0 2.5 0a1.25 1.25 0 1 0 -2.5 0M316.98 700.36a1.25 1.25 0 1 0 2.5 0a1.25 1.25 0 1 0 -2.5 0M119.57 761.79a1.25 1.25 0 1 0 2.5 0a1.25 1.25 0 1 0 -2.5 0M145.28 731.3a1.25 1.25 0 1 0 2.5 0a1.25 1.25 0 1 0 -2.5 0M205.25 702.27a1.25 1.25 0 1 0 2.5 0a1.25 1.25 0 1 0 -2.5 0M139.67 715.94a1.25 1.25 0 1 0 2.5 0a1.25 1.25 0 1 0 -2.5 0M120.31 758.79a1.25 1.25 0 1 0 2.5 0a1.25 1.25 0 1 0 -2.5 0M213.64 679.88a1.25 1.25 0 1 0 2.5 0a1.25 1.25 0 1 0 -2.5 0M101.46 708.33a1.25 1.25 0 1 0 2.5 0a1.25 1.25 0 1 0 -2.5 0M273.52 704.61a1.25 1.25 0 1 0 2.5 0a1.25 1.25 0 1 0 -2.5 0M189.01 738.11a1.25 1.25 0 1 0 2.5 0a1.25 1.25 0 1 0 -2.5 0M209.12 707.35a1.25 1.25 0 1 0 2.5 0a1.25 1.25 0 1 0 -2.5 0M261.9 708.17a1.25 1.25 0 1 0 2.5 0a1.25 1.25 0 1 0 -2.5 0M193.2 708.79a1.25 1.25 0 1 0 2.5 0a1.25 1.25 0 1 0 -2.5 0M188.36 705.62a1.25 1.25 0 1 0 2.5 0a1.25 1.25 0 1 0 -2.5 0M158.65 729.39a1.25 1.25 0 1 0 2.5 0a1.25 1.25 0 1 0 -2.5 0M201.1 692.46a1.25 1.25 0 1 0 2.5 0a1.25 1.25 0 1 0 -2.5 0M186.33 657.97a1.25 1.25 0 1 0 2.5 0a1.25 1.25 0 1 0 -2.5 0M265.35 693.46a1.25 1.25 0 1 0 2.5 0a1.25 1.25 0 1 0 -2.5 0M184.42 697.2a1.25 1.25 0 1 0 2.5 0a1.25 1.25 0 1 0 -2.5 0M172.45 726.94a1.25 1.25 0 1 0 2.5 0a1.25 1.25 0 1 0 -2.5 0M245.82 659.47a1.25 1.25 0 1 0 2.5 0a1.25 1.25 0 1 0 -2.5 0M133.13 684.05a1.25 1.25 0 1 0 2.5 0a1.25 1.25 0 1 0 -2.5 0M277.61 681.12a1.25 1.25 0 1 0 2.5 0a1.25 1.25 0 1 0 -2.5 0M261.97 693.86a1.25 1.25 0 1 0 2.5 0a1.25 1.25 0 1 0 -2.5 0M268.55 671.46a1.25 1.25 0 1 0 2.5 0a1.25 1.25 0 1 0 -2.5 0M320.81 677.64a1.25 1.25 0 1 0 2.5 0a1.25 1.25 0 1 0 -2.5 0M171.3 750.03a1.25 1.25 0 1 0 2.5 0a1.25 1.25 0 1 0 -2.5 0M189.05 739.14a1.25 1.25 0 1 0 2.5 0a1.25 1.25 0 1 0 -2.5 0M78.75 727.65a1.25 1.25 0 1 0 2.5 0a1.25 1.25 0 1 0 -2.5 0M163.2 651.26a1.25 1.25 0 1 0 2.5 0a1.25 1.25 0 1 0 -2.5 0M100.08 689.85a1.25 1.25 0 1 0 2.5 0a1.25 1.25 0 1 0 -2.5 0M169.63 673.2a1.25 1.25 0 1 0 2.5 0a1.25 1.25 0 1 0 -2.5 0M127.25 693.33a1.25 1.25 0 1 0 2.5 0a1.25 1.25 0 1 0 -2.5 0M244.9 662.46a1.25 1.25 0 1 0 2.5 0a1.25 1.25 0 1 0 -2.5 0M219.47 664.12a1.25 1.25 0 1 0 2.5 0a1.25 1.25 0 1 0 -2.5 0M194.36 739.98a1.25 1.25 0 1 0 2.5 0a1.25 1.25 0 1 0 -2.5 0M233.59 680.66a1.25 1.25 0 1 0 2.5 0a1.25 1.25 0 1 0 -2.5 0M74.67 704.32a1.25 1.25 0 1 0 2.5 0a1.25 1.25 0 1 0 -2.5 0M171.11 699.12a1.25 1.25 0 1 0 2.5 0a1.25 1.25 0 1 0 -2.5 0M139.5 707.7a1.25 1.25 0 1 0 2.5 0a1.25 1.25 0 1 0 -2.5 0M266.66 680.56a1.25 1.25 0 1 0 2.5 0a1.25 1.25 0 1 0 -2.5 0M163.06 755.43a1.25 1.25 0 1 0 2.5 0a1.25 1.25 0 1 0 -2.5 0M244.8 670.59a1.25 1.25 0 1 0 2.5 0a1.25 1.25 0 1 0 -2.5 0M312.32 683.85a1.25 1.25 0 1 0 2.5 0a1.25 1.25 0 1 0 -2.5 0M121.4 729.52a1.25 1.25 0 1 0 2.5 0a1.25 1.25 0 1 0 -2.5 0M203.43 708.27a1.25 1.25 0 1 0 2.5 0a1.25 1.25 0 1 0 -2.5 0M292.37 706.33a1.25 1.25 0 1 0 2.5 0a1.25 1.25 0 1 0 -2.5 0M273.65 684.41a1.25 1.25 0 1 0 2.5 0a1.25 1.25 0 1 0 -2.5 0M153.4 754.87a1.25 1.25 0 1 0 2.5 0a1.25 1.25 0 1 0 -2.5 0M159.02 688.12a1.25 1.25 0 1 0 2.5 0a1.25 1.25 0 1 0 -2.5 0M122.25 737.17a1.25 1.25 0 1 0 2.5 0a1.25 1.25 0 1 0 -2.5 0M251.37 706.61a1.25 1.25 0 1 0 2.5 0a1.25 1.25 0 1 0 -2.5 0M190.13 674.74a1.25 1.25 0 1 0 2.5 0a1.25 1.25 0 1 0 -2.5 0M270.9 686.83a1.25 1.25 0 1 0 2.5 0a1.25 1.25 0 1 0 -2.5 0M131.95 749.92a1.25 1.25 0 1 0 2.5 0a1.25 1.25 0 1 0 -2.5 0M140.96 723.15a1.25 1.25 0 1 0 2.5 0a1.25 1.25 0 1 0 -2.5 0M257.73 688.42a1.25 1.25 0 1 0 2.5 0a1.25 1.25 0 1 0 -2.5 0M85.05 715.91a1.25 1.25 0 1 0 2.5 0a1.25 1.25 0 1 0 -2.5 0M279.04 694.96a1.25 1.25 0 1 0 2.5 0a1.25 1.25 0 1 0 -2.5 0M112.11 690.38a1.25 1.25 0 1 0 2.5 0a1.25 1.25 0 1 0 -2.5 0M265.97 678.73a1.25 1.25 0 1 0 2.5 0a1.25 1.25 0 1 0 -2.5 0M137.84 672.7a1.25 1.25 0 1 0 2.5 0a1.25 1.25 0 1 0 -2.5 0M70.08 706.7a1.25 1.25 0 1 0 2.5 0a1.25 1.25 0 1 0 -2.5 0M224.36 720.19a1.25 1.25 0 1 0 2.5 0a1.25 1.25 0 1 0 -2.5 0M167.08 683.48a1.25 1.25 0 1 0 2.5 0a1.25 1.25 0 1 0 -2.5 0M118.61 729.19a1.25 1.25 0 1 0 2.5 0a1.25 1.25 0 1 0 -2.5 0M130.06 718.15a1.25 1.25 0 1 0 2.5 0a1.25 1.25 0 1 0 -2.5 0M175.17 750a1.25 1.25 0 1 0 2.5 0a1.25 1.25 0 1 0 -2.5 0M284.14 661.2a1.25 1.25 0 1 0 2.5 0a1.25 1.25 0 1 0 -2.5 0M125.07 688.8a1.25 1.25 0 1 0 2.5 0a1.25 1.25 0 1 0 -2.5 0M208.16 749.63a1.25 1.25 0 1 0 2.5 0a1.25 1.25 0 1 0 -2.5 0M213.95 694.02a1.25 1.25 0 1 0 2.5 0a1.25 1.25 0 1 0 -2.5 0M242.22 683.2a1.25 1.25 0 1 0 2.5 0a1.25 1.25 0 1 0 -2.5 0M111.58 684.88a1.25 1.25 0 1 0 2.5 0a1.25 1.25 0 1 0 -2.5 0M278.98 696.05a1.25 1.25 0 1 0 2.5 0a1.25 1.25 0 1 0 -2.5 0M258.66 713.16a1.25 1.25 0 1 0 2.5 0a1.25 1.25 0 1 0 -2.5 0M276.5 676.89a1.25 1.25 0 1 0 2.5 0a1.25 1.25 0 1 0 -2.5 0M132.92 740.43a1.25 1.25 0 1 0 2.5 0a1.25 1.25 0 1 0 -2.5 0M289.2 687.38a1.25 1.25 0 1 0 2.5 0a1.25 1.25 0 1 0 -2.5 0M283.5 692.27a1.25 1.25 0 1 0 2.5 0a1.25 1.25 0 1 0 -2.5 0M131 684.32a1.25 1.25 0 1 0 2.5 0a1.25 1.25 0 1 0 -2.5 0M135.06 746.22a1.25 1.25 0 1 0 2.5 0a1.25 1.25 0 1 0 -2.5 0M140.88 691.21a1.25 1.25 0 1 0 2.5 0a1.25 1.25 0 1 0 -2.5 0M178.98 693.79a1.25 1.25 0 1 0 2.5 0a1.25 1.25 0 1 0 -2.5 0M130.42 740.21a1.25 1.25 0 1 0 2.5 0a1.25 1.25 0 1 0 -2.5 0M132.41 691.92a1.25 1.25 0 1 0 2.5 0a1.25 1.25 0 1 0 -2.5 0M215.22 670.52a1.25 1.25 0 1 0 2.5 0a1.25 1.25 0 1 0 -2.5 0M313.55 673.08a1.25 1.25 0 1 0 2.5 0a1.25 1.25 0 1 0 -2.5 0M249.57 690.75a1.25 1.25 0 1 0 2.5 0a1.25 1.25 0 1 0 -2.5 0M187.14 688.19a1.25 1.25 0 1 0 2.5 0a1.25 1.25 0 1 0 -2.5 0M56.65 745.16a1.25 1.25 0 1 0 2.5 0a1.25 1.25 0 1 0 -2.5 0M143.83 704.24a1.25 1.25 0 1 0 2.5 0a1.25 1.25 0 1 0 -2.5 0M265.18 660.38a1.25 1.25 0 1 0 2.5 0a1.25 1.25 0 1 0 -2.5 0M175.65 752.12a1.25 1.25 0 1 0 2.5 0a1.25 1.25 0 1 0 -2.5 0M203.28 687.24a1.25 1.25 0 1 0 2.5 0a1.25 1.25 0 1 0 -2.5 0M209.72 726.02a1.25 1.25 0 1 0 2.5 0a1.25 1.25 0 1 0 -2.5 0M135.67 733.94a1.25 1.25 0 1 0 2.5 0a1.25 1.25 0 1 0 -2.5 0M227.34 692.76a1.25 1.25 0 1 0 2.5 0a1.25 1.25 0 1 0 -2.5 0M74.46 740.84a1.25 1.25 0 1 0 2.5 0a1.25 1.25 0 1 0 -2.5 0M130.39 717.05a1.25 1.25 0 1 0 2.5 0a1.25 1.25 0 1 0 -2.5 0M171.47 742.36a1.25 1.25 0 1 0 2.5 0a1.25 1.25 0 1 0 -2.5 0M232.7 705.24a1.25 1.25 0 1 0 2.5 0a1.25 1.25 0 1 0 -2.5 0M114.32 723.85a1.25 1.25 0 1 0 2.5 0a1.25 1.25 0 1 0 -2.5 0M288.59 672a1.25 1.25 0 1 0 2.5 0a1.25 1.25 0 1 0 -2.5 0M180.32 723.91a1.25 1.25 0 1 0 2.5 0a1.25 1.25 0 1 0 -2.5 0M143.47 708.95a1.25 1.25 0 1 0 2.5 0a1.25 1.25 0 1 0 -2.5 0M260.63 674.67a1.25 1.25 0 1 0 2.5 0a1.25 1.25 0 1 0 -2.5 0M78.55 707.59a1.25 1.25 0 1 0 2.5 0a1.25 1.25 0 1 0 -2.5 0M178.66 715.27a1.25 1.25 0 1 0 2.5 0a1.25 1.25 0 1 0 -2.5 0M126.27 682.37a1.25 1.25 0 1 0 2.5 0a1.25 1.25 0 1 0 -2.5 0M290.51 689.56a1.25 1.25 0 1 0 2.5 0a1.25 1.25 0 1 0 -2.5 0M186.47 679.75a1.25 1.25 0 1 0 2.5 0a1.25 1.25 0 1 0 -2.5 0M155.17 687.24a1.25 1.25 0 1 0 2.5 0a1.25 1.25 0 1 0 -2.5 0M152.47 690.8a1.25 1.25 0 1 0 2.5 0a1.25 1.25 0 1 0 -2.5 0M181.62 726.33a1.25 1.25 0 1 0 2.5 0a1.25 1.25 0 1 0 -2.5 0M95.34 693.37a1.25 1.25 0 1 0 2.5 0a1.25 1.25 0 1 0 -2.5 0M315.69 671.45a1.25 1.25 0 1 0 2.5 0a1.25 1.25 0 1 0 -2.5 0M94.36 754.79a1.25 1.25 0 1 0 2.5 0a1.25 1.25 0 1 0 -2.5 0M143.58 727.85a1.25 1.25 0 1 0 2.5 0a1.25 1.25 0 1 0 -2.5 0M269.91 701.42a1.25 1.25 0 1 0 2.5 0a1.25 1.25 0 1 0 -2.5 0M109.76 710.02a1.25 1.25 0 1 0 2.5 0a1.25 1.25 0 1 0 -2.5 0M202.08 669.75a1.25 1.25 0 1 0 2.5 0a1.25 1.25 0 1 0 -2.5 0M264.92 669.43a1.25 1.25 0 1 0 2.5 0a1.25 1.25 0 1 0 -2.5 0M127.19 749.93a1.25 1.25 0 1 0 2.5 0a1.25 1.25 0 1 0 -2.5 0M38.28 753.07a1.25 1.25 0 1 0 2.5 0a1.25 1.25 0 1 0 -2.5 0M115.09 726.52a1.25 1.25 0 1 0 2.5 0a1.25 1.25 0 1 0 -2.5 0M130.86 724.87a1.25 1.25 0 1 0 2.5 0a1.25 1.25 0 1 0 -2.5 0M267.99 671.82a1.25 1.25 0 1 0 2.5 0a1.25 1.25 0 1 0 -2.5 0M114.77 730.39a1.25 1.25 0 1 0 2.5 0a1.25 1.25 0 1 0 -2.5 0M150.82 684.03a1.25 1.25 0 1 0 2.5 0a1.25 1.25 0 1 0 -2.5 0M103.15 736.84a1.25 1.25 0 1 0 2.5 0a1.25 1.25 0 1 0 -2.5 0M240.08 669.67a1.25 1.25 0 1 0 2.5 0a1.25 1.25 0 1 0 -2.5 0M173.47 755.18a1.25 1.25 0 1 0 2.5 0a1.25 1.25 0 1 0 -2.5 0M111.63 737.14a1.25 1.25 0 1 0 2.5 0a1.25 1.25 0 1 0 -2.5 0M225.21 695.79a1.25 1.25 0 1 0 2.5 0a1.25 1.25 0 1 0 -2.5 0M125.08 696.02a1.25 1.25 0 1 0 2.5 0a1.25 1.25 0 1 0 -2.5 0M88.72 706.12a1.25 1.25 0 1 0 2.5 0a1.25 1.25 0 1 0 -2.5 0M172.53 738.08a1.25 1.25 0 1 0 2.5 0a1.25 1.25 0 1 0 -2.5 0M184.1 748.57a1.25 1.25 0 1 0 2.5 0a1.25 1.25 0 1 0 -2.5 0M272.82 681.92a1.25 1.25 0 1 0 2.5 0a1.25 1.25 0 1 0 -2.5 0M283.69 680.74a1.25 1.25 0 1 0 2.5 0a1.25 1.25 0 1 0 -2.5 0M269.57 687.91a1.25 1.25 0 1 0 2.5 0a1.25 1.25 0 1 0 -2.5 0M262.44 683.96a1.25 1.25 0 1 0 2.5 0a1.25 1.25 0 1 0 -2.5 0M103.21 760.1a1.25 1.25 0 1 0 2.5 0a1.25 1.25 0 1 0 -2.5 0M142.52 703.53a1.25 1.25 0 1 0 2.5 0a1.25 1.25 0 1 0 -2.5 0M268.22 668a1.25 1.25 0 1 0 2.5 0a1.25 1.25 0 1 0 -2.5 0M82.13 747.86a1.25 1.25 0 1 0 2.5 0a1.25 1.25 0 1 0 -2.5 0M191.45 732.9a1.25 1.25 0 1 0 2.5 0a1.25 1.25 0 1 0 -2.5 0M68.51 686.03a1.25 1.25 0 1 0 2.5 0a1.25 1.25 0 1 0 -2.5 0M169.04 681.73a1.25 1.25 0 1 0 2.5 0a1.25 1.25 0 1 0 -2.5 0M194.28 730.3a1.25 1.25 0 1 0 2.5 0a1.25 1.25 0 1 0 -2.5 0M140.26 739a1.25 1.25 0 1 0 2.5 0a1.25 1.25 0 1 0 -2.5 0M135.38 771.34a1.25 1.25 0 1 0 2.5 0a1.25 1.25 0 1 0 -2.5 0M270.45 674.94a1.25 1.25 0 1 0 2.5 0a1.25 1.25 0 1 0 -2.5 0M169.97 707.18a1.25 1.25 0 1 0 2.5 0a1.25 1.25 0 1 0 -2.5 0M260.32 683.57a1.25 1.25 0 1 0 2.5 0a1.25 1.25 0 1 0 -2.5 0M219.55 645.83a1.25 1.25 0 1 0 2.5 0a1.25 1.25 0 1 0 -2.5 0M142.45 723.87a1.25 1.25 0 1 0 2.5 0a1.25 1.25 0 1 0 -2.5 0M164.27 717.62a1.25 1.25 0 1 0 2.5 0a1.25 1.25 0 1 0 -2.5 0M264.52 679.35a1.25 1.25 0 1 0 2.5 0a1.25 1.25 0 1 0 -2.5 0M232.77 697.36a1.25 1.25 0 1 0 2.5 0a1.25 1.25 0 1 0 -2.5 0M199.36 677.39a1.25 1.25 0 1 0 2.5 0a1.25 1.25 0 1 0 -2.5 0M264.39 685.7a1.25 1.25 0 1 0 2.5 0a1.25 1.25 0 1 0 -2.5 0M162.07 710.78a1.25 1.25 0 1 0 2.5 0a1.25 1.25 0 1 0 -2.5 0M111.45 654.45a1.25 1.25 0 1 0 2.5 0a1.25 1.25 0 1 0 -2.5 0M127.24 737.04a1.25 1.25 0 1 0 2.5 0a1.25 1.25 0 1 0 -2.5 0M250.09 707.34a1.25 1.25 0 1 0 2.5 0a1.25 1.25 0 1 0 -2.5 0M122.38 715.51a1.25 1.25 0 1 0 2.5 0a1.25 1.25 0 1 0 -2.5 0M256.75 694.81a1.25 1.25 0 1 0 2.5 0a1.25 1.25 0 1 0 -2.5 0M210.05 718.81a1.25 1.25 0 1 0 2.5 0a1.25 1.25 0 1 0 -2.5 0M213.27 696.08a1.25 1.25 0 1 0 2.5 0a1.25 1.25 0 1 0 -2.5 0M165.45 688.73a1.25 1.25 0 1 0 2.5 0a1.25 1.25 0 1 0 -2.5 0M137.75 764.38a1.25 1.25 0 1 0 2.5 0a1.25 1.25 0 1 0 -2.5 0M106.16 726.65a1.25 1.25 0 1 0 2.5 0a1.25 1.25 0 1 0 -2.5 0M318.01 666.04a1.25 1.25 0 1 0 2.5 0a1.25 1.25 0 1 0 -2.5 0M228.75 717.93a1.25 1.25 0 1 0 2.5 0a1.25 1.25 0 1 0 -2.5 0M187.89 691.1a1.25 1.25 0 1 0 2.5 0a1.25 1.25 0 1 0 -2.5 0M262.84 656.02a1.25 1.25 0 1 0 2.5 0a1.25 1.25 0 1 0 -2.5 0M87.12 682.42a1.25 1.25 0 1 0 2.5 0a1.25 1.25 0 1 0 -2.5 0M212.67 691.93a1.25 1.25 0 1 0 2.5 0a1.25 1.25 0 1 0 -2.5 0M109.88 665.77a1.25 1.25 0 1 0 2.5 0a1.25 1.25 0 1 0 -2.5 0M141.87 731.52a1.25 1.25 0 1 0 2.5 0a1.25 1.25 0 1 0 -2.5 0M298.42 668.42a1.25 1.25 0 1 0 2.5 0a1.25 1.25 0 1 0 -2.5 0M85.36 737.14a1.25 1.25 0 1 0 2.5 0a1.25 1.25 0 1 0 -2.5 0M222.39 703.91a1.25 1.25 0 1 0 2.5 0a1.25 1.25 0 1 0 -2.5 0M144.21 671.5a1.25 1.25 0 1 0 2.5 0a1.25 1.25 0 1 0 -2.5 0M171.99 762.25a1.25 1.25 0 1 0 2.5 0a1.25 1.25 0 1 0 -2.5 0M124.66 757.44a1.25 1.25 0 1 0 2.5 0a1.25 1.25 0 1 0 -2.5 0M111.9 730.18a1.25 1.25 0 1 0 2.5 0a1.25 1.25 0 1 0 -2.5 0M115.19 690.36a1.25 1.25 0 1 0 2.5 0a1.25 1.25 0 1 0 -2.5 0M112.82 684.52a1.25 1.25 0 1 0 2.5 0a1.25 1.25 0 1 0 -2.5 0M130.88 733.15a1.25 1.25 0 1 0 2.5 0a1.25 1.25 0 1 0 -2.5 0M74.43 702.4a1.25 1.25 0 1 0 2.5 0a1.25 1.25 0 1 0 -2.5 0M141.79 642.2a1.25 1.25 0 1 0 2.5 0a1.25 1.25 0 1 0 -2.5 0M93.4 707.17a1.25 1.25 0 1 0 2.5 0a1.25 1.25 0 1 0 -2.5 0M119.94 688.96a1.25 1.25 0 1 0 2.5 0a1.25 1.25 0 1 0 -2.5 0M134.29 680.25a1.25 1.25 0 1 0 2.5 0a1.25 1.25 0 1 0 -2.5 0M151.99 726.25a1.25 1.25 0 1 0 2.5 0a1.25 1.25 0 1 0 -2.5 0M303.37 676.48a1.25 1.25 0 1 0 2.5 0a1.25 1.25 0 1 0 -2.5 0M174.46 717.9a1.25 1.25 0 1 0 2.5 0a1.25 1.25 0 1 0 -2.5 0M151.73 711.09a1.25 1.25 0 1 0 2.5 0a1.25 1.25 0 1 0 -2.5 0M157.58 725.15a1.25 1.25 0 1 0 2.5 0a1.25 1.25 0 1 0 -2.5 0M190.6 724.5a1.25 1.25 0 1 0 2.5 0a1.25 1.25 0 1 0 -2.5 0M109.86 739.38a1.25 1.25 0 1 0 2.5 0a1.25 1.25 0 1 0 -2.5 0M248.9 673.05a1.25 1.25 0 1 0 2.5 0a1.25 1.25 0 1 0 -2.5 0M132.51 760.1a1.25 1.25 0 1 0 2.5 0a1.25 1.25 0 1 0 -2.5 0M277.16 679.64a1.25 1.25 0 1 0 2.5 0a1.25 1.25 0 1 0 -2.5 0M284.59 661.12a1.25 1.25 0 1 0 2.5 0a1.25 1.25 0 1 0 -2.5 0M58.43 764.27a1.25 1.25 0 1 0 2.5 0a1.25 1.25 0 1 0 -2.5 0M296.85 701.58a1.25 1.25 0 1 0 2.5 0a1.25 1.25 0 1 0 -2.5 0M190 690.63a1.25 1.25 0 1 0 2.5 0a1.25 1.25 0 1 0 -2.5 0M281.28 691.41a1.25 1.25 0 1 0 2.5 0a1.25 1.25 0 1 0 -2.5 0M158.66 737.77a1.25 1.25 0 1 0 2.5 0a1.25 1.25 0 1 0 -2.5 0M189.4 691.79a1.25 1.25 0 1 0 2.5 0a1.25 1.25 0 1 0 -2.5 0M227.51 689.41a1.25 1.25 0 1 0 2.5 0a1.25 1.25 0 1 0 -2.5 0M201.29 725.79a1.25 1.25 0 1 0 2.5 0a1.25 1.25 0 1 0 -2.5 0M262.91 689.11a1.25 1.25 0 1 0 2.5 0a1.25 1.25 0 1 0 -2.5 0M156.01 760.4a1.25 1.25 0 1 0 2.5 0a1.25 1.25 0 1 0 -2.5 0M140.74 737.1a1.25 1.25 0 1 0 2.5 0a1.25 1.25 0 1 0 -2.5 0M128 723.5a1.25 1.25 0 1 0 2.5 0a1.25 1.25 0 1 0 -2.5 0M265.73 675.29a1.25 1.25 0 1 0 2.5 0a1.25 1.25 0 1 0 -2.5 0M298.28 671.2a1.25 1.25 0 1 0 2.5 0a1.25 1.25 0 1 0 -2.5 0M110.55 670.5a1.25 1.25 0 1 0 2.5 0a1.25 1.25 0 1 0 -2.5 0M319.83 677.78a1.25 1.25 0 1 0 2.5 0a1.25 1.25 0 1 0 -2.5 0M286.39 666.23a1.25 1.25 0 1 0 2.5 0a1.25 1.25 0 1 0 -2.5 0M145.62 710.84a1.25 1.25 0 1 0 2.5 0a1.25 1.25 0 1 0 -2.5 0M297.36 691.52a1.25 1.25 0 1 0 2.5 0a1.25 1.25 0 1 0 -2.5 0M145.96 709.37a1.25 1.25 0 1 0 2.5 0a1.25 1.25 0 1 0 -2.5 0M271.56 677.2a1.25 1.25 0 1 0 2.5 0a1.25 1.25 0 1 0 -2.5 0M173.42 693.36a1.25 1.25 0 1 0 2.5 0a1.25 1.25 0 1 0 -2.5 0M237.7 681.73a1.25 1.25 0 1 0 2.5 0a1.25 1.25 0 1 0 -2.5 0M268.9 680.85a1.25 1.25 0 1 0 2.5 0a1.25 1.25 0 1 0 -2.5 0M160.69 742.1a1.25 1.25 0 1 0 2.5 0a1.25 1.25 0 1 0 -2.5 0M96.54 731.15a1.25 1.25 0 1 0 2.5 0a1.25 1.25 0 1 0 -2.5 0M167.26 706a1.25 1.25 0 1 0 2.5 0a1.25 1.25 0 1 0 -2.5 0M138.04 701.21a1.25 1.25 0 1 0 2.5 0a1.25 1.25 0 1 0 -2.5 0M139.89 696a1.25 1.25 0 1 0 2.5 0a1.25 1.25 0 1 0 -2.5 0M238.76 684.1a1.25 1.25 0 1 0 2.5 0a1.25 1.25 0 1 0 -2.5 0M194.91 691.32a1.25 1.25 0 1 0 2.5 0a1.25 1.25 0 1 0 -2.5 0M106.79 679.62a1.25 1.25 0 1 0 2.5 0a1.25 1.25 0 1 0 -2.5 0M132.49 714.9a1.25 1.25 0 1 0 2.5 0a1.25 1.25 0 1 0 -2.5 0M206.87 719a1.25 1.25 0 1 0 2.5 0a1.25 1.25 0 1 0 -2.5 0M171.11 755.56a1.25 1.25 0 1 0 2.5 0a1.25 1.25 0 1 0 -2.5 0M159.06 715.16a1.25 1.25 0 1 0 2.5 0a1.25 1.25 0 1 0 -2.5 0M83.17 704.39a1.25 1.25 0 1 0 2.5 0a1.25 1.25 0 1 0 -2.5 0M67.26 734.25a1.25 1.25 0 1 0 2.5 0a1.25 1.25 0 1 0 -2.5 0M123.82 677.81a1.25 1.25 0 1 0 2.5 0a1.25 1.25 0 1 0 -2.5 0M244.33 705.68a1.25 1.25 0 1 0 2.5 0a1.25 1.25 0 1 0 -2.5 0M307.64 682.63a1.25 1.25 0 1 0 2.5 0a1.25 1.25 0 1 0 -2.5 0M91.4 723.77a1.25 1.25 0 1 0 2.5 0a1.25 1.25 0 1 0 -2.5 0M160.17 752.73a1.25 1.25 0 1 0 2.5 0a1.25 1.25 0 1 0 -2.5 0M107.8 692.46a1.25 1.25 0 1 0 2.5 0a1.25 1.25 0 1 0 -2.5 0M151.36 740.22a1.25 1.25 0 1 0 2.5 0a1.25 1.25 0 1 0 -2.5 0M261.11 703.27a1.25 1.25 0 1 0 2.5 0a1.25 1.25 0 1 0 -2.5 0M209.88 681.27a1.25 1.25 0 1 0 2.5 0a1.25 1.25 0 1 0 -2.5 0M299.46 662.67a1.25 1.25 0 1 0 2.5 0a1.25 1.25 0 1 0 -2.5 0M50.31 754.38a1.25 1.25 0 1 0 2.5 0a1.25 1.25 0 1 0 -2.5 0M215.08 737.12a1.25 1.25 0 1 0 2.5 0a1.25 1.25 0 1 0 -2.5 0M235.3 703.06a1.25 1.25 0 1 0 2.5 0a1.25 1.25 0 1 0 -2.5 0M238.76 692.39a1.25 1.25 0 1 0 2.5 0a1.25 1.25 0 1 0 -2.5 0M112.35 738.53a1.25 1.25 0 1 0 2.5 0a1.25 1.25 0 1 0 -2.5 0M114.65 708.49a1.25 1.25 0 1 0 2.5 0a1.25 1.25 0 1 0 -2.5 0M185.75 742.98a1.25 1.25 0 1 0 2.5 0a1.25 1.25 0 1 0 -2.5 0M165.22 655.21a1.25 1.25 0 1 0 2.5 0a1.25 1.25 0 1 0 -2.5 0M124.4 711.66a1.25 1.25 0 1 0 2.5 0a1.25 1.25 0 1 0 -2.5 0M128.88 692.2a1.25 1.25 0 1 0 2.5 0a1.25 1.25 0 1 0 -2.5 0M160.09 728.74a1.25 1.25 0 1 0 2.5 0a1.25 1.25 0 1 0 -2.5 0M314.81 666.29a1.25 1.25 0 1 0 2.5 0a1.25 1.25 0 1 0 -2.5 0M240.02 658.16a1.25 1.25 0 1 0 2.5 0a1.25 1.25 0 1 0 -2.5 0M168.98 736.14a1.25 1.25 0 1 0 2.5 0a1.25 1.25 0 1 0 -2.5 0M76.47 719.52a1.25 1.25 0 1 0 2.5 0a1.25 1.25 0 1 0 -2.5 0M195.02 681.74a1.25 1.25 0 1 0 2.5 0a1.25 1.25 0 1 0 -2.5 0M59.65 711.66a1.25 1.25 0 1 0 2.5 0a1.25 1.25 0 1 0 -2.5 0M304.1 689a1.25 1.25 0 1 0 2.5 0a1.25 1.25 0 1 0 -2.5 0M160 730.13a1.25 1.25 0 1 0 2.5 0a1.25 1.25 0 1 0 -2.5 0M109.35 704.91a1.25 1.25 0 1 0 2.5 0a1.25 1.25 0 1 0 -2.5 0M241.33 684.01a1.25 1.25 0 1 0 2.5 0a1.25 1.25 0 1 0 -2.5 0M225.9 712.14a1.25 1.25 0 1 0 2.5 0a1.25 1.25 0 1 0 -2.5 0M200.05 699.35a1.25 1.25 0 1 0 2.5 0a1.25 1.25 0 1 0 -2.5 0M281.18 711.27a1.25 1.25 0 1 0 2.5 0a1.25 1.25 0 1 0 -2.5 0M289.93 678.61a1.25 1.25 0 1 0 2.5 0a1.25 1.25 0 1 0 -2.5 0M121.83 693.39a1.25 1.25 0 1 0 2.5 0a1.25 1.25 0 1 0 -2.5 0M87.14 695.3a1.25 1.25 0 1 0 2.5 0a1.25 1.25 0 1 0 -2.5 0M209.5 715.24a1.25 1.25 0 1 0 2.5 0a1.25 1.25 0 1 0 -2.5 0M197.99 701.84a1.25 1.25 0 1 0 2.5 0a1.25 1.25 0 1 0 -2.5 0M198.82 702.38a1.25 1.25 0 1 0 2.5 0a1.25 1.25 0 1 0 -2.5 0M132.69 724.86a1.25 1.25 0 1 0 2.5 0a1.25 1.25 0 1 0 -2.5 0M249.38 701.88a1.25 1.25 0 1 0 2.5 0a1.25 1.25 0 1 0 -2.5 0M167.19 757.63a1.25 1.25 0 1 0 2.5 0a1.25 1.25 0 1 0 -2.5 0M181.05 730.96a1.25 1.25 0 1 0 2.5 0a1.25 1.25 0 1 0 -2.5 0M130.95 759.17a1.25 1.25 0 1 0 2.5 0a1.25 1.25 0 1 0 -2.5 0M240.49 734.42a1.25 1.25 0 1 0 2.5 0a1.25 1.25 0 1 0 -2.5 0M204.51 677.63a1.25 1.25 0 1 0 2.5 0a1.25 1.25 0 1 0 -2.5 0M283.2 701.93a1.25 1.25 0 1 0 2.5 0a1.25 1.25 0 1 0 -2.5 0M146.88 742.52a1.25 1.25 0 1 0 2.5 0a1.25 1.25 0 1 0 -2.5 0M303.13 688.76a1.25 1.25 0 1 0 2.5 0a1.25 1.25 0 1 0 -2.5 0M188.6 707.24a1.25 1.25 0 1 0 2.5 0a1.25 1.25 0 1 0 -2.5 0M202.45 758.85a1.25 1.25 0 1 0 2.5 0a1.25 1.25 0 1 0 -2.5 0M139.72 675.44a1.25 1.25 0 1 0 2.5 0a1.25 1.25 0 1 0 -2.5 0M55.29 772.65a1.25 1.25 0 1 0 2.5 0a1.25 1.25 0 1 0 -2.5 0M289.39 693.86a1.25 1.25 0 1 0 2.5 0a1.25 1.25 0 1 0 -2.5 0M172.82 726.72a1.25 1.25 0 1 0 2.5 0a1.25 1.25 0 1 0 -2.5 0M284.81 685.62a1.25 1.25 0 1 0 2.5 0a1.25 1.25 0 1 0 -2.5 0M243.37 694.97a1.25 1.25 0 1 0 2.5 0a1.25 1.25 0 1 0 -2.5 0M80.4 697.77a1.25 1.25 0 1 0 2.5 0a1.25 1.25 0 1 0 -2.5 0M152.65 684.46a1.25 1.25 0 1 0 2.5 0a1.25 1.25 0 1 0 -2.5 0M151.37 653.15a1.25 1.25 0 1 0 2.5 0a1.25 1.25 0 1 0 -2.5 0M242.85 713.62a1.25 1.25 0 1 0 2.5 0a1.25 1.25 0 1 0 -2.5 0M190.29 679.61a1.25 1.25 0 1 0 2.5 0a1.25 1.25 0 1 0 -2.5 0M113.39 700.72a1.25 1.25 0 1 0 2.5 0a1.25 1.25 0 1 0 -2.5 0M310.41 680.91a1.25 1.25 0 1 0 2.5 0a1.25 1.25 0 1 0 -2.5 0M59.85 760.79a1.25 1.25 0 1 0 2.5 0a1.25 1.25 0 1 0 -2.5 0M117.45 648.35a1.25 1.25 0 1 0 2.5 0a1.25 1.25 0 1 0 -2.5 0M162.3 677.75a1.25 1.25 0 1 0 2.5 0a1.25 1.25 0 1 0 -2.5 0M123.59 772.12a1.25 1.25 0 1 0 2.5 0a1.25 1.25 0 1 0 -2.5 0M124.22 674.05a1.25 1.25 0 1 0 2.5 0a1.25 1.25 0 1 0 -2.5 0M167.07 698.44a1.25 1.25 0 1 0 2.5 0a1.25 1.25 0 1 0 -2.5 0M238.31 685.19a1.25 1.25 0 1 0 2.5 0a1.25 1.25 0 1 0 -2.5 0M158.57 690.4a1.25 1.25 0 1 0 2.5 0a1.25 1.25 0 1 0 -2.5 0M132.63 736.79a1.25 1.25 0 1 0 2.5 0a1.25 1.25 0 1 0 -2.5 0M162.7 717.25a1.25 1.25 0 1 0 2.5 0a1.25 1.25 0 1 0 -2.5 0M233.65 671.61a1.25 1.25 0 1 0 2.5 0a1.25 1.25 0 1 0 -2.5 0M231.24 718.5a1.25 1.25 0 1 0 2.5 0a1.25 1.25 0 1 0 -2.5 0M200.33 743.22a1.25 1.25 0 1 0 2.5 0a1.25 1.25 0 1 0 -2.5 0M201.64 751.16a1.25 1.25 0 1 0 2.5 0a1.25 1.25 0 1 0 -2.5 0M149.74 693.82a1.25 1.25 0 1 0 2.5 0a1.25 1.25 0 1 0 -2.5 0M220.51 723.09a1.25 1.25 0 1 0 2.5 0a1.25 1.25 0 1 0 -2.5 0M105.5 730.91a1.25 1.25 0 1 0 2.5 0a1.25 1.25 0 1 0 -2.5 0M148.49 731.88a1.25 1.25 0 1 0 2.5 0a1.25 1.25 0 1 0 -2.5 0M87.01 703.76a1.25 1.25 0 1 0 2.5 0a1.25 1.25 0 1 0 -2.5 0M292.22 673.99a1.25 1.25 0 1 0 2.5 0a1.25 1.25 0 1 0 -2.5 0M144.55 742.21a1.25 1.25 0 1 0 2.5 0a1.25 1.25 0 1 0 -2.5 0M135.11 678.17a1.25 1.25 0 1 0 2.5 0a1.25 1.25 0 1 0 -2.5 0M191.9 696.44a1.25 1.25 0 1 0 2.5 0a1.25 1.25 0 1 0 -2.5 0M72.51 711.73a1.25 1.25 0 1 0 2.5 0a1.25 1.25 0 1 0 -2.5 0M272.71 687.9a1.25 1.25 0 1 0 2.5 0a1.25 1.25 0 1 0 -2.5 0M191.98 718.43a1.25 1.25 0 1 0 2.5 0a1.25 1.25 0 1 0 -2.5 0M130.89 727.82a1.25 1.25 0 1 0 2.5 0a1.25 1.25 0 1 0 -2.5 0M314.44 676.87a1.25 1.25 0 1 0 2.5 0a1.25 1.25 0 1 0 -2.5 0M68.23 709.7a1.25 1.25 0 1 0 2.5 0a1.25 1.25 0 1 0 -2.5 0M79.99 709.22a1.25 1.25 0 1 0 2.5 0a1.25 1.25 0 1 0 -2.5 0M115.16 728.49a1.25 1.25 0 1 0 2.5 0a1.25 1.25 0 1 0 -2.5 0M132.93 724.03a1.25 1.25 0 1 0 2.5 0a1.25 1.25 0 1 0 -2.5 0M258.44 672.97a1.25 1.25 0 1 0 2.5 0a1.25 1.25 0 1 0 -2.5 0M241.19 666.12a1.25 1.25 0 1 0 2.5 0a1.25 1.25 0 1 0 -2.5 0M90.32 684.61a1.25 1.25 0 1 0 2.5 0a1.25 1.25 0 1 0 -2.5 0M284.69 679.95a1.25 1.25 0 1 0 2.5 0a1.25 1.25 0 1 0 -2.5 0M126.91 758.19a1.25 1.25 0 1 0 2.5 0a1.25 1.25 0 1 0 -2.5 0M128.93 715.71a1.25 1.25 0 1 0 2.5 0a1.25 1.25 0 1 0 -2.5 0M222.78 693.99a1.25 1.25 0 1 0 2.5 0a1.25 1.25 0 1 0 -2.5 0M242.6 687.77a1.25 1.25 0 1 0 2.5 0a1.25 1.25 0 1 0 -2.5 0M40.14 708.19a1.25 1.25 0 1 0 2.5 0a1.25 1.25 0 1 0 -2.5 0M277.66 687.85a1.25 1.25 0 1 0 2.5 0a1.25 1.25 0 1 0 -2.5 0M172.99 709.36a1.25 1.25 0 1 0 2.5 0a1.25 1.25 0 1 0 -2.5 0M295.29 709.14a1.25 1.25 0 1 0 2.5 0a1.25 1.25 0 1 0 -2.5 0M211.38 658.1a1.25 1.25 0 1 0 2.5 0a1.25 1.25 0 1 0 -2.5 0M197.8 707.09a1.25 1.25 0 1 0 2.5 0a1.25 1.25 0 1 0 -2.5 0M171.3 722.71a1.25 1.25 0 1 0 2.5 0a1.25 1.25 0 1 0 -2.5 0M145.18 703.06a1.25 1.25 0 1 0 2.5 0a1.25 1.25 0 1 0 -2.5 0M136.45 727.65a1.25 1.25 0 1 0 2.5 0a1.25 1.25 0 1 0 -2.5 0M97.76 743.39a1.25 1.25 0 1 0 2.5 0a1.25 1.25 0 1 0 -2.5 0M204.02 684.12a1.25 1.25 0 1 0 2.5 0a1.25 1.25 0 1 0 -2.5 0M246.44 686.76a1.25 1.25 0 1 0 2.5 0a1.25 1.25 0 1 0 -2.5 0M293.04 688.08a1.25 1.25 0 1 0 2.5 0a1.25 1.25 0 1 0 -2.5 0M260.49 673.29a1.25 1.25 0 1 0 2.5 0a1.25 1.25 0 1 0 -2.5 0M102.35 708.55a1.25 1.25 0 1 0 2.5 0a1.25 1.25 0 1 0 -2.5 0M292.16 674.13a1.25 1.25 0 1 0 2.5 0a1.25 1.25 0 1 0 -2.5 0M197.89 716.44a1.25 1.25 0 1 0 2.5 0a1.25 1.25 0 1 0 -2.5 0M175.74 680.71a1.25 1.25 0 1 0 2.5 0a1.25 1.25 0 1 0 -2.5 0M243.38 706.84a1.25 1.25 0 1 0 2.5 0a1.25 1.25 0 1 0 -2.5 0M155.91 691.73a1.25 1.25 0 1 0 2.5 0a1.25 1.25 0 1 0 -2.5 0M119.08 676.21a1.25 1.25 0 1 0 2.5 0a1.25 1.25 0 1 0 -2.5 0M287.6 691.96a1.25 1.25 0 1 0 2.5 0a1.25 1.25 0 1 0 -2.5 0M115.93 714.63a1.25 1.25 0 1 0 2.5 0a1.25 1.25 0 1 0 -2.5 0M185.68 709.85a1.25 1.25 0 1 0 2.5 0a1.25 1.25 0 1 0 -2.5 0M202.56 752.62a1.25 1.25 0 1 0 2.5 0a1.25 1.25 0 1 0 -2.5 0M133.78 760.6a1.25 1.25 0 1 0 2.5 0a1.25 1.25 0 1 0 -2.5 0M176.68 706.83a1.25 1.25 0 1 0 2.5 0a1.25 1.25 0 1 0 -2.5 0M286.99 665.06a1.25 1.25 0 1 0 2.5 0a1.25 1.25 0 1 0 -2.5 0M137.53 705.68a1.25 1.25 0 1 0 2.5 0a1.25 1.25 0 1 0 -2.5 0M262.99 687.47a1.25 1.25 0 1 0 2.5 0a1.25 1.25 0 1 0 -2.5 0M116.96 744.93a1.25 1.25 0 1 0 2.5 0a1.25 1.25 0 1 0 -2.5 0M140.68 719.53a1.25 1.25 0 1 0 2.5 0a1.25 1.25 0 1 0 -2.5 0M129.12 649.73a1.25 1.25 0 1 0 2.5 0a1.25 1.25 0 1 0 -2.5 0M98.7 680.26a1.25 1.25 0 1 0 2.5 0a1.25 1.25 0 1 0 -2.5 0M168.95 754a1.25 1.25 0 1 0 2.5 0a1.25 1.25 0 1 0 -2.5 0M101.91 743.39a1.25 1.25 0 1 0 2.5 0a1.25 1.25 0 1 0 -2.5 0M171.51 756.52a1.25 1.25 0 1 0 2.5 0a1.25 1.25 0 1 0 -2.5 0M163.75 698.91a1.25 1.25 0 1 0 2.5 0a1.25 1.25 0 1 0 -2.5 0M114.4 730.51a1.25 1.25 0 1 0 2.5 0a1.25 1.25 0 1 0 -2.5 0M270.57 705.08a1.25 1.25 0 1 0 2.5 0a1.25 1.25 0 1 0 -2.5 0M153.9 722.77a1.25 1.25 0 1 0 2.5 0a1.25 1.25 0 1 0 -2.5 0M192.26 723.68a1.25 1.25 0 1 0 2.5 0a1.25 1.25 0 1 0 -2.5 0M102.08 753.89a1.25 1.25 0 1 0 2.5 0a1.25 1.25 0 1 0 -2.5 0M147.98 729.32a1.25 1.25 0 1 0 2.5 0a1.25 1.25 0 1 0 -2.5 0M105.67 696.48a1.25 1.25 0 1 0 2.5 0a1.25 1.25 0 1 0 -2.5 0M105.52 749.9a1.25 1.25 0 1 0 2.5 0a1.25 1.25 0 1 0 -2.5 0M67.54 734.21a1.25 1.25 0 1 0 2.5 0a1.25 1.25 0 1 0 -2.5 0M100.16 764.78a1.25 1.25 0 1 0 2.5 0a1.25 1.25 0 1 0 -2.5 0M110.2 734.34a1.25 1.25 0 1 0 2.5 0a1.25 1.25 0 1 0 -2.5 0M158.12 676.09a1.25 1.25 0 1 0 2.5 0a1.25 1.25 0 1 0 -2.5 0M274.17 674.06a1.25 1.25 0 1 0 2.5 0a1.25 1.25 0 1 0 -2.5 0M252.97 698.64a1.25 1.25 0 1 0 2.5 0a1.25 1.25 0 1 0 -2.5 0M201.83 723.76a1.25 1.25 0 1 0 2.5 0a1.25 1.25 0 1 0 -2.5 0M117.9 684.4a1.25 1.25 0 1 0 2.5 0a1.25 1.25 0 1 0 -2.5 0M171.95 717.6a1.25 1.25 0 1 0 2.5 0a1.25 1.25 0 1 0 -2.5 0M293.23 685.98a1.25 1.25 0 1 0 2.5 0a1.25 1.25 0 1 0 -2.5 0M141.18 685.65a1.25 1.25 0 1 0 2.5 0a1.25 1.25 0 1 0 -2.5 0M128.64 732.81a1.25 1.25 0 1 0 2.5 0a1.25 1.25 0 1 0 -2.5 0M220.72 715.89a1.25 1.25 0 1 0 2.5 0a1.25 1.25 0 1 0 -2.5 0M296.39 673.29a1.25 1.25 0 1 0 2.5 0a1.25 1.25 0 1 0 -2.5 0M279.31 698.62a1.25 1.25 0 1 0 2.5 0a1.25 1.25 0 1 0 -2.5 0M150.15 729.78a1.25 1.25 0 1 0 2.5 0a1.25 1.25 0 1 0 -2.5 0M116.87 743.55a1.25 1.25 0 1 0 2.5 0a1.25 1.25 0 1 0 -2.5 0M237.11 688.29a1.25 1.25 0 1 0 2.5 0a1.25 1.25 0 1 0 -2.5 0M226.54 698.18a1.25 1.25 0 1 0 2.5 0a1.25 1.25 0 1 0 -2.5 0M66.11 667.3a1.25 1.25 0 1 0 2.5 0a1.25 1.25 0 1 0 -2.5 0M138.34 698.14a1.25 1.25 0 1 0 2.5 0a1.25 1.25 0 1 0 -2.5 0M80.65 720.07a1.25 1.25 0 1 0 2.5 0a1.25 1.25 0 1 0 -2.5 0M215.94 685.75a1.25 1.25 0 1 0 2.5 0a1.25 1.25 0 1 0 -2.5 0M146.58 723.08a1.25 1.25 0 1 0 2.5 0a1.25 1.25 0 1 0 -2.5 0M68.27 713.23a1.25 1.25 0 1 0 2.5 0a1.25 1.25 0 1 0 -2.5 0M140.09 700.32a1.25 1.25 0 1 0 2.5 0a1.25 1.25 0 1 0 -2.5 0M230.33 683.17a1.25 1.25 0 1 0 2.5 0a1.25 1.25 0 1 0 -2.5 0M228.92 662.62a1.25 1.25 0 1 0 2.5 0a1.25 1.25 0 1 0 -2.5 0M298.99 670.44a1.25 1.25 0 1 0 2.5 0a1.25 1.25 0 1 0 -2.5 0M168.78 732.71a1.25 1.25 0 1 0 2.5 0a1.25 1.25 0 1 0 -2.5 0M139.97 709.6a1.25 1.25 0 1 0 2.5 0a1.25 1.25 0 1 0 -2.5 0M115.97 752.5a1.25 1.25 0 1 0 2.5 0a1.25 1.25 0 1 0 -2.5 0M176.47 650.33a1.25 1.25 0 1 0 2.5 0a1.25 1.25 0 1 0 -2.5 0M290.56 680.04a1.25 1.25 0 1 0 2.5 0a1.25 1.25 0 1 0 -2.5 0M214.25 687.68a1.25 1.25 0 1 0 2.5 0a1.25 1.25 0 1 0 -2.5 0M225.01 716.98a1.25 1.25 0 1 0 2.5 0a1.25 1.25 0 1 0 -2.5 0M286.87 684.53a1.25 1.25 0 1 0 2.5 0a1.25 1.25 0 1 0 -2.5 0M225.1 672.32a1.25 1.25 0 1 0 2.5 0a1.25 1.25 0 1 0 -2.5 0M171.55 747.75a1.25 1.25 0 1 0 2.5 0a1.25 1.25 0 1 0 -2.5 0M144.23 689.91a1.25 1.25 0 1 0 2.5 0a1.25 1.25 0 1 0 -2.5 0M182.65 716.43a1.25 1.25 0 1 0 2.5 0a1.25 1.25 0 1 0 -2.5 0M247.86 693.03a1.25 1.25 0 1 0 2.5 0a1.25 1.25 0 1 0 -2.5 0M98.19 661.74a1.25 1.25 0 1 0 2.5 0a1.25 1.25 0 1 0 -2.5 0M170.12 689.11a1.25 1.25 0 1 0 2.5 0a1.25 1.25 0 1 0 -2.5 0M230.74 685.04a1.25 1.25 0 1 0 2.5 0a1.25 1.25 0 1 0 -2.5 0M254.34 689.02a1.25 1.25 0 1 0 2.5 0a1.25 1.25 0 1 0 -2.5 0M169.05 707.03a1.25 1.25 0 1 0 2.5 0a1.25 1.25 0 1 0 -2.5 0M236.59 694.61a1.25 1.25 0 1 0 2.5 0a1.25 1.25 0 1 0 -2.5 0M132.18 665.07a1.25 1.25 0 1 0 2.5 0a1.25 1.25 0 1 0 -2.5 0M161.05 707.98a1.25 1.25 0 1 0 2.5 0a1.25 1.25 0 1 0 -2.5 0M224.54 712.92a1.25 1.25 0 1 0 2.5 0a1.25 1.25 0 1 0 -2.5 0M67.33 736.14a1.25 1.25 0 1 0 2.5 0a1.25 1.25 0 1 0 -2.5 0M177.87 698.44a1.25 1.25 0 1 0 2.5 0a1.25 1.25 0 1 0 -2.5 0M181.05 742.47a1.25 1.25 0 1 0 2.5 0a1.25 1.25 0 1 0 -2.5 0M181.04 732.25a1.25 1.25 0 1 0 2.5 0a1.25 1.25 0 1 0 -2.5 0M99.33 767.78a1.25 1.25 0 1 0 2.5 0a1.25 1.25 0 1 0 -2.5 0M118.44 652.19a1.25 1.25 0 1 0 2.5 0a1.25 1.25 0 1 0 -2.5 0M196.18 712.74a1.25 1.25 0 1 0 2.5 0a1.25 1.25 0 1 0 -2.5 0M97.82 667.41a1.25 1.25 0 1 0 2.5 0a1.25 1.25 0 1 0 -2.5 0M267.55 673.59a1.25 1.25 0 1 0 2.5 0a1.25 1.25 0 1 0 -2.5 0M172.11 702.58a1.25 1.25 0 1 0 2.5 0a1.25 1.25 0 1 0 -2.5 0M314.2 689.69a1.25 1.25 0 1 0 2.5 0a1.25 1.25 0 1 0 -2.5 0M204.01 705.37a1.25 1.25 0 1 0 2.5 0a1.25 1.25 0 1 0 -2.5 0M143.65 711.79a1.25 1.25 0 1 0 2.5 0a1.25 1.25 0 1 0 -2.5 0M112.86 745.88a1.25 1.25 0 1 0 2.5 0a1.25 1.25 0 1 0 -2.5 0M194.77 686.75a1.25 1.25 0 1 0 2.5 0a1.25 1.25 0 1 0 -2.5 0M302.7 661.69a1.25 1.25 0 1 0 2.5 0a1.25 1.25 0 1 0 -2.5 0M169.45 697.45a1.25 1.25 0 1 0 2.5 0a1.25 1.25 0 1 0 -2.5 0M118.2 712.43a1.25 1.25 0 1 0 2.5 0a1.25 1.25 0 1 0 -2.5 0M266.79 707.18a1.25 1.25 0 1 0 2.5 0a1.25 1.25 0 1 0 -2.5 0M200.23 685.09a1.25 1.25 0 1 0 2.5 0a1.25 1.25 0 1 0 -2.5 0M221.52 724.32a1.25 1.25 0 1 0 2.5 0a1.25 1.25 0 1 0 -2.5 0M82.35 754.12a1.25 1.25 0 1 0 2.5 0a1.25 1.25 0 1 0 -2.5 0M82.3 739.9a1.25 1.25 0 1 0 2.5 0a1.25 1.25 0 1 0 -2.5 0M121.49 748.17a1.25 1.25 0 1 0 2.5 0a1.25 1.25 0 1 0 -2.5 0M187.3 706.75a1.25 1.25 0 1 0 2.5 0a1.25 1.25 0 1 0 -2.5 0M191.55 731.66a1.25 1.25 0 1 0 2.5 0a1.25 1.25 0 1 0 -2.5 0M288.25 676.69a1.25 1.25 0 1 0 2.5 0a1.25 1.25 0 1 0 -2.5 0M267.15 688.54a1.25 1.25 0 1 0 2.5 0a1.25 1.25 0 1 0 -2.5 0M303.1 680.65a1.25 1.25 0 1 0 2.5 0a1.25 1.25 0 1 0 -2.5 0M172.22 746.13a1.25 1.25 0 1 0 2.5 0a1.25 1.25 0 1 0 -2.5 0M239.02 685.95a1.25 1.25 0 1 0 2.5 0a1.25 1.25 0 1 0 -2.5 0M205.86 696.54a1.25 1.25 0 1 0 2.5 0a1.25 1.25 0 1 0 -2.5 0M184.85 732.65a1.25 1.25 0 1 0 2.5 0a1.25 1.25 0 1 0 -2.5 0M100.43 768.7a1.25 1.25 0 1 0 2.5 0a1.25 1.25 0 1 0 -2.5 0M148.39 714.2a1.25 1.25 0 1 0 2.5 0a1.25 1.25 0 1 0 -2.5 0M150.8 768.92a1.25 1.25 0 1 0 2.5 0a1.25 1.25 0 1 0 -2.5 0M148.21 739.74a1.25 1.25 0 1 0 2.5 0a1.25 1.25 0 1 0 -2.5 0M114.06 705.78a1.25 1.25 0 1 0 2.5 0a1.25 1.25 0 1 0 -2.5 0M215.6 669.07a1.25 1.25 0 1 0 2.5 0a1.25 1.25 0 1 0 -2.5 0M279.38 683.79a1.25 1.25 0 1 0 2.5 0a1.25 1.25 0 1 0 -2.5 0M63.84 711.49a1.25 1.25 0 1 0 2.5 0a1.25 1.25 0 1 0 -2.5 0M89.77 682.33a1.25 1.25 0 1 0 2.5 0a1.25 1.25 0 1 0 -2.5 0M244.52 708.05a1.25 1.25 0 1 0 2.5 0a1.25 1.25 0 1 0 -2.5 0M111.1 732.87a1.25 1.25 0 1 0 2.5 0a1.25 1.25 0 1 0 -2.5 0M186.64 700.59a1.25 1.25 0 1 0 2.5 0a1.25 1.25 0 1 0 -2.5 0M313.91 660.88a1.25 1.25 0 1 0 2.5 0a1.25 1.25 0 1 0 -2.5 0M111.7 755.36a1.25 1.25 0 1 0 2.5 0a1.25 1.25 0 1 0 -2.5 0M112.76 756.14a1.25 1.25 0 1 0 2.5 0a1.25 1.25 0 1 0 -2.5 0M135.92 690.63a1.25 1.25 0 1 0 2.5 0a1.25 1.25 0 1 0 -2.5 0M181.71 674.47a1.25 1.25 0 1 0 2.5 0a1.25 1.25 0 1 0 -2.5 0M182.13 728.89a1.25 1.25 0 1 0 2.5 0a1.25 1.25 0 1 0 -2.5 0M135.58 717.77a1.25 1.25 0 1 0 2.5 0a1.25 1.25 0 1 0 -2.5 0M146.84 688.73a1.25 1.25 0 1 0 2.5 0a1.25 1.25 0 1 0 -2.5 0M278.95 683.33a1.25 1.25 0 1 0 2.5 0a1.25 1.25 0 1 0 -2.5 0M321.9 698.43a1.25 1.25 0 1 0 2.5 0a1.25 1.25 0 1 0 -2.5 0M280.27 677.14a1.25 1.25 0 1 0 2.5 0a1.25 1.25 0 1 0 -2.5 0M152.71 688.35a1.25 1.25 0 1 0 2.5 0a1.25 1.25 0 1 0 -2.5 0M151.37 754.55a1.25 1.25 0 1 0 2.5 0a1.25 1.25 0 1 0 -2.5 0M211.79 669.73a1.25 1.25 0 1 0 2.5 0a1.25 1.25 0 1 0 -2.5 0M142.78 728.22a1.25 1.25 0 1 0 2.5 0a1.25 1.25 0 1 0 -2.5 0M166.69 707.82a1.25 1.25 0 1 0 2.5 0a1.25 1.25 0 1 0 -2.5 0M201.2 748.34a1.25 1.25 0 1 0 2.5 0a1.25 1.25 0 1 0 -2.5 0M151.87 676.44a1.25 1.25 0 1 0 2.5 0a1.25 1.25 0 1 0 -2.5 0M141.33 704.84a1.25 1.25 0 1 0 2.5 0a1.25 1.25 0 1 0 -2.5 0M75.87 669.41a1.25 1.25 0 1 0 2.5 0a1.25 1.25 0 1 0 -2.5 0M291.69 701.55a1.25 1.25 0 1 0 2.5 0a1.25 1.25 0 1 0 -2.5 0M78.95 718.55a1.25 1.25 0 1 0 2.5 0a1.25 1.25 0 1 0 -2.5 0M166.78 671.09a1.25 1.25 0 1 0 2.5 0a1.25 1.25 0 1 0 -2.5 0M113.44 685.51a1.25 1.25 0 1 0 2.5 0a1.25 1.25 0 1 0 -2.5 0M174.62 693.69a1.25 1.25 0 1 0 2.5 0a1.25 1.25 0 1 0 -2.5 0M312.65 672.88a1.25 1.25 0 1 0 2.5 0a1.25 1.25 0 1 0 -2.5 0M160.25 696.27a1.25 1.25 0 1 0 2.5 0a1.25 1.25 0 1 0 -2.5 0M164.62 684.46a1.25 1.25 0 1 0 2.5 0a1.25 1.25 0 1 0 -2.5 0M166.24 660.59a1.25 1.25 0 1 0 2.5 0a1.25 1.25 0 1 0 -2.5 0M274.36 706.91a1.25 1.25 0 1 0 2.5 0a1.25 1.25 0 1 0 -2.5 0M274.97 696.03a1.25 1.25 0 1 0 2.5 0a1.25 1.25 0 1 0 -2.5 0M182.62 728.4a1.25 1.25 0 1 0 2.5 0a1.25 1.25 0 1 0 -2.5 0M243.79 685.07a1.25 1.25 0 1 0 2.5 0a1.25 1.25 0 1 0 -2.5 0M127.18 709.25a1.25 1.25 0 1 0 2.5 0a1.25 1.25 0 1 0 -2.5 0M146.9 728.83a1.25 1.25 0 1 0 2.5 0a1.25 1.25 0 1 0 -2.5 0M139.37 722.03a1.25 1.25 0 1 0 2.5 0a1.25 1.25 0 1 0 -2.5 0M298.86 668.64a1.25 1.25 0 1 0 2.5 0a1.25 1.25 0 1 0 -2.5 0M289.88 663.12a1.25 1.25 0 1 0 2.5 0a1.25 1.25 0 1 0 -2.5 0M183.33 734.78a1.25 1.25 0 1 0 2.5 0a1.25 1.25 0 1 0 -2.5 0M81.04 730.31a1.25 1.25 0 1 0 2.5 0a1.25 1.25 0 1 0 -2.5 0M72.32 721.02a1.25 1.25 0 1 0 2.5 0a1.25 1.25 0 1 0 -2.5 0M213.43 640.04a1.25 1.25 0 1 0 2.5 0a1.25 1.25 0 1 0 -2.5 0M110.15 741.3a1.25 1.25 0 1 0 2.5 0a1.25 1.25 0 1 0 -2.5 0M77.06 713.47a1.25 1.25 0 1 0 2.5 0a1.25 1.25 0 1 0 -2.5 0M298.16 678.06a1.25 1.25 0 1 0 2.5 0a1.25 1.25 0 1 0 -2.5 0M160.92 728.31a1.25 1.25 0 1 0 2.5 0a1.25 1.25 0 1 0 -2.5 0M259.03 669.39a1.25 1.25 0 1 0 2.5 0a1.25 1.25 0 1 0 -2.5 0M112.2 724.01a1.25 1.25 0 1 0 2.5 0a1.25 1.25 0 1 0 -2.5 0M117.62 736.09a1.25 1.25 0 1 0 2.5 0a1.25 1.25 0 1 0 -2.5 0M142.68 717.47a1.25 1.25 0 1 0 2.5 0a1.25 1.25 0 1 0 -2.5 0M165.97 706.91a1.25 1.25 0 1 0 2.5 0a1.25 1.25 0 1 0 -2.5 0M163.21 734.48a1.25 1.25 0 1 0 2.5 0a1.25 1.25 0 1 0 -2.5 0M207.77 724.17a1.25 1.25 0 1 0 2.5 0a1.25 1.25 0 1 0 -2.5 0M243.62 667.67a1.25 1.25 0 1 0 2.5 0a1.25 1.25 0 1 0 -2.5 0M157.84 734.29a1.25 1.25 0 1 0 2.5 0a1.25 1.25 0 1 0 -2.5 0M250.63 670.14a1.25 1.25 0 1 0 2.5 0a1.25 1.25 0 1 0 -2.5 0M160.71 721.32a1.25 1.25 0 1 0 2.5 0a1.25 1.25 0 1 0 -2.5 0M163.55 741.23a1.25 1.25 0 1 0 2.5 0a1.25 1.25 0 1 0 -2.5 0M179.25 598.6a1.25 1.25 0 1 0 2.5 0a1.25 1.25 0 1 0 -2.5 0M107.75 628a1.25 1.25 0 1 0 2.5 0a1.25 1.25 0 1 0 -2.5 0M150.15 623.6a1.25 1.25 0 1 0 2.5 0a1.25 1.25 0 1 0 -2.5 0M147.75 629.5a1.25 1.25 0 1 0 2.5 0a1.25 1.25 0 1 0 -2.5 0M171.75 637a1.25 1.25 0 1 0 2.5 0a1.25 1.25 0 1 0 -2.5 0" stroke="#3449ab" stroke-width="1.05" fill="none"/>
<line x1="25.5" y1="773.3" x2="28.5" y2="773.3" stroke="#1a1a1a" stroke-width="1" />
<text transform="translate(22.6 770.9) rotate(-90)" font-size="9.2" text-anchor="middle" fill="#111">0.0</text>
<line x1="25.5" y1="740.6" x2="28.5" y2="740.6" stroke="#1a1a1a" stroke-width="1" />
<text transform="translate(22.6 738.2) rotate(-90)" font-size="9.2" text-anchor="middle" fill="#111">0.1</text>
<line x1="25.5" y1="707.9" x2="28.5" y2="707.9" stroke="#1a1a1a" stroke-width="1" />
<text transform="translate(22.6 705.5) rotate(-90)" font-size="7" text-anchor="middle" fill="#111">0.2</text>
<line x1="25.5" y1="675.2" x2="28.5" y2="675.2" stroke="#1a1a1a" stroke-width="1" />
<text transform="translate(22.6 672.8) rotate(-90)" font-size="9.2" text-anchor="middle" fill="#111">0.3</text>
<line x1="25.5" y1="642.5" x2="28.5" y2="642.5" stroke="#1a1a1a" stroke-width="1" />
<text transform="translate(22.6 640.1) rotate(-90)" font-size="9.2" text-anchor="middle" fill="#111">0.4</text>
<line x1="25.5" y1="609.8" x2="28.5" y2="609.8" stroke="#1a1a1a" stroke-width="1" />
<text transform="translate(22.6 607.4) rotate(-90)" font-size="9.2" text-anchor="middle" fill="#111">0.5</text>
<line x1="38.6" y1="779.4" x2="38.6" y2="782.2" stroke="#1a1a1a" stroke-width="1" />
<text x="41.3" y="790.6" font-size="9.2" text-anchor="middle" fill="#111">0.0</text>
<line x1="104.02" y1="779.4" x2="104.02" y2="782.2" stroke="#1a1a1a" stroke-width="1" />
<text x="106.72" y="790.6" font-size="9.2" text-anchor="middle" fill="#111">0.2</text>
<line x1="169.44" y1="779.4" x2="169.44" y2="782.2" stroke="#1a1a1a" stroke-width="1" />
<text x="172.14" y="790.6" font-size="9.2" text-anchor="middle" fill="#111">0.4</text>
<line x1="234.86" y1="779.4" x2="234.86" y2="782.2" stroke="#1a1a1a" stroke-width="1" />
<text x="237.56" y="790.6" font-size="9.2" text-anchor="middle" fill="#111">0.6</text>
<line x1="300.28" y1="779.4" x2="300.28" y2="782.2" stroke="#1a1a1a" stroke-width="1" />
<text x="302.98" y="790.6" font-size="9.2" text-anchor="middle" fill="#111">0.8</text>
<text x="188" y="802" font-size="9.25" text-anchor="middle" fill="#111" textLength="146.2" lengthAdjust="spacingAndGlyphs">Module Membership in blue module</text>
<text transform="translate(12.2 666.4) rotate(-90)" font-size="8.64" text-anchor="middle" fill="#111" textLength="108" lengthAdjust="spacingAndGlyphs">Gene significance for Tumor</text>
<text x="536" y="573.8" font-size="11.5" text-anchor="middle" fill="#111" font-weight="bold" textLength="235.3" lengthAdjust="spacingAndGlyphs" xml:space="preserve">Module membership vs. gene  significance</text>
<text x="549.6" y="586" font-size="10.45" text-anchor="middle" fill="#111" font-weight="bold" textLength="99.4" lengthAdjust="spacingAndGlyphs">cor=0.53, p=4.1e−54</text>
<rect x="371.6" y="591.3" width="306" height="187.9" fill="none" stroke="#1a1a1a" stroke-width="1.1" />
<line x1="372.1" y1="655.8" x2="677.1" y2="655.8" stroke="#ee8276" stroke-width="1.8" />
<line x1="586.5" y1="591.8" x2="586.5" y2="778.7" stroke="#e8432c" stroke-width="1" />
<path d="M475.59 745.85a1.3 1.3 0 1 0 2.6 0a1.3 1.3 0 1 0 -2.6 0M583.44 670.07a1.3 1.3 0 1 0 2.6 0a1.3 1.3 0 1 0 -2.6 0M532.66 686.55a1.3 1.3 0 1 0 2.6 0a1.3 1.3 0 1 0 -2.6 0M505.43 698.05a1.3 1.3 0 1 0 2.6 0a1.3 1.3 0 1 0 -2.6 0M471.84 729.4a1.3 1.3 0 1 0 2.6 0a1.3 1.3 0 1 0 -2.6 0M541.94 660.7a1.3 1.3 0 1 0 2.6 0a1.3 1.3 0 1 0 -2.6 0M543.17 694.96a1.3 1.3 0 1 0 2.6 0a1.3 1.3 0 1 0 -2.6 0M643.33 677.68a1.3 1.3 0 1 0 2.6 0a1.3 1.3 0 1 0 -2.6 0M535.75 677.41a1.3 1.3 0 1 0 2.6 0a1.3 1.3 0 1 0 -2.6 0M457.6 728.68a1.3 1.3 0 1 0 2.6 0a1.3 1.3 0 1 0 -2.6 0M445.55 744.91a1.3 1.3 0 1 0 2.6 0a1.3 1.3 0 1 0 -2.6 0M508.05 645.87a1.3 1.3 0 1 0 2.6 0a1.3 1.3 0 1 0 -2.6 0M528.44 704.81a1.3 1.3 0 1 0 2.6 0a1.3 1.3 0 1 0 -2.6 0M562.59 696.83a1.3 1.3 0 1 0 2.6 0a1.3 1.3 0 1 0 -2.6 0M418.66 717.9a1.3 1.3 0 1 0 2.6 0a1.3 1.3 0 1 0 -2.6 0M496.9 683.5a1.3 1.3 0 1 0 2.6 0a1.3 1.3 0 1 0 -2.6 0M579.11 723.58a1.3 1.3 0 1 0 2.6 0a1.3 1.3 0 1 0 -2.6 0M498.65 713.11a1.3 1.3 0 1 0 2.6 0a1.3 1.3 0 1 0 -2.6 0M484.86 688.33a1.3 1.3 0 1 0 2.6 0a1.3 1.3 0 1 0 -2.6 0M630.99 661.59a1.3 1.3 0 1 0 2.6 0a1.3 1.3 0 1 0 -2.6 0M494.67 672.99a1.3 1.3 0 1 0 2.6 0a1.3 1.3 0 1 0 -2.6 0M524.63 680.69a1.3 1.3 0 1 0 2.6 0a1.3 1.3 0 1 0 -2.6 0M501.89 699.32a1.3 1.3 0 1 0 2.6 0a1.3 1.3 0 1 0 -2.6 0M557.67 658.22a1.3 1.3 0 1 0 2.6 0a1.3 1.3 0 1 0 -2.6 0M460.24 735.49a1.3 1.3 0 1 0 2.6 0a1.3 1.3 0 1 0 -2.6 0M446.39 744.48a1.3 1.3 0 1 0 2.6 0a1.3 1.3 0 1 0 -2.6 0M621.72 678.42a1.3 1.3 0 1 0 2.6 0a1.3 1.3 0 1 0 -2.6 0M460.38 711.98a1.3 1.3 0 1 0 2.6 0a1.3 1.3 0 1 0 -2.6 0M475.92 702.02a1.3 1.3 0 1 0 2.6 0a1.3 1.3 0 1 0 -2.6 0M481.83 728.25a1.3 1.3 0 1 0 2.6 0a1.3 1.3 0 1 0 -2.6 0M499.5 686.56a1.3 1.3 0 1 0 2.6 0a1.3 1.3 0 1 0 -2.6 0M565.83 689.9a1.3 1.3 0 1 0 2.6 0a1.3 1.3 0 1 0 -2.6 0M526.99 732.11a1.3 1.3 0 1 0 2.6 0a1.3 1.3 0 1 0 -2.6 0M533.21 702.97a1.3 1.3 0 1 0 2.6 0a1.3 1.3 0 1 0 -2.6 0M477.24 687.03a1.3 1.3 0 1 0 2.6 0a1.3 1.3 0 1 0 -2.6 0M493.61 693.19a1.3 1.3 0 1 0 2.6 0a1.3 1.3 0 1 0 -2.6 0M566.39 662.1a1.3 1.3 0 1 0 2.6 0a1.3 1.3 0 1 0 -2.6 0M478.54 699.71a1.3 1.3 0 1 0 2.6 0a1.3 1.3 0 1 0 -2.6 0M512.39 656.56a1.3 1.3 0 1 0 2.6 0a1.3 1.3 0 1 0 -2.6 0M508.13 710.9a1.3 1.3 0 1 0 2.6 0a1.3 1.3 0 1 0 -2.6 0M559.18 662.66a1.3 1.3 0 1 0 2.6 0a1.3 1.3 0 1 0 -2.6 0M475.49 693.48a1.3 1.3 0 1 0 2.6 0a1.3 1.3 0 1 0 -2.6 0M509.62 726.19a1.3 1.3 0 1 0 2.6 0a1.3 1.3 0 1 0 -2.6 0M511.39 720.39a1.3 1.3 0 1 0 2.6 0a1.3 1.3 0 1 0 -2.6 0M580.75 694.37a1.3 1.3 0 1 0 2.6 0a1.3 1.3 0 1 0 -2.6 0M601.16 682.65a1.3 1.3 0 1 0 2.6 0a1.3 1.3 0 1 0 -2.6 0M608.87 679.46a1.3 1.3 0 1 0 2.6 0a1.3 1.3 0 1 0 -2.6 0M565.25 672.39a1.3 1.3 0 1 0 2.6 0a1.3 1.3 0 1 0 -2.6 0M494.7 693.99a1.3 1.3 0 1 0 2.6 0a1.3 1.3 0 1 0 -2.6 0M464.8 737.81a1.3 1.3 0 1 0 2.6 0a1.3 1.3 0 1 0 -2.6 0M516.96 705.32a1.3 1.3 0 1 0 2.6 0a1.3 1.3 0 1 0 -2.6 0M531.45 686.48a1.3 1.3 0 1 0 2.6 0a1.3 1.3 0 1 0 -2.6 0M478.34 689.59a1.3 1.3 0 1 0 2.6 0a1.3 1.3 0 1 0 -2.6 0M476.8 708.21a1.3 1.3 0 1 0 2.6 0a1.3 1.3 0 1 0 -2.6 0M561.5 654.45a1.3 1.3 0 1 0 2.6 0a1.3 1.3 0 1 0 -2.6 0M503.65 684.35a1.3 1.3 0 1 0 2.6 0a1.3 1.3 0 1 0 -2.6 0M547.25 684.12a1.3 1.3 0 1 0 2.6 0a1.3 1.3 0 1 0 -2.6 0M488.25 681.02a1.3 1.3 0 1 0 2.6 0a1.3 1.3 0 1 0 -2.6 0M502.47 683.44a1.3 1.3 0 1 0 2.6 0a1.3 1.3 0 1 0 -2.6 0M575.95 642.62a1.3 1.3 0 1 0 2.6 0a1.3 1.3 0 1 0 -2.6 0M454.04 711.99a1.3 1.3 0 1 0 2.6 0a1.3 1.3 0 1 0 -2.6 0M480.29 684.07a1.3 1.3 0 1 0 2.6 0a1.3 1.3 0 1 0 -2.6 0M596.84 659.86a1.3 1.3 0 1 0 2.6 0a1.3 1.3 0 1 0 -2.6 0M548.95 662.72a1.3 1.3 0 1 0 2.6 0a1.3 1.3 0 1 0 -2.6 0M446.96 728.96a1.3 1.3 0 1 0 2.6 0a1.3 1.3 0 1 0 -2.6 0M567.43 708.91a1.3 1.3 0 1 0 2.6 0a1.3 1.3 0 1 0 -2.6 0M536.54 689.78a1.3 1.3 0 1 0 2.6 0a1.3 1.3 0 1 0 -2.6 0M602.48 648.32a1.3 1.3 0 1 0 2.6 0a1.3 1.3 0 1 0 -2.6 0M430.24 712.89a1.3 1.3 0 1 0 2.6 0a1.3 1.3 0 1 0 -2.6 0M424.55 731.78a1.3 1.3 0 1 0 2.6 0a1.3 1.3 0 1 0 -2.6 0M425.98 695.64a1.3 1.3 0 1 0 2.6 0a1.3 1.3 0 1 0 -2.6 0M579.03 673.32a1.3 1.3 0 1 0 2.6 0a1.3 1.3 0 1 0 -2.6 0M436.76 752.68a1.3 1.3 0 1 0 2.6 0a1.3 1.3 0 1 0 -2.6 0M459.48 733.68a1.3 1.3 0 1 0 2.6 0a1.3 1.3 0 1 0 -2.6 0M471.4 738.29a1.3 1.3 0 1 0 2.6 0a1.3 1.3 0 1 0 -2.6 0M638.32 671.57a1.3 1.3 0 1 0 2.6 0a1.3 1.3 0 1 0 -2.6 0M655.87 649.09a1.3 1.3 0 1 0 2.6 0a1.3 1.3 0 1 0 -2.6 0M623.7 642.9a1.3 1.3 0 1 0 2.6 0a1.3 1.3 0 1 0 -2.6 0M640.85 679.26a1.3 1.3 0 1 0 2.6 0a1.3 1.3 0 1 0 -2.6 0M503.21 688.49a1.3 1.3 0 1 0 2.6 0a1.3 1.3 0 1 0 -2.6 0M532.16 671.66a1.3 1.3 0 1 0 2.6 0a1.3 1.3 0 1 0 -2.6 0M478.62 720.02a1.3 1.3 0 1 0 2.6 0a1.3 1.3 0 1 0 -2.6 0M465.8 743.67a1.3 1.3 0 1 0 2.6 0a1.3 1.3 0 1 0 -2.6 0M481.86 701.19a1.3 1.3 0 1 0 2.6 0a1.3 1.3 0 1 0 -2.6 0M478.11 697.85a1.3 1.3 0 1 0 2.6 0a1.3 1.3 0 1 0 -2.6 0M592.31 655.4a1.3 1.3 0 1 0 2.6 0a1.3 1.3 0 1 0 -2.6 0M530.11 702.6a1.3 1.3 0 1 0 2.6 0a1.3 1.3 0 1 0 -2.6 0M567.42 663.44a1.3 1.3 0 1 0 2.6 0a1.3 1.3 0 1 0 -2.6 0M640.65 666.25a1.3 1.3 0 1 0 2.6 0a1.3 1.3 0 1 0 -2.6 0M501.08 717.04a1.3 1.3 0 1 0 2.6 0a1.3 1.3 0 1 0 -2.6 0M391.88 712.62a1.3 1.3 0 1 0 2.6 0a1.3 1.3 0 1 0 -2.6 0M562.47 687.43a1.3 1.3 0 1 0 2.6 0a1.3 1.3 0 1 0 -2.6 0M563.39 693.02a1.3 1.3 0 1 0 2.6 0a1.3 1.3 0 1 0 -2.6 0M602.2 688.23a1.3 1.3 0 1 0 2.6 0a1.3 1.3 0 1 0 -2.6 0M512.84 698.05a1.3 1.3 0 1 0 2.6 0a1.3 1.3 0 1 0 -2.6 0M550.94 685.47a1.3 1.3 0 1 0 2.6 0a1.3 1.3 0 1 0 -2.6 0M472.92 723.03a1.3 1.3 0 1 0 2.6 0a1.3 1.3 0 1 0 -2.6 0M477 754.55a1.3 1.3 0 1 0 2.6 0a1.3 1.3 0 1 0 -2.6 0M578.75 668.78a1.3 1.3 0 1 0 2.6 0a1.3 1.3 0 1 0 -2.6 0M503.38 688.51a1.3 1.3 0 1 0 2.6 0a1.3 1.3 0 1 0 -2.6 0M625.52 673.75a1.3 1.3 0 1 0 2.6 0a1.3 1.3 0 1 0 -2.6 0M412.7 705.4a1.3 1.3 0 1 0 2.6 0a1.3 1.3 0 1 0 -2.6 0M566.51 698.64a1.3 1.3 0 1 0 2.6 0a1.3 1.3 0 1 0 -2.6 0M473.46 714.95a1.3 1.3 0 1 0 2.6 0a1.3 1.3 0 1 0 -2.6 0M433.41 742.17a1.3 1.3 0 1 0 2.6 0a1.3 1.3 0 1 0 -2.6 0M472.18 726.27a1.3 1.3 0 1 0 2.6 0a1.3 1.3 0 1 0 -2.6 0M521.85 698.81a1.3 1.3 0 1 0 2.6 0a1.3 1.3 0 1 0 -2.6 0M646.17 686.73a1.3 1.3 0 1 0 2.6 0a1.3 1.3 0 1 0 -2.6 0M612.12 678.56a1.3 1.3 0 1 0 2.6 0a1.3 1.3 0 1 0 -2.6 0M642.13 675.19a1.3 1.3 0 1 0 2.6 0a1.3 1.3 0 1 0 -2.6 0M585.77 687.14a1.3 1.3 0 1 0 2.6 0a1.3 1.3 0 1 0 -2.6 0M504.99 696.78a1.3 1.3 0 1 0 2.6 0a1.3 1.3 0 1 0 -2.6 0M491.59 717.29a1.3 1.3 0 1 0 2.6 0a1.3 1.3 0 1 0 -2.6 0M545.41 667.24a1.3 1.3 0 1 0 2.6 0a1.3 1.3 0 1 0 -2.6 0M496.53 709.36a1.3 1.3 0 1 0 2.6 0a1.3 1.3 0 1 0 -2.6 0M512.63 681.17a1.3 1.3 0 1 0 2.6 0a1.3 1.3 0 1 0 -2.6 0M526.76 686.51a1.3 1.3 0 1 0 2.6 0a1.3 1.3 0 1 0 -2.6 0M463.48 667.84a1.3 1.3 0 1 0 2.6 0a1.3 1.3 0 1 0 -2.6 0M507.91 646.42a1.3 1.3 0 1 0 2.6 0a1.3 1.3 0 1 0 -2.6 0M447.94 739.78a1.3 1.3 0 1 0 2.6 0a1.3 1.3 0 1 0 -2.6 0M465.3 708.08a1.3 1.3 0 1 0 2.6 0a1.3 1.3 0 1 0 -2.6 0M477.44 708.68a1.3 1.3 0 1 0 2.6 0a1.3 1.3 0 1 0 -2.6 0M489.15 747.79a1.3 1.3 0 1 0 2.6 0a1.3 1.3 0 1 0 -2.6 0M417.97 669.5a1.3 1.3 0 1 0 2.6 0a1.3 1.3 0 1 0 -2.6 0M500.05 727.35a1.3 1.3 0 1 0 2.6 0a1.3 1.3 0 1 0 -2.6 0M597.36 670.65a1.3 1.3 0 1 0 2.6 0a1.3 1.3 0 1 0 -2.6 0M510.14 696.31a1.3 1.3 0 1 0 2.6 0a1.3 1.3 0 1 0 -2.6 0M477.71 722.35a1.3 1.3 0 1 0 2.6 0a1.3 1.3 0 1 0 -2.6 0M647.84 659.26a1.3 1.3 0 1 0 2.6 0a1.3 1.3 0 1 0 -2.6 0M432.08 726.99a1.3 1.3 0 1 0 2.6 0a1.3 1.3 0 1 0 -2.6 0M443.14 735.08a1.3 1.3 0 1 0 2.6 0a1.3 1.3 0 1 0 -2.6 0M462.88 723.95a1.3 1.3 0 1 0 2.6 0a1.3 1.3 0 1 0 -2.6 0M573.87 690.52a1.3 1.3 0 1 0 2.6 0a1.3 1.3 0 1 0 -2.6 0M524.46 669.03a1.3 1.3 0 1 0 2.6 0a1.3 1.3 0 1 0 -2.6 0M452.62 769.31a1.3 1.3 0 1 0 2.6 0a1.3 1.3 0 1 0 -2.6 0M487.81 664.6a1.3 1.3 0 1 0 2.6 0a1.3 1.3 0 1 0 -2.6 0M484.62 724.57a1.3 1.3 0 1 0 2.6 0a1.3 1.3 0 1 0 -2.6 0M502.27 718.99a1.3 1.3 0 1 0 2.6 0a1.3 1.3 0 1 0 -2.6 0M627.33 682.01a1.3 1.3 0 1 0 2.6 0a1.3 1.3 0 1 0 -2.6 0M555.97 666.38a1.3 1.3 0 1 0 2.6 0a1.3 1.3 0 1 0 -2.6 0M595.94 684.55a1.3 1.3 0 1 0 2.6 0a1.3 1.3 0 1 0 -2.6 0M505.53 709.92a1.3 1.3 0 1 0 2.6 0a1.3 1.3 0 1 0 -2.6 0M477.09 747.49a1.3 1.3 0 1 0 2.6 0a1.3 1.3 0 1 0 -2.6 0M535.98 662a1.3 1.3 0 1 0 2.6 0a1.3 1.3 0 1 0 -2.6 0M511.59 716.38a1.3 1.3 0 1 0 2.6 0a1.3 1.3 0 1 0 -2.6 0M506.71 709.15a1.3 1.3 0 1 0 2.6 0a1.3 1.3 0 1 0 -2.6 0M625.69 653.38a1.3 1.3 0 1 0 2.6 0a1.3 1.3 0 1 0 -2.6 0M543.08 696.57a1.3 1.3 0 1 0 2.6 0a1.3 1.3 0 1 0 -2.6 0M464.97 717.5a1.3 1.3 0 1 0 2.6 0a1.3 1.3 0 1 0 -2.6 0M516 714.09a1.3 1.3 0 1 0 2.6 0a1.3 1.3 0 1 0 -2.6 0M470.77 732.83a1.3 1.3 0 1 0 2.6 0a1.3 1.3 0 1 0 -2.6 0M599.45 701.99a1.3 1.3 0 1 0 2.6 0a1.3 1.3 0 1 0 -2.6 0M522.67 743.33a1.3 1.3 0 1 0 2.6 0a1.3 1.3 0 1 0 -2.6 0M486.11 731.86a1.3 1.3 0 1 0 2.6 0a1.3 1.3 0 1 0 -2.6 0M550.89 684.66a1.3 1.3 0 1 0 2.6 0a1.3 1.3 0 1 0 -2.6 0M413.83 749.29a1.3 1.3 0 1 0 2.6 0a1.3 1.3 0 1 0 -2.6 0M423.2 728.53a1.3 1.3 0 1 0 2.6 0a1.3 1.3 0 1 0 -2.6 0M469.88 676.17a1.3 1.3 0 1 0 2.6 0a1.3 1.3 0 1 0 -2.6 0M453.57 726.66a1.3 1.3 0 1 0 2.6 0a1.3 1.3 0 1 0 -2.6 0M510.6 711.16a1.3 1.3 0 1 0 2.6 0a1.3 1.3 0 1 0 -2.6 0M561.84 686.64a1.3 1.3 0 1 0 2.6 0a1.3 1.3 0 1 0 -2.6 0M601.4 668.9a1.3 1.3 0 1 0 2.6 0a1.3 1.3 0 1 0 -2.6 0M503.13 698a1.3 1.3 0 1 0 2.6 0a1.3 1.3 0 1 0 -2.6 0M536.44 681a1.3 1.3 0 1 0 2.6 0a1.3 1.3 0 1 0 -2.6 0M582.63 689.82a1.3 1.3 0 1 0 2.6 0a1.3 1.3 0 1 0 -2.6 0M497.85 731.4a1.3 1.3 0 1 0 2.6 0a1.3 1.3 0 1 0 -2.6 0M468.1 731.55a1.3 1.3 0 1 0 2.6 0a1.3 1.3 0 1 0 -2.6 0M572.52 674.58a1.3 1.3 0 1 0 2.6 0a1.3 1.3 0 1 0 -2.6 0M555.6 745.28a1.3 1.3 0 1 0 2.6 0a1.3 1.3 0 1 0 -2.6 0M533.81 671.43a1.3 1.3 0 1 0 2.6 0a1.3 1.3 0 1 0 -2.6 0M521.51 674.67a1.3 1.3 0 1 0 2.6 0a1.3 1.3 0 1 0 -2.6 0M425.99 718.46a1.3 1.3 0 1 0 2.6 0a1.3 1.3 0 1 0 -2.6 0M485.77 700.1a1.3 1.3 0 1 0 2.6 0a1.3 1.3 0 1 0 -2.6 0M605.92 662.66a1.3 1.3 0 1 0 2.6 0a1.3 1.3 0 1 0 -2.6 0M562.48 644.28a1.3 1.3 0 1 0 2.6 0a1.3 1.3 0 1 0 -2.6 0M475.57 753.22a1.3 1.3 0 1 0 2.6 0a1.3 1.3 0 1 0 -2.6 0M507.71 711.99a1.3 1.3 0 1 0 2.6 0a1.3 1.3 0 1 0 -2.6 0M477.3 713.27a1.3 1.3 0 1 0 2.6 0a1.3 1.3 0 1 0 -2.6 0M485.32 731.34a1.3 1.3 0 1 0 2.6 0a1.3 1.3 0 1 0 -2.6 0M509.83 652.63a1.3 1.3 0 1 0 2.6 0a1.3 1.3 0 1 0 -2.6 0M545.43 663.59a1.3 1.3 0 1 0 2.6 0a1.3 1.3 0 1 0 -2.6 0M507.65 690.65a1.3 1.3 0 1 0 2.6 0a1.3 1.3 0 1 0 -2.6 0M505.98 670.52a1.3 1.3 0 1 0 2.6 0a1.3 1.3 0 1 0 -2.6 0M452.52 704.44a1.3 1.3 0 1 0 2.6 0a1.3 1.3 0 1 0 -2.6 0M525.18 656.86a1.3 1.3 0 1 0 2.6 0a1.3 1.3 0 1 0 -2.6 0M453.86 721.38a1.3 1.3 0 1 0 2.6 0a1.3 1.3 0 1 0 -2.6 0M546.69 683.11a1.3 1.3 0 1 0 2.6 0a1.3 1.3 0 1 0 -2.6 0M458.75 709.09a1.3 1.3 0 1 0 2.6 0a1.3 1.3 0 1 0 -2.6 0M558.3 672.87a1.3 1.3 0 1 0 2.6 0a1.3 1.3 0 1 0 -2.6 0M542.97 702.66a1.3 1.3 0 1 0 2.6 0a1.3 1.3 0 1 0 -2.6 0M426.5 719.51a1.3 1.3 0 1 0 2.6 0a1.3 1.3 0 1 0 -2.6 0M546.69 663.7a1.3 1.3 0 1 0 2.6 0a1.3 1.3 0 1 0 -2.6 0M520.6 669.21a1.3 1.3 0 1 0 2.6 0a1.3 1.3 0 1 0 -2.6 0M400.94 702.05a1.3 1.3 0 1 0 2.6 0a1.3 1.3 0 1 0 -2.6 0M489.32 690.83a1.3 1.3 0 1 0 2.6 0a1.3 1.3 0 1 0 -2.6 0M466.84 689.1a1.3 1.3 0 1 0 2.6 0a1.3 1.3 0 1 0 -2.6 0M571.71 700.85a1.3 1.3 0 1 0 2.6 0a1.3 1.3 0 1 0 -2.6 0M496.37 715.36a1.3 1.3 0 1 0 2.6 0a1.3 1.3 0 1 0 -2.6 0M549.19 666.15a1.3 1.3 0 1 0 2.6 0a1.3 1.3 0 1 0 -2.6 0M482.51 715.96a1.3 1.3 0 1 0 2.6 0a1.3 1.3 0 1 0 -2.6 0M502.62 619.89a1.3 1.3 0 1 0 2.6 0a1.3 1.3 0 1 0 -2.6 0M509.37 722.7a1.3 1.3 0 1 0 2.6 0a1.3 1.3 0 1 0 -2.6 0M454.87 684.33a1.3 1.3 0 1 0 2.6 0a1.3 1.3 0 1 0 -2.6 0M485.28 717.11a1.3 1.3 0 1 0 2.6 0a1.3 1.3 0 1 0 -2.6 0M553.31 633.44a1.3 1.3 0 1 0 2.6 0a1.3 1.3 0 1 0 -2.6 0M468.06 732.82a1.3 1.3 0 1 0 2.6 0a1.3 1.3 0 1 0 -2.6 0M467.69 687.73a1.3 1.3 0 1 0 2.6 0a1.3 1.3 0 1 0 -2.6 0M624.41 630.5a1.3 1.3 0 1 0 2.6 0a1.3 1.3 0 1 0 -2.6 0M508.26 695.43a1.3 1.3 0 1 0 2.6 0a1.3 1.3 0 1 0 -2.6 0M525.39 694.4a1.3 1.3 0 1 0 2.6 0a1.3 1.3 0 1 0 -2.6 0M536.4 727.24a1.3 1.3 0 1 0 2.6 0a1.3 1.3 0 1 0 -2.6 0M571.66 654.67a1.3 1.3 0 1 0 2.6 0a1.3 1.3 0 1 0 -2.6 0M488.88 695.84a1.3 1.3 0 1 0 2.6 0a1.3 1.3 0 1 0 -2.6 0M570.09 673.67a1.3 1.3 0 1 0 2.6 0a1.3 1.3 0 1 0 -2.6 0M483.51 741.78a1.3 1.3 0 1 0 2.6 0a1.3 1.3 0 1 0 -2.6 0M516.32 674.58a1.3 1.3 0 1 0 2.6 0a1.3 1.3 0 1 0 -2.6 0M517.77 727.91a1.3 1.3 0 1 0 2.6 0a1.3 1.3 0 1 0 -2.6 0M576.43 678.63a1.3 1.3 0 1 0 2.6 0a1.3 1.3 0 1 0 -2.6 0M490.19 695.69a1.3 1.3 0 1 0 2.6 0a1.3 1.3 0 1 0 -2.6 0M533.21 722.22a1.3 1.3 0 1 0 2.6 0a1.3 1.3 0 1 0 -2.6 0M521.42 700.14a1.3 1.3 0 1 0 2.6 0a1.3 1.3 0 1 0 -2.6 0M601.68 682.47a1.3 1.3 0 1 0 2.6 0a1.3 1.3 0 1 0 -2.6 0M509.41 674.9a1.3 1.3 0 1 0 2.6 0a1.3 1.3 0 1 0 -2.6 0M453.75 703.92a1.3 1.3 0 1 0 2.6 0a1.3 1.3 0 1 0 -2.6 0M546.27 704.51a1.3 1.3 0 1 0 2.6 0a1.3 1.3 0 1 0 -2.6 0M603.99 656.33a1.3 1.3 0 1 0 2.6 0a1.3 1.3 0 1 0 -2.6 0M459.19 718.81a1.3 1.3 0 1 0 2.6 0a1.3 1.3 0 1 0 -2.6 0M509.44 690.31a1.3 1.3 0 1 0 2.6 0a1.3 1.3 0 1 0 -2.6 0M466.92 703.69a1.3 1.3 0 1 0 2.6 0a1.3 1.3 0 1 0 -2.6 0M504.99 679.22a1.3 1.3 0 1 0 2.6 0a1.3 1.3 0 1 0 -2.6 0M455.68 692.41a1.3 1.3 0 1 0 2.6 0a1.3 1.3 0 1 0 -2.6 0M537.81 673.97a1.3 1.3 0 1 0 2.6 0a1.3 1.3 0 1 0 -2.6 0M466.31 677.27a1.3 1.3 0 1 0 2.6 0a1.3 1.3 0 1 0 -2.6 0M501.15 703.69a1.3 1.3 0 1 0 2.6 0a1.3 1.3 0 1 0 -2.6 0M480.49 715.51a1.3 1.3 0 1 0 2.6 0a1.3 1.3 0 1 0 -2.6 0M531.32 661.09a1.3 1.3 0 1 0 2.6 0a1.3 1.3 0 1 0 -2.6 0M536.14 717.05a1.3 1.3 0 1 0 2.6 0a1.3 1.3 0 1 0 -2.6 0M489.99 686.38a1.3 1.3 0 1 0 2.6 0a1.3 1.3 0 1 0 -2.6 0M598.73 683.59a1.3 1.3 0 1 0 2.6 0a1.3 1.3 0 1 0 -2.6 0M485.19 675.35a1.3 1.3 0 1 0 2.6 0a1.3 1.3 0 1 0 -2.6 0M558.11 729.18a1.3 1.3 0 1 0 2.6 0a1.3 1.3 0 1 0 -2.6 0M466.18 709.67a1.3 1.3 0 1 0 2.6 0a1.3 1.3 0 1 0 -2.6 0M556.56 661.39a1.3 1.3 0 1 0 2.6 0a1.3 1.3 0 1 0 -2.6 0M512 712.6a1.3 1.3 0 1 0 2.6 0a1.3 1.3 0 1 0 -2.6 0M524.52 662.13a1.3 1.3 0 1 0 2.6 0a1.3 1.3 0 1 0 -2.6 0M436.39 694.89a1.3 1.3 0 1 0 2.6 0a1.3 1.3 0 1 0 -2.6 0M530.47 721.52a1.3 1.3 0 1 0 2.6 0a1.3 1.3 0 1 0 -2.6 0M483.88 738.14a1.3 1.3 0 1 0 2.6 0a1.3 1.3 0 1 0 -2.6 0M549.6 678.82a1.3 1.3 0 1 0 2.6 0a1.3 1.3 0 1 0 -2.6 0M538.09 702.78a1.3 1.3 0 1 0 2.6 0a1.3 1.3 0 1 0 -2.6 0M507.1 708.41a1.3 1.3 0 1 0 2.6 0a1.3 1.3 0 1 0 -2.6 0M620 680.85a1.3 1.3 0 1 0 2.6 0a1.3 1.3 0 1 0 -2.6 0M471.15 737.55a1.3 1.3 0 1 0 2.6 0a1.3 1.3 0 1 0 -2.6 0M483.54 707.89a1.3 1.3 0 1 0 2.6 0a1.3 1.3 0 1 0 -2.6 0M441.39 735.92a1.3 1.3 0 1 0 2.6 0a1.3 1.3 0 1 0 -2.6 0M595.43 641.86a1.3 1.3 0 1 0 2.6 0a1.3 1.3 0 1 0 -2.6 0M475.22 699.24a1.3 1.3 0 1 0 2.6 0a1.3 1.3 0 1 0 -2.6 0M506.3 683.3a1.3 1.3 0 1 0 2.6 0a1.3 1.3 0 1 0 -2.6 0M446.97 713.2a1.3 1.3 0 1 0 2.6 0a1.3 1.3 0 1 0 -2.6 0M624.34 656.31a1.3 1.3 0 1 0 2.6 0a1.3 1.3 0 1 0 -2.6 0M592.8 655.65a1.3 1.3 0 1 0 2.6 0a1.3 1.3 0 1 0 -2.6 0M530.14 647.75a1.3 1.3 0 1 0 2.6 0a1.3 1.3 0 1 0 -2.6 0M508.47 710.52a1.3 1.3 0 1 0 2.6 0a1.3 1.3 0 1 0 -2.6 0M579.64 676.7a1.3 1.3 0 1 0 2.6 0a1.3 1.3 0 1 0 -2.6 0M486.4 713.76a1.3 1.3 0 1 0 2.6 0a1.3 1.3 0 1 0 -2.6 0M407.32 726.26a1.3 1.3 0 1 0 2.6 0a1.3 1.3 0 1 0 -2.6 0M560.24 696.1a1.3 1.3 0 1 0 2.6 0a1.3 1.3 0 1 0 -2.6 0M464.88 724.48a1.3 1.3 0 1 0 2.6 0a1.3 1.3 0 1 0 -2.6 0M445.49 736.49a1.3 1.3 0 1 0 2.6 0a1.3 1.3 0 1 0 -2.6 0M526.63 678.69a1.3 1.3 0 1 0 2.6 0a1.3 1.3 0 1 0 -2.6 0M425.39 732.56a1.3 1.3 0 1 0 2.6 0a1.3 1.3 0 1 0 -2.6 0M441.11 717.92a1.3 1.3 0 1 0 2.6 0a1.3 1.3 0 1 0 -2.6 0M511.43 733.28a1.3 1.3 0 1 0 2.6 0a1.3 1.3 0 1 0 -2.6 0M543.16 684.28a1.3 1.3 0 1 0 2.6 0a1.3 1.3 0 1 0 -2.6 0M563.65 687.18a1.3 1.3 0 1 0 2.6 0a1.3 1.3 0 1 0 -2.6 0M621.7 639.48a1.3 1.3 0 1 0 2.6 0a1.3 1.3 0 1 0 -2.6 0M530.06 660.8a1.3 1.3 0 1 0 2.6 0a1.3 1.3 0 1 0 -2.6 0M485.23 719.3a1.3 1.3 0 1 0 2.6 0a1.3 1.3 0 1 0 -2.6 0M515.64 693.72a1.3 1.3 0 1 0 2.6 0a1.3 1.3 0 1 0 -2.6 0M471.87 713.09a1.3 1.3 0 1 0 2.6 0a1.3 1.3 0 1 0 -2.6 0M450.64 703.87a1.3 1.3 0 1 0 2.6 0a1.3 1.3 0 1 0 -2.6 0M582.94 673a1.3 1.3 0 1 0 2.6 0a1.3 1.3 0 1 0 -2.6 0M577.82 682.28a1.3 1.3 0 1 0 2.6 0a1.3 1.3 0 1 0 -2.6 0M498.49 708.21a1.3 1.3 0 1 0 2.6 0a1.3 1.3 0 1 0 -2.6 0M514.9 696.75a1.3 1.3 0 1 0 2.6 0a1.3 1.3 0 1 0 -2.6 0M472.51 704.94a1.3 1.3 0 1 0 2.6 0a1.3 1.3 0 1 0 -2.6 0M500.68 668.96a1.3 1.3 0 1 0 2.6 0a1.3 1.3 0 1 0 -2.6 0M559.46 690.6a1.3 1.3 0 1 0 2.6 0a1.3 1.3 0 1 0 -2.6 0M422.7 706.24a1.3 1.3 0 1 0 2.6 0a1.3 1.3 0 1 0 -2.6 0M605.2 654.59a1.3 1.3 0 1 0 2.6 0a1.3 1.3 0 1 0 -2.6 0M624.1 684.74a1.3 1.3 0 1 0 2.6 0a1.3 1.3 0 1 0 -2.6 0M569.53 689.66a1.3 1.3 0 1 0 2.6 0a1.3 1.3 0 1 0 -2.6 0M592.06 649.17a1.3 1.3 0 1 0 2.6 0a1.3 1.3 0 1 0 -2.6 0M520.15 672.44a1.3 1.3 0 1 0 2.6 0a1.3 1.3 0 1 0 -2.6 0M459.14 751.32a1.3 1.3 0 1 0 2.6 0a1.3 1.3 0 1 0 -2.6 0M586.68 690.3a1.3 1.3 0 1 0 2.6 0a1.3 1.3 0 1 0 -2.6 0M508.03 699.86a1.3 1.3 0 1 0 2.6 0a1.3 1.3 0 1 0 -2.6 0M461.24 701.84a1.3 1.3 0 1 0 2.6 0a1.3 1.3 0 1 0 -2.6 0M532.24 706.56a1.3 1.3 0 1 0 2.6 0a1.3 1.3 0 1 0 -2.6 0M435.82 707.28a1.3 1.3 0 1 0 2.6 0a1.3 1.3 0 1 0 -2.6 0M569.7 710.29a1.3 1.3 0 1 0 2.6 0a1.3 1.3 0 1 0 -2.6 0M486.44 713.42a1.3 1.3 0 1 0 2.6 0a1.3 1.3 0 1 0 -2.6 0M522.67 723.45a1.3 1.3 0 1 0 2.6 0a1.3 1.3 0 1 0 -2.6 0M468.72 679.01a1.3 1.3 0 1 0 2.6 0a1.3 1.3 0 1 0 -2.6 0M480.49 677.52a1.3 1.3 0 1 0 2.6 0a1.3 1.3 0 1 0 -2.6 0M552.45 670.08a1.3 1.3 0 1 0 2.6 0a1.3 1.3 0 1 0 -2.6 0M599.36 678.89a1.3 1.3 0 1 0 2.6 0a1.3 1.3 0 1 0 -2.6 0M483.5 709.29a1.3 1.3 0 1 0 2.6 0a1.3 1.3 0 1 0 -2.6 0M563.64 692.88a1.3 1.3 0 1 0 2.6 0a1.3 1.3 0 1 0 -2.6 0M521.16 690.54a1.3 1.3 0 1 0 2.6 0a1.3 1.3 0 1 0 -2.6 0M520.05 652.7a1.3 1.3 0 1 0 2.6 0a1.3 1.3 0 1 0 -2.6 0M570.22 680.49a1.3 1.3 0 1 0 2.6 0a1.3 1.3 0 1 0 -2.6 0M489.7 711.87a1.3 1.3 0 1 0 2.6 0a1.3 1.3 0 1 0 -2.6 0M597.94 703.37a1.3 1.3 0 1 0 2.6 0a1.3 1.3 0 1 0 -2.6 0M518.08 708.54a1.3 1.3 0 1 0 2.6 0a1.3 1.3 0 1 0 -2.6 0M610.85 675.04a1.3 1.3 0 1 0 2.6 0a1.3 1.3 0 1 0 -2.6 0M496.1 713.27a1.3 1.3 0 1 0 2.6 0a1.3 1.3 0 1 0 -2.6 0M555.95 682.09a1.3 1.3 0 1 0 2.6 0a1.3 1.3 0 1 0 -2.6 0M476.98 680.53a1.3 1.3 0 1 0 2.6 0a1.3 1.3 0 1 0 -2.6 0M423.53 656.1a1.3 1.3 0 1 0 2.6 0a1.3 1.3 0 1 0 -2.6 0M476.3 734.53a1.3 1.3 0 1 0 2.6 0a1.3 1.3 0 1 0 -2.6 0M495.93 701.34a1.3 1.3 0 1 0 2.6 0a1.3 1.3 0 1 0 -2.6 0M510.11 682.81a1.3 1.3 0 1 0 2.6 0a1.3 1.3 0 1 0 -2.6 0M427.82 754.3a1.3 1.3 0 1 0 2.6 0a1.3 1.3 0 1 0 -2.6 0M428.68 743.57a1.3 1.3 0 1 0 2.6 0a1.3 1.3 0 1 0 -2.6 0M554.61 712.99a1.3 1.3 0 1 0 2.6 0a1.3 1.3 0 1 0 -2.6 0M467.24 733.56a1.3 1.3 0 1 0 2.6 0a1.3 1.3 0 1 0 -2.6 0M481.05 721.68a1.3 1.3 0 1 0 2.6 0a1.3 1.3 0 1 0 -2.6 0M512.44 705.65a1.3 1.3 0 1 0 2.6 0a1.3 1.3 0 1 0 -2.6 0M601.4 668.21a1.3 1.3 0 1 0 2.6 0a1.3 1.3 0 1 0 -2.6 0M441.39 714.87a1.3 1.3 0 1 0 2.6 0a1.3 1.3 0 1 0 -2.6 0M495.44 718.64a1.3 1.3 0 1 0 2.6 0a1.3 1.3 0 1 0 -2.6 0M593.72 659.95a1.3 1.3 0 1 0 2.6 0a1.3 1.3 0 1 0 -2.6 0M539.11 661.34a1.3 1.3 0 1 0 2.6 0a1.3 1.3 0 1 0 -2.6 0M524.29 697.28a1.3 1.3 0 1 0 2.6 0a1.3 1.3 0 1 0 -2.6 0M448.59 691.4a1.3 1.3 0 1 0 2.6 0a1.3 1.3 0 1 0 -2.6 0M618.75 700.02a1.3 1.3 0 1 0 2.6 0a1.3 1.3 0 1 0 -2.6 0M498.03 680.23a1.3 1.3 0 1 0 2.6 0a1.3 1.3 0 1 0 -2.6 0M559.41 719.07a1.3 1.3 0 1 0 2.6 0a1.3 1.3 0 1 0 -2.6 0M500.1 677.27a1.3 1.3 0 1 0 2.6 0a1.3 1.3 0 1 0 -2.6 0M515.43 709.38a1.3 1.3 0 1 0 2.6 0a1.3 1.3 0 1 0 -2.6 0M495.84 706.77a1.3 1.3 0 1 0 2.6 0a1.3 1.3 0 1 0 -2.6 0M645.04 626.23a1.3 1.3 0 1 0 2.6 0a1.3 1.3 0 1 0 -2.6 0M574.19 689.49a1.3 1.3 0 1 0 2.6 0a1.3 1.3 0 1 0 -2.6 0M496.51 715.92a1.3 1.3 0 1 0 2.6 0a1.3 1.3 0 1 0 -2.6 0M482.71 666.08a1.3 1.3 0 1 0 2.6 0a1.3 1.3 0 1 0 -2.6 0M501.47 680.37a1.3 1.3 0 1 0 2.6 0a1.3 1.3 0 1 0 -2.6 0M464.84 718.99a1.3 1.3 0 1 0 2.6 0a1.3 1.3 0 1 0 -2.6 0M487.68 687.16a1.3 1.3 0 1 0 2.6 0a1.3 1.3 0 1 0 -2.6 0M485.9 720.27a1.3 1.3 0 1 0 2.6 0a1.3 1.3 0 1 0 -2.6 0M453.74 720.96a1.3 1.3 0 1 0 2.6 0a1.3 1.3 0 1 0 -2.6 0M520.05 703.78a1.3 1.3 0 1 0 2.6 0a1.3 1.3 0 1 0 -2.6 0M488.71 697.02a1.3 1.3 0 1 0 2.6 0a1.3 1.3 0 1 0 -2.6 0M470.33 743.86a1.3 1.3 0 1 0 2.6 0a1.3 1.3 0 1 0 -2.6 0M533.42 652.09a1.3 1.3 0 1 0 2.6 0a1.3 1.3 0 1 0 -2.6 0M615.5 660.06a1.3 1.3 0 1 0 2.6 0a1.3 1.3 0 1 0 -2.6 0M635.08 701.58a1.3 1.3 0 1 0 2.6 0a1.3 1.3 0 1 0 -2.6 0M397.55 756.89a1.3 1.3 0 1 0 2.6 0a1.3 1.3 0 1 0 -2.6 0M604.54 662.09a1.3 1.3 0 1 0 2.6 0a1.3 1.3 0 1 0 -2.6 0M504.58 679.01a1.3 1.3 0 1 0 2.6 0a1.3 1.3 0 1 0 -2.6 0M418.49 720.41a1.3 1.3 0 1 0 2.6 0a1.3 1.3 0 1 0 -2.6 0M499.53 745.8a1.3 1.3 0 1 0 2.6 0a1.3 1.3 0 1 0 -2.6 0M525.79 694.29a1.3 1.3 0 1 0 2.6 0a1.3 1.3 0 1 0 -2.6 0M522.03 700.81a1.3 1.3 0 1 0 2.6 0a1.3 1.3 0 1 0 -2.6 0M577.85 683.84a1.3 1.3 0 1 0 2.6 0a1.3 1.3 0 1 0 -2.6 0M436.87 739.22a1.3 1.3 0 1 0 2.6 0a1.3 1.3 0 1 0 -2.6 0M490.9 714.65a1.3 1.3 0 1 0 2.6 0a1.3 1.3 0 1 0 -2.6 0M634.39 662.1a1.3 1.3 0 1 0 2.6 0a1.3 1.3 0 1 0 -2.6 0M497.8 697.22a1.3 1.3 0 1 0 2.6 0a1.3 1.3 0 1 0 -2.6 0M495.82 677.05a1.3 1.3 0 1 0 2.6 0a1.3 1.3 0 1 0 -2.6 0M565.38 663.93a1.3 1.3 0 1 0 2.6 0a1.3 1.3 0 1 0 -2.6 0M548.88 691.89a1.3 1.3 0 1 0 2.6 0a1.3 1.3 0 1 0 -2.6 0M576.15 670.02a1.3 1.3 0 1 0 2.6 0a1.3 1.3 0 1 0 -2.6 0M542.02 686.59a1.3 1.3 0 1 0 2.6 0a1.3 1.3 0 1 0 -2.6 0M545.55 675.26a1.3 1.3 0 1 0 2.6 0a1.3 1.3 0 1 0 -2.6 0M455.03 712.18a1.3 1.3 0 1 0 2.6 0a1.3 1.3 0 1 0 -2.6 0M559.35 727.91a1.3 1.3 0 1 0 2.6 0a1.3 1.3 0 1 0 -2.6 0M582.21 655.64a1.3 1.3 0 1 0 2.6 0a1.3 1.3 0 1 0 -2.6 0M524.56 704.5a1.3 1.3 0 1 0 2.6 0a1.3 1.3 0 1 0 -2.6 0M475.86 714.57a1.3 1.3 0 1 0 2.6 0a1.3 1.3 0 1 0 -2.6 0M657.73 642.32a1.3 1.3 0 1 0 2.6 0a1.3 1.3 0 1 0 -2.6 0M470.3 704.98a1.3 1.3 0 1 0 2.6 0a1.3 1.3 0 1 0 -2.6 0M583.61 643.91a1.3 1.3 0 1 0 2.6 0a1.3 1.3 0 1 0 -2.6 0M478.97 717.9a1.3 1.3 0 1 0 2.6 0a1.3 1.3 0 1 0 -2.6 0M570.38 664.8a1.3 1.3 0 1 0 2.6 0a1.3 1.3 0 1 0 -2.6 0M492.46 704.99a1.3 1.3 0 1 0 2.6 0a1.3 1.3 0 1 0 -2.6 0M604.77 668.89a1.3 1.3 0 1 0 2.6 0a1.3 1.3 0 1 0 -2.6 0M626.05 708.23a1.3 1.3 0 1 0 2.6 0a1.3 1.3 0 1 0 -2.6 0M657.86 684.46a1.3 1.3 0 1 0 2.6 0a1.3 1.3 0 1 0 -2.6 0M569.45 699.92a1.3 1.3 0 1 0 2.6 0a1.3 1.3 0 1 0 -2.6 0M443.72 725.78a1.3 1.3 0 1 0 2.6 0a1.3 1.3 0 1 0 -2.6 0M484.65 698.94a1.3 1.3 0 1 0 2.6 0a1.3 1.3 0 1 0 -2.6 0M472.66 731.98a1.3 1.3 0 1 0 2.6 0a1.3 1.3 0 1 0 -2.6 0M472.13 711.32a1.3 1.3 0 1 0 2.6 0a1.3 1.3 0 1 0 -2.6 0M481.06 739.78a1.3 1.3 0 1 0 2.6 0a1.3 1.3 0 1 0 -2.6 0M460.71 745.37a1.3 1.3 0 1 0 2.6 0a1.3 1.3 0 1 0 -2.6 0M514.51 686.89a1.3 1.3 0 1 0 2.6 0a1.3 1.3 0 1 0 -2.6 0M594.88 701.36a1.3 1.3 0 1 0 2.6 0a1.3 1.3 0 1 0 -2.6 0M547.4 657.74a1.3 1.3 0 1 0 2.6 0a1.3 1.3 0 1 0 -2.6 0M559.29 676.67a1.3 1.3 0 1 0 2.6 0a1.3 1.3 0 1 0 -2.6 0M458.5 679.87a1.3 1.3 0 1 0 2.6 0a1.3 1.3 0 1 0 -2.6 0M610.73 648.36a1.3 1.3 0 1 0 2.6 0a1.3 1.3 0 1 0 -2.6 0M499.22 728.56a1.3 1.3 0 1 0 2.6 0a1.3 1.3 0 1 0 -2.6 0M531.92 717.62a1.3 1.3 0 1 0 2.6 0a1.3 1.3 0 1 0 -2.6 0M490.44 687.67a1.3 1.3 0 1 0 2.6 0a1.3 1.3 0 1 0 -2.6 0M539.42 718.89a1.3 1.3 0 1 0 2.6 0a1.3 1.3 0 1 0 -2.6 0M470.15 709.04a1.3 1.3 0 1 0 2.6 0a1.3 1.3 0 1 0 -2.6 0M490.77 670.73a1.3 1.3 0 1 0 2.6 0a1.3 1.3 0 1 0 -2.6 0M511.96 684.67a1.3 1.3 0 1 0 2.6 0a1.3 1.3 0 1 0 -2.6 0M490.91 672.66a1.3 1.3 0 1 0 2.6 0a1.3 1.3 0 1 0 -2.6 0M523.51 672.8a1.3 1.3 0 1 0 2.6 0a1.3 1.3 0 1 0 -2.6 0M616.23 645.4a1.3 1.3 0 1 0 2.6 0a1.3 1.3 0 1 0 -2.6 0M616.35 638.26a1.3 1.3 0 1 0 2.6 0a1.3 1.3 0 1 0 -2.6 0M565.45 657.56a1.3 1.3 0 1 0 2.6 0a1.3 1.3 0 1 0 -2.6 0M429.88 763.81a1.3 1.3 0 1 0 2.6 0a1.3 1.3 0 1 0 -2.6 0M533.52 698.15a1.3 1.3 0 1 0 2.6 0a1.3 1.3 0 1 0 -2.6 0M541.9 704.87a1.3 1.3 0 1 0 2.6 0a1.3 1.3 0 1 0 -2.6 0M479.12 730.84a1.3 1.3 0 1 0 2.6 0a1.3 1.3 0 1 0 -2.6 0M495.2 694.71a1.3 1.3 0 1 0 2.6 0a1.3 1.3 0 1 0 -2.6 0M435.53 737.49a1.3 1.3 0 1 0 2.6 0a1.3 1.3 0 1 0 -2.6 0M483.05 723.26a1.3 1.3 0 1 0 2.6 0a1.3 1.3 0 1 0 -2.6 0M523.86 683.46a1.3 1.3 0 1 0 2.6 0a1.3 1.3 0 1 0 -2.6 0M514.36 717.16a1.3 1.3 0 1 0 2.6 0a1.3 1.3 0 1 0 -2.6 0M568.78 692.57a1.3 1.3 0 1 0 2.6 0a1.3 1.3 0 1 0 -2.6 0M622.67 685.07a1.3 1.3 0 1 0 2.6 0a1.3 1.3 0 1 0 -2.6 0M487.99 723.18a1.3 1.3 0 1 0 2.6 0a1.3 1.3 0 1 0 -2.6 0M490.18 696.91a1.3 1.3 0 1 0 2.6 0a1.3 1.3 0 1 0 -2.6 0M553.39 665.73a1.3 1.3 0 1 0 2.6 0a1.3 1.3 0 1 0 -2.6 0M508.97 731.77a1.3 1.3 0 1 0 2.6 0a1.3 1.3 0 1 0 -2.6 0M605.67 675.06a1.3 1.3 0 1 0 2.6 0a1.3 1.3 0 1 0 -2.6 0M485.89 725.29a1.3 1.3 0 1 0 2.6 0a1.3 1.3 0 1 0 -2.6 0M473.92 703.54a1.3 1.3 0 1 0 2.6 0a1.3 1.3 0 1 0 -2.6 0M469.39 690.65a1.3 1.3 0 1 0 2.6 0a1.3 1.3 0 1 0 -2.6 0M536.28 647.54a1.3 1.3 0 1 0 2.6 0a1.3 1.3 0 1 0 -2.6 0M600.9 696.04a1.3 1.3 0 1 0 2.6 0a1.3 1.3 0 1 0 -2.6 0M529.44 691.97a1.3 1.3 0 1 0 2.6 0a1.3 1.3 0 1 0 -2.6 0M424.73 724.53a1.3 1.3 0 1 0 2.6 0a1.3 1.3 0 1 0 -2.6 0M567.67 694.25a1.3 1.3 0 1 0 2.6 0a1.3 1.3 0 1 0 -2.6 0M501.93 711.6a1.3 1.3 0 1 0 2.6 0a1.3 1.3 0 1 0 -2.6 0M458.63 691.09a1.3 1.3 0 1 0 2.6 0a1.3 1.3 0 1 0 -2.6 0M629.86 693.69a1.3 1.3 0 1 0 2.6 0a1.3 1.3 0 1 0 -2.6 0M512.21 671.13a1.3 1.3 0 1 0 2.6 0a1.3 1.3 0 1 0 -2.6 0M618.57 683.75a1.3 1.3 0 1 0 2.6 0a1.3 1.3 0 1 0 -2.6 0M448.47 694.43a1.3 1.3 0 1 0 2.6 0a1.3 1.3 0 1 0 -2.6 0M584.4 639.65a1.3 1.3 0 1 0 2.6 0a1.3 1.3 0 1 0 -2.6 0M520.56 707.41a1.3 1.3 0 1 0 2.6 0a1.3 1.3 0 1 0 -2.6 0M447.48 690.55a1.3 1.3 0 1 0 2.6 0a1.3 1.3 0 1 0 -2.6 0M469.17 698.68a1.3 1.3 0 1 0 2.6 0a1.3 1.3 0 1 0 -2.6 0M537.72 736.56a1.3 1.3 0 1 0 2.6 0a1.3 1.3 0 1 0 -2.6 0M564.69 651.79a1.3 1.3 0 1 0 2.6 0a1.3 1.3 0 1 0 -2.6 0M527.22 701.11a1.3 1.3 0 1 0 2.6 0a1.3 1.3 0 1 0 -2.6 0M487.79 668.82a1.3 1.3 0 1 0 2.6 0a1.3 1.3 0 1 0 -2.6 0M474.12 698.78a1.3 1.3 0 1 0 2.6 0a1.3 1.3 0 1 0 -2.6 0M402.95 723.44a1.3 1.3 0 1 0 2.6 0a1.3 1.3 0 1 0 -2.6 0M413.06 732.39a1.3 1.3 0 1 0 2.6 0a1.3 1.3 0 1 0 -2.6 0M608.24 664.88a1.3 1.3 0 1 0 2.6 0a1.3 1.3 0 1 0 -2.6 0M545.63 679.19a1.3 1.3 0 1 0 2.6 0a1.3 1.3 0 1 0 -2.6 0M463.5 722.47a1.3 1.3 0 1 0 2.6 0a1.3 1.3 0 1 0 -2.6 0M540.84 735.34a1.3 1.3 0 1 0 2.6 0a1.3 1.3 0 1 0 -2.6 0M516.45 697.73a1.3 1.3 0 1 0 2.6 0a1.3 1.3 0 1 0 -2.6 0M599.82 680.79a1.3 1.3 0 1 0 2.6 0a1.3 1.3 0 1 0 -2.6 0M457.61 718.02a1.3 1.3 0 1 0 2.6 0a1.3 1.3 0 1 0 -2.6 0M563.88 680.55a1.3 1.3 0 1 0 2.6 0a1.3 1.3 0 1 0 -2.6 0M536.11 669.24a1.3 1.3 0 1 0 2.6 0a1.3 1.3 0 1 0 -2.6 0M466.64 700.96a1.3 1.3 0 1 0 2.6 0a1.3 1.3 0 1 0 -2.6 0M511.72 722a1.3 1.3 0 1 0 2.6 0a1.3 1.3 0 1 0 -2.6 0M514.66 681.2a1.3 1.3 0 1 0 2.6 0a1.3 1.3 0 1 0 -2.6 0M548.01 688.37a1.3 1.3 0 1 0 2.6 0a1.3 1.3 0 1 0 -2.6 0M586.65 714.42a1.3 1.3 0 1 0 2.6 0a1.3 1.3 0 1 0 -2.6 0M543.77 692.35a1.3 1.3 0 1 0 2.6 0a1.3 1.3 0 1 0 -2.6 0M463.02 668.41a1.3 1.3 0 1 0 2.6 0a1.3 1.3 0 1 0 -2.6 0M460.86 685.84a1.3 1.3 0 1 0 2.6 0a1.3 1.3 0 1 0 -2.6 0M633.53 640.97a1.3 1.3 0 1 0 2.6 0a1.3 1.3 0 1 0 -2.6 0M602.32 672.23a1.3 1.3 0 1 0 2.6 0a1.3 1.3 0 1 0 -2.6 0M508.44 680.68a1.3 1.3 0 1 0 2.6 0a1.3 1.3 0 1 0 -2.6 0M592.85 654.67a1.3 1.3 0 1 0 2.6 0a1.3 1.3 0 1 0 -2.6 0M518.11 675.79a1.3 1.3 0 1 0 2.6 0a1.3 1.3 0 1 0 -2.6 0M492.5 695.68a1.3 1.3 0 1 0 2.6 0a1.3 1.3 0 1 0 -2.6 0M480.9 648.22a1.3 1.3 0 1 0 2.6 0a1.3 1.3 0 1 0 -2.6 0M471.56 706.15a1.3 1.3 0 1 0 2.6 0a1.3 1.3 0 1 0 -2.6 0M533.47 712.42a1.3 1.3 0 1 0 2.6 0a1.3 1.3 0 1 0 -2.6 0M454.39 718.8a1.3 1.3 0 1 0 2.6 0a1.3 1.3 0 1 0 -2.6 0M463.41 719.99a1.3 1.3 0 1 0 2.6 0a1.3 1.3 0 1 0 -2.6 0M492.64 646.48a1.3 1.3 0 1 0 2.6 0a1.3 1.3 0 1 0 -2.6 0M448.15 733.3a1.3 1.3 0 1 0 2.6 0a1.3 1.3 0 1 0 -2.6 0M516.28 705.79a1.3 1.3 0 1 0 2.6 0a1.3 1.3 0 1 0 -2.6 0M617.32 681.36a1.3 1.3 0 1 0 2.6 0a1.3 1.3 0 1 0 -2.6 0M576.07 676.47a1.3 1.3 0 1 0 2.6 0a1.3 1.3 0 1 0 -2.6 0M453.28 715.96a1.3 1.3 0 1 0 2.6 0a1.3 1.3 0 1 0 -2.6 0M479.22 714.59a1.3 1.3 0 1 0 2.6 0a1.3 1.3 0 1 0 -2.6 0M484.05 675.5a1.3 1.3 0 1 0 2.6 0a1.3 1.3 0 1 0 -2.6 0M464.73 703.16a1.3 1.3 0 1 0 2.6 0a1.3 1.3 0 1 0 -2.6 0M477.65 723.17a1.3 1.3 0 1 0 2.6 0a1.3 1.3 0 1 0 -2.6 0M466.46 739.85a1.3 1.3 0 1 0 2.6 0a1.3 1.3 0 1 0 -2.6 0M490.93 727.31a1.3 1.3 0 1 0 2.6 0a1.3 1.3 0 1 0 -2.6 0M552.29 676.62a1.3 1.3 0 1 0 2.6 0a1.3 1.3 0 1 0 -2.6 0M528 723.12a1.3 1.3 0 1 0 2.6 0a1.3 1.3 0 1 0 -2.6 0M568.09 660a1.3 1.3 0 1 0 2.6 0a1.3 1.3 0 1 0 -2.6 0M503.36 685.43a1.3 1.3 0 1 0 2.6 0a1.3 1.3 0 1 0 -2.6 0M521.72 693.26a1.3 1.3 0 1 0 2.6 0a1.3 1.3 0 1 0 -2.6 0M454.91 744.34a1.3 1.3 0 1 0 2.6 0a1.3 1.3 0 1 0 -2.6 0M618.57 660.37a1.3 1.3 0 1 0 2.6 0a1.3 1.3 0 1 0 -2.6 0M469.8 700.23a1.3 1.3 0 1 0 2.6 0a1.3 1.3 0 1 0 -2.6 0M595.84 657.97a1.3 1.3 0 1 0 2.6 0a1.3 1.3 0 1 0 -2.6 0M521.83 721.34a1.3 1.3 0 1 0 2.6 0a1.3 1.3 0 1 0 -2.6 0M565.29 684.89a1.3 1.3 0 1 0 2.6 0a1.3 1.3 0 1 0 -2.6 0M631.62 661.02a1.3 1.3 0 1 0 2.6 0a1.3 1.3 0 1 0 -2.6 0M629.88 641.55a1.3 1.3 0 1 0 2.6 0a1.3 1.3 0 1 0 -2.6 0M499.95 689.12a1.3 1.3 0 1 0 2.6 0a1.3 1.3 0 1 0 -2.6 0M614.37 686.36a1.3 1.3 0 1 0 2.6 0a1.3 1.3 0 1 0 -2.6 0M424.34 760.86a1.3 1.3 0 1 0 2.6 0a1.3 1.3 0 1 0 -2.6 0M475.94 708.33a1.3 1.3 0 1 0 2.6 0a1.3 1.3 0 1 0 -2.6 0M505.32 692.95a1.3 1.3 0 1 0 2.6 0a1.3 1.3 0 1 0 -2.6 0M476.4 686.88a1.3 1.3 0 1 0 2.6 0a1.3 1.3 0 1 0 -2.6 0M486.06 683.44a1.3 1.3 0 1 0 2.6 0a1.3 1.3 0 1 0 -2.6 0M426.5 751.23a1.3 1.3 0 1 0 2.6 0a1.3 1.3 0 1 0 -2.6 0M578.55 661.19a1.3 1.3 0 1 0 2.6 0a1.3 1.3 0 1 0 -2.6 0M484.56 662.95a1.3 1.3 0 1 0 2.6 0a1.3 1.3 0 1 0 -2.6 0M527.02 656.65a1.3 1.3 0 1 0 2.6 0a1.3 1.3 0 1 0 -2.6 0M645.23 652.03a1.3 1.3 0 1 0 2.6 0a1.3 1.3 0 1 0 -2.6 0M493.15 722.12a1.3 1.3 0 1 0 2.6 0a1.3 1.3 0 1 0 -2.6 0M620.86 657.98a1.3 1.3 0 1 0 2.6 0a1.3 1.3 0 1 0 -2.6 0M553.83 699.85a1.3 1.3 0 1 0 2.6 0a1.3 1.3 0 1 0 -2.6 0M505.74 655.76a1.3 1.3 0 1 0 2.6 0a1.3 1.3 0 1 0 -2.6 0M526.2 668.09a1.3 1.3 0 1 0 2.6 0a1.3 1.3 0 1 0 -2.6 0M465.65 735.24a1.3 1.3 0 1 0 2.6 0a1.3 1.3 0 1 0 -2.6 0M435.6 753.07a1.3 1.3 0 1 0 2.6 0a1.3 1.3 0 1 0 -2.6 0M560.13 677.49a1.3 1.3 0 1 0 2.6 0a1.3 1.3 0 1 0 -2.6 0M634.98 663.88a1.3 1.3 0 1 0 2.6 0a1.3 1.3 0 1 0 -2.6 0M589.79 677.05a1.3 1.3 0 1 0 2.6 0a1.3 1.3 0 1 0 -2.6 0M610.81 700.92a1.3 1.3 0 1 0 2.6 0a1.3 1.3 0 1 0 -2.6 0M566.38 690.22a1.3 1.3 0 1 0 2.6 0a1.3 1.3 0 1 0 -2.6 0M615.51 670.63a1.3 1.3 0 1 0 2.6 0a1.3 1.3 0 1 0 -2.6 0M613.11 697.13a1.3 1.3 0 1 0 2.6 0a1.3 1.3 0 1 0 -2.6 0M486.16 654.97a1.3 1.3 0 1 0 2.6 0a1.3 1.3 0 1 0 -2.6 0M529.43 730.68a1.3 1.3 0 1 0 2.6 0a1.3 1.3 0 1 0 -2.6 0M578.67 676.99a1.3 1.3 0 1 0 2.6 0a1.3 1.3 0 1 0 -2.6 0M418.18 741.25a1.3 1.3 0 1 0 2.6 0a1.3 1.3 0 1 0 -2.6 0M549.1 691.69a1.3 1.3 0 1 0 2.6 0a1.3 1.3 0 1 0 -2.6 0M551.11 708.39a1.3 1.3 0 1 0 2.6 0a1.3 1.3 0 1 0 -2.6 0M582.41 662.7a1.3 1.3 0 1 0 2.6 0a1.3 1.3 0 1 0 -2.6 0M553.47 676.7a1.3 1.3 0 1 0 2.6 0a1.3 1.3 0 1 0 -2.6 0M543 687.74a1.3 1.3 0 1 0 2.6 0a1.3 1.3 0 1 0 -2.6 0M478.66 708.75a1.3 1.3 0 1 0 2.6 0a1.3 1.3 0 1 0 -2.6 0M566.45 692.33a1.3 1.3 0 1 0 2.6 0a1.3 1.3 0 1 0 -2.6 0M568.65 657.12a1.3 1.3 0 1 0 2.6 0a1.3 1.3 0 1 0 -2.6 0M528.66 694.46a1.3 1.3 0 1 0 2.6 0a1.3 1.3 0 1 0 -2.6 0M505.59 679.67a1.3 1.3 0 1 0 2.6 0a1.3 1.3 0 1 0 -2.6 0M577.4 706.79a1.3 1.3 0 1 0 2.6 0a1.3 1.3 0 1 0 -2.6 0M554.74 709.09a1.3 1.3 0 1 0 2.6 0a1.3 1.3 0 1 0 -2.6 0M504.03 684.77a1.3 1.3 0 1 0 2.6 0a1.3 1.3 0 1 0 -2.6 0M581.37 672.69a1.3 1.3 0 1 0 2.6 0a1.3 1.3 0 1 0 -2.6 0M631.52 671.24a1.3 1.3 0 1 0 2.6 0a1.3 1.3 0 1 0 -2.6 0M564.64 685.11a1.3 1.3 0 1 0 2.6 0a1.3 1.3 0 1 0 -2.6 0M441.55 759.55a1.3 1.3 0 1 0 2.6 0a1.3 1.3 0 1 0 -2.6 0M491.29 718.83a1.3 1.3 0 1 0 2.6 0a1.3 1.3 0 1 0 -2.6 0M476.66 690.86a1.3 1.3 0 1 0 2.6 0a1.3 1.3 0 1 0 -2.6 0M551.31 686.19a1.3 1.3 0 1 0 2.6 0a1.3 1.3 0 1 0 -2.6 0M486.24 735.08a1.3 1.3 0 1 0 2.6 0a1.3 1.3 0 1 0 -2.6 0M499.2 738.46a1.3 1.3 0 1 0 2.6 0a1.3 1.3 0 1 0 -2.6 0M472.07 773.58a1.3 1.3 0 1 0 2.6 0a1.3 1.3 0 1 0 -2.6 0M381.83 738.91a1.3 1.3 0 1 0 2.6 0a1.3 1.3 0 1 0 -2.6 0M495.07 673.3a1.3 1.3 0 1 0 2.6 0a1.3 1.3 0 1 0 -2.6 0M531.49 672.57a1.3 1.3 0 1 0 2.6 0a1.3 1.3 0 1 0 -2.6 0M581.62 689.37a1.3 1.3 0 1 0 2.6 0a1.3 1.3 0 1 0 -2.6 0M492.69 734.6a1.3 1.3 0 1 0 2.6 0a1.3 1.3 0 1 0 -2.6 0M553.92 709.23a1.3 1.3 0 1 0 2.6 0a1.3 1.3 0 1 0 -2.6 0M469.93 669.54a1.3 1.3 0 1 0 2.6 0a1.3 1.3 0 1 0 -2.6 0M579.29 696.72a1.3 1.3 0 1 0 2.6 0a1.3 1.3 0 1 0 -2.6 0M617.4 665.52a1.3 1.3 0 1 0 2.6 0a1.3 1.3 0 1 0 -2.6 0M499.47 662.18a1.3 1.3 0 1 0 2.6 0a1.3 1.3 0 1 0 -2.6 0M503.6 641.71a1.3 1.3 0 1 0 2.6 0a1.3 1.3 0 1 0 -2.6 0M564.78 662.01a1.3 1.3 0 1 0 2.6 0a1.3 1.3 0 1 0 -2.6 0M486.33 705.89a1.3 1.3 0 1 0 2.6 0a1.3 1.3 0 1 0 -2.6 0M520.12 683.22a1.3 1.3 0 1 0 2.6 0a1.3 1.3 0 1 0 -2.6 0M466.53 681.39a1.3 1.3 0 1 0 2.6 0a1.3 1.3 0 1 0 -2.6 0M536.39 687.09a1.3 1.3 0 1 0 2.6 0a1.3 1.3 0 1 0 -2.6 0M462.94 702.12a1.3 1.3 0 1 0 2.6 0a1.3 1.3 0 1 0 -2.6 0M538.33 663.73a1.3 1.3 0 1 0 2.6 0a1.3 1.3 0 1 0 -2.6 0M583.65 669.94a1.3 1.3 0 1 0 2.6 0a1.3 1.3 0 1 0 -2.6 0M447.95 704.23a1.3 1.3 0 1 0 2.6 0a1.3 1.3 0 1 0 -2.6 0M614.01 687.92a1.3 1.3 0 1 0 2.6 0a1.3 1.3 0 1 0 -2.6 0M566 688.17a1.3 1.3 0 1 0 2.6 0a1.3 1.3 0 1 0 -2.6 0M442.96 735.2a1.3 1.3 0 1 0 2.6 0a1.3 1.3 0 1 0 -2.6 0M513.56 722.31a1.3 1.3 0 1 0 2.6 0a1.3 1.3 0 1 0 -2.6 0M454.4 691.58a1.3 1.3 0 1 0 2.6 0a1.3 1.3 0 1 0 -2.6 0M619.46 646.74a1.3 1.3 0 1 0 2.6 0a1.3 1.3 0 1 0 -2.6 0M549.74 668.43a1.3 1.3 0 1 0 2.6 0a1.3 1.3 0 1 0 -2.6 0M494.85 684.44a1.3 1.3 0 1 0 2.6 0a1.3 1.3 0 1 0 -2.6 0M480.76 700.83a1.3 1.3 0 1 0 2.6 0a1.3 1.3 0 1 0 -2.6 0M571.36 699.64a1.3 1.3 0 1 0 2.6 0a1.3 1.3 0 1 0 -2.6 0M473.57 693.62a1.3 1.3 0 1 0 2.6 0a1.3 1.3 0 1 0 -2.6 0M532.38 663.09a1.3 1.3 0 1 0 2.6 0a1.3 1.3 0 1 0 -2.6 0M485.22 685.02a1.3 1.3 0 1 0 2.6 0a1.3 1.3 0 1 0 -2.6 0M483.98 714.08a1.3 1.3 0 1 0 2.6 0a1.3 1.3 0 1 0 -2.6 0M534.8 687.97a1.3 1.3 0 1 0 2.6 0a1.3 1.3 0 1 0 -2.6 0M534.9 664.79a1.3 1.3 0 1 0 2.6 0a1.3 1.3 0 1 0 -2.6 0M464.14 730.87a1.3 1.3 0 1 0 2.6 0a1.3 1.3 0 1 0 -2.6 0M545.54 685.41a1.3 1.3 0 1 0 2.6 0a1.3 1.3 0 1 0 -2.6 0M500.94 659.43a1.3 1.3 0 1 0 2.6 0a1.3 1.3 0 1 0 -2.6 0M486.55 645.71a1.3 1.3 0 1 0 2.6 0a1.3 1.3 0 1 0 -2.6 0M472.57 713.68a1.3 1.3 0 1 0 2.6 0a1.3 1.3 0 1 0 -2.6 0M521.67 631.37a1.3 1.3 0 1 0 2.6 0a1.3 1.3 0 1 0 -2.6 0M466.8 658.68a1.3 1.3 0 1 0 2.6 0a1.3 1.3 0 1 0 -2.6 0M600 650.39a1.3 1.3 0 1 0 2.6 0a1.3 1.3 0 1 0 -2.6 0M499.74 712.88a1.3 1.3 0 1 0 2.6 0a1.3 1.3 0 1 0 -2.6 0M519.06 693.78a1.3 1.3 0 1 0 2.6 0a1.3 1.3 0 1 0 -2.6 0M424.8 737.47a1.3 1.3 0 1 0 2.6 0a1.3 1.3 0 1 0 -2.6 0M574.65 615.07a1.3 1.3 0 1 0 2.6 0a1.3 1.3 0 1 0 -2.6 0M440.5 711.21a1.3 1.3 0 1 0 2.6 0a1.3 1.3 0 1 0 -2.6 0M428.79 713.94a1.3 1.3 0 1 0 2.6 0a1.3 1.3 0 1 0 -2.6 0M488.73 684.03a1.3 1.3 0 1 0 2.6 0a1.3 1.3 0 1 0 -2.6 0M568.38 694.85a1.3 1.3 0 1 0 2.6 0a1.3 1.3 0 1 0 -2.6 0M507.65 750.55a1.3 1.3 0 1 0 2.6 0a1.3 1.3 0 1 0 -2.6 0M470.49 688.17a1.3 1.3 0 1 0 2.6 0a1.3 1.3 0 1 0 -2.6 0M433.96 698.53a1.3 1.3 0 1 0 2.6 0a1.3 1.3 0 1 0 -2.6 0M571.09 672.46a1.3 1.3 0 1 0 2.6 0a1.3 1.3 0 1 0 -2.6 0M641.01 613.36a1.3 1.3 0 1 0 2.6 0a1.3 1.3 0 1 0 -2.6 0M488.31 677.34a1.3 1.3 0 1 0 2.6 0a1.3 1.3 0 1 0 -2.6 0M442.76 750.16a1.3 1.3 0 1 0 2.6 0a1.3 1.3 0 1 0 -2.6 0M606.36 659.68a1.3 1.3 0 1 0 2.6 0a1.3 1.3 0 1 0 -2.6 0M542.55 715.3a1.3 1.3 0 1 0 2.6 0a1.3 1.3 0 1 0 -2.6 0M509.4 682.22a1.3 1.3 0 1 0 2.6 0a1.3 1.3 0 1 0 -2.6 0M556.46 697.65a1.3 1.3 0 1 0 2.6 0a1.3 1.3 0 1 0 -2.6 0M474.73 716.51a1.3 1.3 0 1 0 2.6 0a1.3 1.3 0 1 0 -2.6 0M467.85 732.2a1.3 1.3 0 1 0 2.6 0a1.3 1.3 0 1 0 -2.6 0M493.53 640.7a1.3 1.3 0 1 0 2.6 0a1.3 1.3 0 1 0 -2.6 0M485.24 725.36a1.3 1.3 0 1 0 2.6 0a1.3 1.3 0 1 0 -2.6 0M519.48 719.29a1.3 1.3 0 1 0 2.6 0a1.3 1.3 0 1 0 -2.6 0M456.23 759.59a1.3 1.3 0 1 0 2.6 0a1.3 1.3 0 1 0 -2.6 0M533.39 695.33a1.3 1.3 0 1 0 2.6 0a1.3 1.3 0 1 0 -2.6 0M511.32 685.13a1.3 1.3 0 1 0 2.6 0a1.3 1.3 0 1 0 -2.6 0M494.53 748.39a1.3 1.3 0 1 0 2.6 0a1.3 1.3 0 1 0 -2.6 0M508.08 675.33a1.3 1.3 0 1 0 2.6 0a1.3 1.3 0 1 0 -2.6 0M511.55 656.84a1.3 1.3 0 1 0 2.6 0a1.3 1.3 0 1 0 -2.6 0M437.22 740.31a1.3 1.3 0 1 0 2.6 0a1.3 1.3 0 1 0 -2.6 0M583.57 633.58a1.3 1.3 0 1 0 2.6 0a1.3 1.3 0 1 0 -2.6 0M625.33 681.05a1.3 1.3 0 1 0 2.6 0a1.3 1.3 0 1 0 -2.6 0M504.42 678.99a1.3 1.3 0 1 0 2.6 0a1.3 1.3 0 1 0 -2.6 0M489.19 716.38a1.3 1.3 0 1 0 2.6 0a1.3 1.3 0 1 0 -2.6 0M448.38 731.58a1.3 1.3 0 1 0 2.6 0a1.3 1.3 0 1 0 -2.6 0M537.33 654.9a1.3 1.3 0 1 0 2.6 0a1.3 1.3 0 1 0 -2.6 0M587.32 702.92a1.3 1.3 0 1 0 2.6 0a1.3 1.3 0 1 0 -2.6 0M596.23 698.23a1.3 1.3 0 1 0 2.6 0a1.3 1.3 0 1 0 -2.6 0M617.38 682.86a1.3 1.3 0 1 0 2.6 0a1.3 1.3 0 1 0 -2.6 0M526.84 685.14a1.3 1.3 0 1 0 2.6 0a1.3 1.3 0 1 0 -2.6 0M402.42 721.95a1.3 1.3 0 1 0 2.6 0a1.3 1.3 0 1 0 -2.6 0M453.64 724.54a1.3 1.3 0 1 0 2.6 0a1.3 1.3 0 1 0 -2.6 0M521.96 660.4a1.3 1.3 0 1 0 2.6 0a1.3 1.3 0 1 0 -2.6 0M464.78 724.21a1.3 1.3 0 1 0 2.6 0a1.3 1.3 0 1 0 -2.6 0M509.04 721.39a1.3 1.3 0 1 0 2.6 0a1.3 1.3 0 1 0 -2.6 0M579.69 699.66a1.3 1.3 0 1 0 2.6 0a1.3 1.3 0 1 0 -2.6 0M585.99 682.23a1.3 1.3 0 1 0 2.6 0a1.3 1.3 0 1 0 -2.6 0M511.65 691.71a1.3 1.3 0 1 0 2.6 0a1.3 1.3 0 1 0 -2.6 0M497.14 720.67a1.3 1.3 0 1 0 2.6 0a1.3 1.3 0 1 0 -2.6 0M392.58 735.04a1.3 1.3 0 1 0 2.6 0a1.3 1.3 0 1 0 -2.6 0M517.06 659.97a1.3 1.3 0 1 0 2.6 0a1.3 1.3 0 1 0 -2.6 0M635.52 667.2a1.3 1.3 0 1 0 2.6 0a1.3 1.3 0 1 0 -2.6 0M532.02 714.57a1.3 1.3 0 1 0 2.6 0a1.3 1.3 0 1 0 -2.6 0M518.34 693.94a1.3 1.3 0 1 0 2.6 0a1.3 1.3 0 1 0 -2.6 0M491.56 686.34a1.3 1.3 0 1 0 2.6 0a1.3 1.3 0 1 0 -2.6 0M429.57 726.06a1.3 1.3 0 1 0 2.6 0a1.3 1.3 0 1 0 -2.6 0M516.94 679.11a1.3 1.3 0 1 0 2.6 0a1.3 1.3 0 1 0 -2.6 0M514.71 690.17a1.3 1.3 0 1 0 2.6 0a1.3 1.3 0 1 0 -2.6 0M511.36 705.01a1.3 1.3 0 1 0 2.6 0a1.3 1.3 0 1 0 -2.6 0M520.46 654a1.3 1.3 0 1 0 2.6 0a1.3 1.3 0 1 0 -2.6 0M488.67 684.32a1.3 1.3 0 1 0 2.6 0a1.3 1.3 0 1 0 -2.6 0M589.83 683.96a1.3 1.3 0 1 0 2.6 0a1.3 1.3 0 1 0 -2.6 0M659.49 679.7a1.3 1.3 0 1 0 2.6 0a1.3 1.3 0 1 0 -2.6 0M599.63 688.13a1.3 1.3 0 1 0 2.6 0a1.3 1.3 0 1 0 -2.6 0M494.21 681.74a1.3 1.3 0 1 0 2.6 0a1.3 1.3 0 1 0 -2.6 0M540.47 658.08a1.3 1.3 0 1 0 2.6 0a1.3 1.3 0 1 0 -2.6 0M604.56 644.81a1.3 1.3 0 1 0 2.6 0a1.3 1.3 0 1 0 -2.6 0M461.88 718.85a1.3 1.3 0 1 0 2.6 0a1.3 1.3 0 1 0 -2.6 0M478.73 728.29a1.3 1.3 0 1 0 2.6 0a1.3 1.3 0 1 0 -2.6 0M471.67 718.46a1.3 1.3 0 1 0 2.6 0a1.3 1.3 0 1 0 -2.6 0M494.41 713.72a1.3 1.3 0 1 0 2.6 0a1.3 1.3 0 1 0 -2.6 0M499.91 733.39a1.3 1.3 0 1 0 2.6 0a1.3 1.3 0 1 0 -2.6 0M488.01 677.99a1.3 1.3 0 1 0 2.6 0a1.3 1.3 0 1 0 -2.6 0M507.61 698.53a1.3 1.3 0 1 0 2.6 0a1.3 1.3 0 1 0 -2.6 0M501.59 699.4a1.3 1.3 0 1 0 2.6 0a1.3 1.3 0 1 0 -2.6 0M648.7 642.61a1.3 1.3 0 1 0 2.6 0a1.3 1.3 0 1 0 -2.6 0M468.92 721.04a1.3 1.3 0 1 0 2.6 0a1.3 1.3 0 1 0 -2.6 0M544.48 658.98a1.3 1.3 0 1 0 2.6 0a1.3 1.3 0 1 0 -2.6 0M460.13 711.25a1.3 1.3 0 1 0 2.6 0a1.3 1.3 0 1 0 -2.6 0M621.53 688.58a1.3 1.3 0 1 0 2.6 0a1.3 1.3 0 1 0 -2.6 0M484.95 711.36a1.3 1.3 0 1 0 2.6 0a1.3 1.3 0 1 0 -2.6 0M572.49 664.1a1.3 1.3 0 1 0 2.6 0a1.3 1.3 0 1 0 -2.6 0M460.85 691.63a1.3 1.3 0 1 0 2.6 0a1.3 1.3 0 1 0 -2.6 0M525.07 691.4a1.3 1.3 0 1 0 2.6 0a1.3 1.3 0 1 0 -2.6 0M615.68 663.06a1.3 1.3 0 1 0 2.6 0a1.3 1.3 0 1 0 -2.6 0M555.65 702.29a1.3 1.3 0 1 0 2.6 0a1.3 1.3 0 1 0 -2.6 0M513.42 666.99a1.3 1.3 0 1 0 2.6 0a1.3 1.3 0 1 0 -2.6 0M473.29 731.11a1.3 1.3 0 1 0 2.6 0a1.3 1.3 0 1 0 -2.6 0M625.16 693.08a1.3 1.3 0 1 0 2.6 0a1.3 1.3 0 1 0 -2.6 0M542.66 666.53a1.3 1.3 0 1 0 2.6 0a1.3 1.3 0 1 0 -2.6 0M617.27 635.8a1.3 1.3 0 1 0 2.6 0a1.3 1.3 0 1 0 -2.6 0M559.82 648.94a1.3 1.3 0 1 0 2.6 0a1.3 1.3 0 1 0 -2.6 0M501.41 666.14a1.3 1.3 0 1 0 2.6 0a1.3 1.3 0 1 0 -2.6 0M610.89 703.09a1.3 1.3 0 1 0 2.6 0a1.3 1.3 0 1 0 -2.6 0M554.98 675.19a1.3 1.3 0 1 0 2.6 0a1.3 1.3 0 1 0 -2.6 0M530.22 684.98a1.3 1.3 0 1 0 2.6 0a1.3 1.3 0 1 0 -2.6 0M492.48 658.29a1.3 1.3 0 1 0 2.6 0a1.3 1.3 0 1 0 -2.6 0M575.67 684.69a1.3 1.3 0 1 0 2.6 0a1.3 1.3 0 1 0 -2.6 0M524.81 750.44a1.3 1.3 0 1 0 2.6 0a1.3 1.3 0 1 0 -2.6 0M622.6 675.83a1.3 1.3 0 1 0 2.6 0a1.3 1.3 0 1 0 -2.6 0M523.95 689.86a1.3 1.3 0 1 0 2.6 0a1.3 1.3 0 1 0 -2.6 0M582.44 645.57a1.3 1.3 0 1 0 2.6 0a1.3 1.3 0 1 0 -2.6 0M400.06 719.3a1.3 1.3 0 1 0 2.6 0a1.3 1.3 0 1 0 -2.6 0M512.09 690.83a1.3 1.3 0 1 0 2.6 0a1.3 1.3 0 1 0 -2.6 0M600.5 654.29a1.3 1.3 0 1 0 2.6 0a1.3 1.3 0 1 0 -2.6 0M450.98 724.76a1.3 1.3 0 1 0 2.6 0a1.3 1.3 0 1 0 -2.6 0M467 713.67a1.3 1.3 0 1 0 2.6 0a1.3 1.3 0 1 0 -2.6 0M592.49 705.46a1.3 1.3 0 1 0 2.6 0a1.3 1.3 0 1 0 -2.6 0M534.63 707.24a1.3 1.3 0 1 0 2.6 0a1.3 1.3 0 1 0 -2.6 0M499.48 722.79a1.3 1.3 0 1 0 2.6 0a1.3 1.3 0 1 0 -2.6 0M562.44 628.29a1.3 1.3 0 1 0 2.6 0a1.3 1.3 0 1 0 -2.6 0M551.96 681.93a1.3 1.3 0 1 0 2.6 0a1.3 1.3 0 1 0 -2.6 0M521.19 712.57a1.3 1.3 0 1 0 2.6 0a1.3 1.3 0 1 0 -2.6 0M454.33 735.39a1.3 1.3 0 1 0 2.6 0a1.3 1.3 0 1 0 -2.6 0M472.44 715.46a1.3 1.3 0 1 0 2.6 0a1.3 1.3 0 1 0 -2.6 0M509.83 687.33a1.3 1.3 0 1 0 2.6 0a1.3 1.3 0 1 0 -2.6 0M526.56 704.05a1.3 1.3 0 1 0 2.6 0a1.3 1.3 0 1 0 -2.6 0M505.78 710.61a1.3 1.3 0 1 0 2.6 0a1.3 1.3 0 1 0 -2.6 0M521.03 691.98a1.3 1.3 0 1 0 2.6 0a1.3 1.3 0 1 0 -2.6 0M446.68 691.38a1.3 1.3 0 1 0 2.6 0a1.3 1.3 0 1 0 -2.6 0M585.45 694.07a1.3 1.3 0 1 0 2.6 0a1.3 1.3 0 1 0 -2.6 0M507.56 704.78a1.3 1.3 0 1 0 2.6 0a1.3 1.3 0 1 0 -2.6 0M498.99 688.89a1.3 1.3 0 1 0 2.6 0a1.3 1.3 0 1 0 -2.6 0M593.42 696.95a1.3 1.3 0 1 0 2.6 0a1.3 1.3 0 1 0 -2.6 0M484.72 698.16a1.3 1.3 0 1 0 2.6 0a1.3 1.3 0 1 0 -2.6 0M490.26 671.69a1.3 1.3 0 1 0 2.6 0a1.3 1.3 0 1 0 -2.6 0M586.3 704.94a1.3 1.3 0 1 0 2.6 0a1.3 1.3 0 1 0 -2.6 0M433.79 728.51a1.3 1.3 0 1 0 2.6 0a1.3 1.3 0 1 0 -2.6 0M515.67 726.87a1.3 1.3 0 1 0 2.6 0a1.3 1.3 0 1 0 -2.6 0M550.06 683.5a1.3 1.3 0 1 0 2.6 0a1.3 1.3 0 1 0 -2.6 0M441.38 736.83a1.3 1.3 0 1 0 2.6 0a1.3 1.3 0 1 0 -2.6 0M490.46 696.23a1.3 1.3 0 1 0 2.6 0a1.3 1.3 0 1 0 -2.6 0M453.45 732.24a1.3 1.3 0 1 0 2.6 0a1.3 1.3 0 1 0 -2.6 0M458.85 693.37a1.3 1.3 0 1 0 2.6 0a1.3 1.3 0 1 0 -2.6 0M504.92 711.16a1.3 1.3 0 1 0 2.6 0a1.3 1.3 0 1 0 -2.6 0M531.24 706.32a1.3 1.3 0 1 0 2.6 0a1.3 1.3 0 1 0 -2.6 0M464.69 675.51a1.3 1.3 0 1 0 2.6 0a1.3 1.3 0 1 0 -2.6 0M496.05 724.37a1.3 1.3 0 1 0 2.6 0a1.3 1.3 0 1 0 -2.6 0M507.49 696.94a1.3 1.3 0 1 0 2.6 0a1.3 1.3 0 1 0 -2.6 0M605.24 673.01a1.3 1.3 0 1 0 2.6 0a1.3 1.3 0 1 0 -2.6 0M419.58 737.18a1.3 1.3 0 1 0 2.6 0a1.3 1.3 0 1 0 -2.6 0M436.75 766.25a1.3 1.3 0 1 0 2.6 0a1.3 1.3 0 1 0 -2.6 0M431.6 711.21a1.3 1.3 0 1 0 2.6 0a1.3 1.3 0 1 0 -2.6 0M492.77 714.35a1.3 1.3 0 1 0 2.6 0a1.3 1.3 0 1 0 -2.6 0M493.7 694.35a1.3 1.3 0 1 0 2.6 0a1.3 1.3 0 1 0 -2.6 0M469.82 706.59a1.3 1.3 0 1 0 2.6 0a1.3 1.3 0 1 0 -2.6 0M513.4 598.3a1.3 1.3 0 1 0 2.6 0a1.3 1.3 0 1 0 -2.6 0" stroke="#952b27" stroke-width="1.2" fill="none"/>
<line x1="368.6" y1="773.6" x2="371.6" y2="773.6" stroke="#1a1a1a" stroke-width="1" />
<text transform="translate(364.6 771.2) rotate(-90)" font-size="9.2" text-anchor="middle" fill="#111">0.0</text>
<line x1="368.6" y1="734.32" x2="371.6" y2="734.32" stroke="#1a1a1a" stroke-width="1" />
<text transform="translate(364.6 731.92) rotate(-90)" font-size="9.2" text-anchor="middle" fill="#111">0.1</text>
<line x1="368.6" y1="695.04" x2="371.6" y2="695.04" stroke="#1a1a1a" stroke-width="1" />
<text transform="translate(364.6 692.64) rotate(-90)" font-size="9.2" text-anchor="middle" fill="#111">0.2</text>
<line x1="368.6" y1="655.76" x2="371.6" y2="655.76" stroke="#1a1a1a" stroke-width="1" />
<text transform="translate(364.6 653.36) rotate(-90)" font-size="9.2" text-anchor="middle" fill="#111">0.3</text>
<line x1="368.6" y1="616.48" x2="371.6" y2="616.48" stroke="#1a1a1a" stroke-width="1" />
<text transform="translate(364.6 614.08) rotate(-90)" font-size="9.2" text-anchor="middle" fill="#111">0.4</text>
<line x1="380.5" y1="779.2" x2="380.5" y2="782" stroke="#1a1a1a" stroke-width="1" />
<text x="383.3" y="790.6" font-size="9.2" text-anchor="middle" fill="#111">0.0</text>
<line x1="449.2" y1="779.2" x2="449.2" y2="782" stroke="#1a1a1a" stroke-width="1" />
<text x="452" y="790.6" font-size="9.2" text-anchor="middle" fill="#111">0.2</text>
<line x1="517.9" y1="779.2" x2="517.9" y2="782" stroke="#1a1a1a" stroke-width="1" />
<text x="520.7" y="790.6" font-size="9.2" text-anchor="middle" fill="#111">0.4</text>
<line x1="586.6" y1="779.2" x2="586.6" y2="782" stroke="#1a1a1a" stroke-width="1" />
<text x="589.4" y="790.6" font-size="9.2" text-anchor="middle" fill="#111">0.6</text>
<line x1="655.3" y1="779.2" x2="655.3" y2="782" stroke="#1a1a1a" stroke-width="1" />
<text x="658.1" y="790.6" font-size="9.2" text-anchor="middle" fill="#111">0.8</text>
<text x="554" y="802" font-size="9.25" text-anchor="middle" fill="#111" textLength="156" lengthAdjust="spacingAndGlyphs">Module Membership in brown module</text>
<text transform="translate(352.2 666.5) rotate(-90)" font-size="8.64" text-anchor="middle" fill="#111" textLength="108" lengthAdjust="spacingAndGlyphs">Gene significance for Tumor</text>
</svg>
</body></html>
